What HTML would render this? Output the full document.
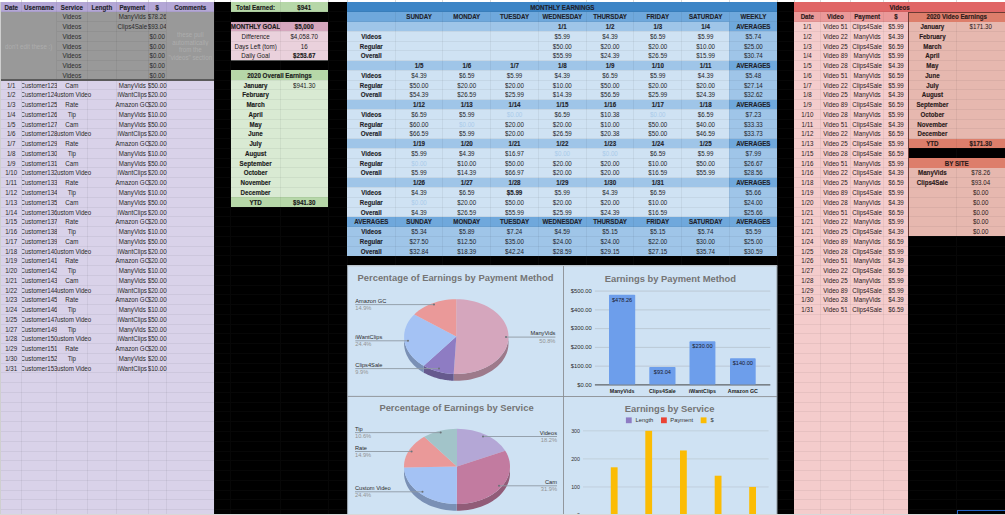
<!DOCTYPE html>
<html><head><meta charset="utf-8"><style>
html,body{margin:0;padding:0;}
body{width:1005px;height:515px;position:relative;overflow:hidden;background:#000;font-family:"Liberation Sans",sans-serif;}
#r>div{position:absolute;}
.t{overflow:hidden;}
.ti{position:absolute;top:0.5px;transform:scaleY(1.15);display:flex;align-items:center;white-space:nowrap;line-height:1;}
</style></head><body><div id="r">
<div style="left:0.00px;top:0.00px;width:1005.00px;height:515.00px;background:#000;"></div><div style="left:0.00px;top:0.00px;width:1005.00px;height:2.04px;background:#fff;"></div><div style="left:21.00px;top:2.04px;width:1.00px;height:512.96px;background:#070707;"></div><div style="left:56.00px;top:2.04px;width:1.00px;height:512.96px;background:#070707;"></div><div style="left:86.70px;top:2.04px;width:1.00px;height:512.96px;background:#070707;"></div><div style="left:116.10px;top:2.04px;width:1.00px;height:512.96px;background:#070707;"></div><div style="left:147.50px;top:2.04px;width:1.00px;height:512.96px;background:#070707;"></div><div style="left:165.90px;top:2.04px;width:1.00px;height:512.96px;background:#070707;"></div><div style="left:213.70px;top:2.04px;width:1.00px;height:512.96px;background:#070707;"></div><div style="left:230.40px;top:2.04px;width:1.00px;height:512.96px;background:#070707;"></div><div style="left:279.80px;top:2.04px;width:1.00px;height:512.96px;background:#070707;"></div><div style="left:327.60px;top:2.04px;width:1.00px;height:512.96px;background:#070707;"></div><div style="left:346.90px;top:2.04px;width:1.00px;height:512.96px;background:#070707;"></div><div style="left:394.66px;top:2.04px;width:1.00px;height:512.96px;background:#070707;"></div><div style="left:442.42px;top:2.04px;width:1.00px;height:512.96px;background:#070707;"></div><div style="left:490.18px;top:2.04px;width:1.00px;height:512.96px;background:#070707;"></div><div style="left:537.94px;top:2.04px;width:1.00px;height:512.96px;background:#070707;"></div><div style="left:585.70px;top:2.04px;width:1.00px;height:512.96px;background:#070707;"></div><div style="left:633.46px;top:2.04px;width:1.00px;height:512.96px;background:#070707;"></div><div style="left:681.22px;top:2.04px;width:1.00px;height:512.96px;background:#070707;"></div><div style="left:728.98px;top:2.04px;width:1.00px;height:512.96px;background:#070707;"></div><div style="left:776.74px;top:2.04px;width:1.00px;height:512.96px;background:#070707;"></div><div style="left:793.80px;top:2.04px;width:1.00px;height:512.96px;background:#070707;"></div><div style="left:819.90px;top:2.04px;width:1.00px;height:512.96px;background:#070707;"></div><div style="left:850.10px;top:2.04px;width:1.00px;height:512.96px;background:#070707;"></div><div style="left:883.20px;top:2.04px;width:1.00px;height:512.96px;background:#070707;"></div><div style="left:907.90px;top:2.04px;width:1.00px;height:512.96px;background:#070707;"></div><div style="left:955.90px;top:2.04px;width:1.00px;height:512.96px;background:#070707;"></div><div style="left:0.00px;top:11.30px;width:1005.00px;height:1.00px;background:#070707;"></div><div style="left:0.00px;top:21.06px;width:1005.00px;height:1.00px;background:#070707;"></div><div style="left:0.00px;top:30.82px;width:1005.00px;height:1.00px;background:#070707;"></div><div style="left:0.00px;top:40.58px;width:1005.00px;height:1.00px;background:#070707;"></div><div style="left:0.00px;top:50.34px;width:1005.00px;height:1.00px;background:#070707;"></div><div style="left:0.00px;top:60.10px;width:1005.00px;height:1.00px;background:#070707;"></div><div style="left:0.00px;top:69.86px;width:1005.00px;height:1.00px;background:#070707;"></div><div style="left:0.00px;top:79.62px;width:1005.00px;height:1.00px;background:#070707;"></div><div style="left:0.00px;top:89.38px;width:1005.00px;height:1.00px;background:#070707;"></div><div style="left:0.00px;top:99.14px;width:1005.00px;height:1.00px;background:#070707;"></div><div style="left:0.00px;top:108.90px;width:1005.00px;height:1.00px;background:#070707;"></div><div style="left:0.00px;top:118.66px;width:1005.00px;height:1.00px;background:#070707;"></div><div style="left:0.00px;top:128.42px;width:1005.00px;height:1.00px;background:#070707;"></div><div style="left:0.00px;top:138.18px;width:1005.00px;height:1.00px;background:#070707;"></div><div style="left:0.00px;top:147.94px;width:1005.00px;height:1.00px;background:#070707;"></div><div style="left:0.00px;top:157.70px;width:1005.00px;height:1.00px;background:#070707;"></div><div style="left:0.00px;top:167.46px;width:1005.00px;height:1.00px;background:#070707;"></div><div style="left:0.00px;top:177.22px;width:1005.00px;height:1.00px;background:#070707;"></div><div style="left:0.00px;top:186.98px;width:1005.00px;height:1.00px;background:#070707;"></div><div style="left:0.00px;top:196.74px;width:1005.00px;height:1.00px;background:#070707;"></div><div style="left:0.00px;top:206.50px;width:1005.00px;height:1.00px;background:#070707;"></div><div style="left:0.00px;top:216.26px;width:1005.00px;height:1.00px;background:#070707;"></div><div style="left:0.00px;top:226.02px;width:1005.00px;height:1.00px;background:#070707;"></div><div style="left:0.00px;top:235.78px;width:1005.00px;height:1.00px;background:#070707;"></div><div style="left:0.00px;top:245.54px;width:1005.00px;height:1.00px;background:#070707;"></div><div style="left:0.00px;top:255.30px;width:1005.00px;height:1.00px;background:#070707;"></div><div style="left:0.00px;top:265.06px;width:1005.00px;height:1.00px;background:#070707;"></div><div style="left:0.00px;top:274.82px;width:1005.00px;height:1.00px;background:#070707;"></div><div style="left:0.00px;top:284.58px;width:1005.00px;height:1.00px;background:#070707;"></div><div style="left:0.00px;top:294.34px;width:1005.00px;height:1.00px;background:#070707;"></div><div style="left:0.00px;top:304.10px;width:1005.00px;height:1.00px;background:#070707;"></div><div style="left:0.00px;top:313.86px;width:1005.00px;height:1.00px;background:#070707;"></div><div style="left:0.00px;top:323.62px;width:1005.00px;height:1.00px;background:#070707;"></div><div style="left:0.00px;top:333.38px;width:1005.00px;height:1.00px;background:#070707;"></div><div style="left:0.00px;top:343.14px;width:1005.00px;height:1.00px;background:#070707;"></div><div style="left:0.00px;top:352.90px;width:1005.00px;height:1.00px;background:#070707;"></div><div style="left:0.00px;top:362.66px;width:1005.00px;height:1.00px;background:#070707;"></div><div style="left:0.00px;top:372.42px;width:1005.00px;height:1.00px;background:#070707;"></div><div style="left:0.00px;top:382.18px;width:1005.00px;height:1.00px;background:#070707;"></div><div style="left:0.00px;top:391.94px;width:1005.00px;height:1.00px;background:#070707;"></div><div style="left:0.00px;top:401.70px;width:1005.00px;height:1.00px;background:#070707;"></div><div style="left:0.00px;top:411.46px;width:1005.00px;height:1.00px;background:#070707;"></div><div style="left:0.00px;top:421.22px;width:1005.00px;height:1.00px;background:#070707;"></div><div style="left:0.00px;top:430.98px;width:1005.00px;height:1.00px;background:#070707;"></div><div style="left:0.00px;top:440.74px;width:1005.00px;height:1.00px;background:#070707;"></div><div style="left:0.00px;top:450.50px;width:1005.00px;height:1.00px;background:#070707;"></div><div style="left:0.00px;top:460.26px;width:1005.00px;height:1.00px;background:#070707;"></div><div style="left:0.00px;top:470.02px;width:1005.00px;height:1.00px;background:#070707;"></div><div style="left:0.00px;top:479.78px;width:1005.00px;height:1.00px;background:#070707;"></div><div style="left:0.00px;top:489.54px;width:1005.00px;height:1.00px;background:#070707;"></div><div style="left:0.00px;top:499.30px;width:1005.00px;height:1.00px;background:#070707;"></div><div style="left:0.00px;top:509.06px;width:1005.00px;height:1.00px;background:#070707;"></div><div style="left:0.00px;top:518.82px;width:1005.00px;height:1.00px;background:#070707;"></div><div style="left:0.00px;top:2.04px;width:214.20px;height:512.96px;background:#d9d2e9;"></div><div style="left:0.00px;top:2.04px;width:0.90px;height:512.96px;background:#cfcfcf;"></div><div style="left:0.90px;top:2.04px;width:213.30px;height:9.76px;background:#b4a7d6;"></div><div style="left:0.90px;top:11.80px;width:213.30px;height:68.32px;background:#999999;"></div><div style="left:0.90px;top:11.80px;width:55.10px;height:67.82px;background:#999999;"></div><div style="left:166.90px;top:11.80px;width:47.30px;height:67.82px;background:#999999;"></div><div style="left:230.90px;top:2.04px;width:97.20px;height:9.76px;background:#b6d7a8;"></div><div style="left:230.90px;top:21.56px;width:97.20px;height:9.76px;background:#d5a6bd;"></div><div style="left:230.90px;top:31.32px;width:97.20px;height:9.76px;background:#ead1dc;"></div><div style="left:230.90px;top:41.08px;width:97.20px;height:9.76px;background:#ead1dc;"></div><div style="left:230.90px;top:50.84px;width:97.20px;height:9.76px;background:#ead1dc;"></div><div style="left:230.90px;top:70.36px;width:97.20px;height:9.76px;background:#b6d7a8;"></div><div style="left:230.90px;top:80.12px;width:97.20px;height:9.76px;background:#d9ead3;"></div><div style="left:230.90px;top:89.88px;width:97.20px;height:9.76px;background:#d9ead3;"></div><div style="left:230.90px;top:99.64px;width:97.20px;height:9.76px;background:#d9ead3;"></div><div style="left:230.90px;top:109.40px;width:97.20px;height:9.76px;background:#d9ead3;"></div><div style="left:230.90px;top:119.16px;width:97.20px;height:9.76px;background:#d9ead3;"></div><div style="left:230.90px;top:128.92px;width:97.20px;height:9.76px;background:#d9ead3;"></div><div style="left:230.90px;top:138.68px;width:97.20px;height:9.76px;background:#d9ead3;"></div><div style="left:230.90px;top:148.44px;width:97.20px;height:9.76px;background:#d9ead3;"></div><div style="left:230.90px;top:158.20px;width:97.20px;height:9.76px;background:#d9ead3;"></div><div style="left:230.90px;top:167.96px;width:97.20px;height:9.76px;background:#d9ead3;"></div><div style="left:230.90px;top:177.72px;width:97.20px;height:9.76px;background:#d9ead3;"></div><div style="left:230.90px;top:187.48px;width:97.20px;height:9.76px;background:#d9ead3;"></div><div style="left:230.90px;top:197.24px;width:97.20px;height:9.76px;background:#b6d7a8;"></div><div style="left:347.40px;top:2.04px;width:429.84px;height:9.76px;background:#3d85c6;"></div><div style="left:347.40px;top:11.80px;width:429.84px;height:9.76px;background:#6fa8dc;"></div><div style="left:347.40px;top:21.56px;width:382.08px;height:9.76px;background:#9fc5e8;"></div><div style="left:729.48px;top:21.56px;width:47.76px;height:9.76px;background:#6fa8dc;"></div><div style="left:347.40px;top:31.32px;width:382.08px;height:9.76px;background:#cfe2f3;"></div><div style="left:729.48px;top:31.32px;width:47.76px;height:9.76px;background:#9fc5e8;"></div><div style="left:347.40px;top:41.08px;width:382.08px;height:9.76px;background:#cfe2f3;"></div><div style="left:729.48px;top:41.08px;width:47.76px;height:9.76px;background:#9fc5e8;"></div><div style="left:347.40px;top:50.84px;width:382.08px;height:9.76px;background:#cfe2f3;"></div><div style="left:729.48px;top:50.84px;width:47.76px;height:9.76px;background:#9fc5e8;"></div><div style="left:347.40px;top:60.60px;width:382.08px;height:9.76px;background:#9fc5e8;"></div><div style="left:729.48px;top:60.60px;width:47.76px;height:9.76px;background:#6fa8dc;"></div><div style="left:347.40px;top:70.36px;width:382.08px;height:9.76px;background:#cfe2f3;"></div><div style="left:729.48px;top:70.36px;width:47.76px;height:9.76px;background:#9fc5e8;"></div><div style="left:347.40px;top:80.12px;width:382.08px;height:9.76px;background:#cfe2f3;"></div><div style="left:729.48px;top:80.12px;width:47.76px;height:9.76px;background:#9fc5e8;"></div><div style="left:347.40px;top:89.88px;width:382.08px;height:9.76px;background:#cfe2f3;"></div><div style="left:729.48px;top:89.88px;width:47.76px;height:9.76px;background:#9fc5e8;"></div><div style="left:347.40px;top:99.64px;width:382.08px;height:9.76px;background:#9fc5e8;"></div><div style="left:729.48px;top:99.64px;width:47.76px;height:9.76px;background:#6fa8dc;"></div><div style="left:347.40px;top:109.40px;width:382.08px;height:9.76px;background:#cfe2f3;"></div><div style="left:729.48px;top:109.40px;width:47.76px;height:9.76px;background:#9fc5e8;"></div><div style="left:347.40px;top:119.16px;width:382.08px;height:9.76px;background:#cfe2f3;"></div><div style="left:729.48px;top:119.16px;width:47.76px;height:9.76px;background:#9fc5e8;"></div><div style="left:347.40px;top:128.92px;width:382.08px;height:9.76px;background:#cfe2f3;"></div><div style="left:729.48px;top:128.92px;width:47.76px;height:9.76px;background:#9fc5e8;"></div><div style="left:347.40px;top:138.68px;width:382.08px;height:9.76px;background:#9fc5e8;"></div><div style="left:729.48px;top:138.68px;width:47.76px;height:9.76px;background:#6fa8dc;"></div><div style="left:347.40px;top:148.44px;width:382.08px;height:9.76px;background:#cfe2f3;"></div><div style="left:729.48px;top:148.44px;width:47.76px;height:9.76px;background:#9fc5e8;"></div><div style="left:347.40px;top:158.20px;width:382.08px;height:9.76px;background:#cfe2f3;"></div><div style="left:729.48px;top:158.20px;width:47.76px;height:9.76px;background:#9fc5e8;"></div><div style="left:347.40px;top:167.96px;width:382.08px;height:9.76px;background:#cfe2f3;"></div><div style="left:729.48px;top:167.96px;width:47.76px;height:9.76px;background:#9fc5e8;"></div><div style="left:347.40px;top:177.72px;width:382.08px;height:9.76px;background:#9fc5e8;"></div><div style="left:729.48px;top:177.72px;width:47.76px;height:9.76px;background:#6fa8dc;"></div><div style="left:347.40px;top:187.48px;width:382.08px;height:9.76px;background:#cfe2f3;"></div><div style="left:729.48px;top:187.48px;width:47.76px;height:9.76px;background:#9fc5e8;"></div><div style="left:347.40px;top:197.24px;width:382.08px;height:9.76px;background:#cfe2f3;"></div><div style="left:729.48px;top:197.24px;width:47.76px;height:9.76px;background:#9fc5e8;"></div><div style="left:347.40px;top:207.00px;width:382.08px;height:9.76px;background:#cfe2f3;"></div><div style="left:729.48px;top:207.00px;width:47.76px;height:9.76px;background:#9fc5e8;"></div><div style="left:347.40px;top:216.76px;width:429.84px;height:9.76px;background:#6fa8dc;"></div><div style="left:347.40px;top:226.52px;width:429.84px;height:9.76px;background:#9fc5e8;"></div><div style="left:347.40px;top:236.28px;width:429.84px;height:9.76px;background:#9fc5e8;"></div><div style="left:347.40px;top:246.04px;width:429.84px;height:9.76px;background:#9fc5e8;"></div><div style="left:794.30px;top:2.04px;width:114.10px;height:512.96px;background:#f4cccc;"></div><div style="left:794.30px;top:2.04px;width:210.70px;height:9.76px;background:#e06666;"></div><div style="left:794.30px;top:11.80px;width:114.10px;height:9.76px;background:#ea9999;"></div><div style="left:908.40px;top:11.80px;width:96.60px;height:9.76px;background:#dd7e6b;"></div><div style="left:908.40px;top:21.56px;width:96.60px;height:9.76px;background:#e6b8af;"></div><div style="left:908.40px;top:31.32px;width:96.60px;height:9.76px;background:#e6b8af;"></div><div style="left:908.40px;top:41.08px;width:96.60px;height:9.76px;background:#e6b8af;"></div><div style="left:908.40px;top:50.84px;width:96.60px;height:9.76px;background:#e6b8af;"></div><div style="left:908.40px;top:60.60px;width:96.60px;height:9.76px;background:#e6b8af;"></div><div style="left:908.40px;top:70.36px;width:96.60px;height:9.76px;background:#e6b8af;"></div><div style="left:908.40px;top:80.12px;width:96.60px;height:9.76px;background:#e6b8af;"></div><div style="left:908.40px;top:89.88px;width:96.60px;height:9.76px;background:#e6b8af;"></div><div style="left:908.40px;top:99.64px;width:96.60px;height:9.76px;background:#e6b8af;"></div><div style="left:908.40px;top:109.40px;width:96.60px;height:9.76px;background:#e6b8af;"></div><div style="left:908.40px;top:119.16px;width:96.60px;height:9.76px;background:#e6b8af;"></div><div style="left:908.40px;top:128.92px;width:96.60px;height:9.76px;background:#e6b8af;"></div><div style="left:908.40px;top:138.68px;width:96.60px;height:9.76px;background:#dd7e6b;"></div><div style="left:908.40px;top:158.20px;width:96.60px;height:9.76px;background:#dd7e6b;"></div><div style="left:908.40px;top:167.96px;width:96.60px;height:9.76px;background:#e6b8af;"></div><div style="left:908.40px;top:177.72px;width:96.60px;height:9.76px;background:#e6b8af;"></div><div style="left:908.40px;top:187.48px;width:96.60px;height:9.76px;background:#e6b8af;"></div><div style="left:908.40px;top:197.24px;width:96.60px;height:9.76px;background:#e6b8af;"></div><div style="left:908.40px;top:207.00px;width:96.60px;height:9.76px;background:#e6b8af;"></div><div style="left:908.40px;top:216.76px;width:96.60px;height:9.76px;background:#e6b8af;"></div><div style="left:908.40px;top:226.52px;width:96.60px;height:9.76px;background:#e6b8af;"></div><div style="left:0.90px;top:11.30px;width:213.30px;height:1px;background:rgba(0,0,0,0.05)"></div><div style="left:56.50px;top:21.06px;width:109.90px;height:1px;background:rgba(0,0,0,0.05)"></div><div style="left:56.50px;top:30.82px;width:109.90px;height:1px;background:rgba(0,0,0,0.05)"></div><div style="left:56.50px;top:40.58px;width:109.90px;height:1px;background:rgba(0,0,0,0.05)"></div><div style="left:56.50px;top:50.34px;width:109.90px;height:1px;background:rgba(0,0,0,0.05)"></div><div style="left:56.50px;top:60.10px;width:109.90px;height:1px;background:rgba(0,0,0,0.05)"></div><div style="left:56.50px;top:69.86px;width:109.90px;height:1px;background:rgba(0,0,0,0.05)"></div><div style="left:0.90px;top:79.62px;width:213.30px;height:1px;background:rgba(0,0,0,0.05)"></div><div style="left:0.90px;top:89.38px;width:213.30px;height:1px;background:rgba(0,0,0,0.05)"></div><div style="left:0.90px;top:99.14px;width:213.30px;height:1px;background:rgba(0,0,0,0.05)"></div><div style="left:0.90px;top:108.90px;width:213.30px;height:1px;background:rgba(0,0,0,0.05)"></div><div style="left:0.90px;top:118.66px;width:213.30px;height:1px;background:rgba(0,0,0,0.05)"></div><div style="left:0.90px;top:128.42px;width:213.30px;height:1px;background:rgba(0,0,0,0.05)"></div><div style="left:0.90px;top:138.18px;width:213.30px;height:1px;background:rgba(0,0,0,0.05)"></div><div style="left:0.90px;top:147.94px;width:213.30px;height:1px;background:rgba(0,0,0,0.05)"></div><div style="left:0.90px;top:157.70px;width:213.30px;height:1px;background:rgba(0,0,0,0.05)"></div><div style="left:0.90px;top:167.46px;width:213.30px;height:1px;background:rgba(0,0,0,0.05)"></div><div style="left:0.90px;top:177.22px;width:213.30px;height:1px;background:rgba(0,0,0,0.05)"></div><div style="left:0.90px;top:186.98px;width:213.30px;height:1px;background:rgba(0,0,0,0.05)"></div><div style="left:0.90px;top:196.74px;width:213.30px;height:1px;background:rgba(0,0,0,0.05)"></div><div style="left:0.90px;top:206.50px;width:213.30px;height:1px;background:rgba(0,0,0,0.05)"></div><div style="left:0.90px;top:216.26px;width:213.30px;height:1px;background:rgba(0,0,0,0.05)"></div><div style="left:0.90px;top:226.02px;width:213.30px;height:1px;background:rgba(0,0,0,0.05)"></div><div style="left:0.90px;top:235.78px;width:213.30px;height:1px;background:rgba(0,0,0,0.05)"></div><div style="left:0.90px;top:245.54px;width:213.30px;height:1px;background:rgba(0,0,0,0.05)"></div><div style="left:0.90px;top:255.30px;width:213.30px;height:1px;background:rgba(0,0,0,0.05)"></div><div style="left:0.90px;top:265.06px;width:213.30px;height:1px;background:rgba(0,0,0,0.05)"></div><div style="left:0.90px;top:274.82px;width:213.30px;height:1px;background:rgba(0,0,0,0.05)"></div><div style="left:0.90px;top:284.58px;width:213.30px;height:1px;background:rgba(0,0,0,0.05)"></div><div style="left:0.90px;top:294.34px;width:213.30px;height:1px;background:rgba(0,0,0,0.05)"></div><div style="left:0.90px;top:304.10px;width:213.30px;height:1px;background:rgba(0,0,0,0.05)"></div><div style="left:0.90px;top:313.86px;width:213.30px;height:1px;background:rgba(0,0,0,0.05)"></div><div style="left:0.90px;top:323.62px;width:213.30px;height:1px;background:rgba(0,0,0,0.05)"></div><div style="left:0.90px;top:333.38px;width:213.30px;height:1px;background:rgba(0,0,0,0.05)"></div><div style="left:0.90px;top:343.14px;width:213.30px;height:1px;background:rgba(0,0,0,0.05)"></div><div style="left:0.90px;top:352.90px;width:213.30px;height:1px;background:rgba(0,0,0,0.05)"></div><div style="left:0.90px;top:362.66px;width:213.30px;height:1px;background:rgba(0,0,0,0.05)"></div><div style="left:0.90px;top:372.42px;width:213.30px;height:1px;background:rgba(0,0,0,0.05)"></div><div style="left:0.90px;top:382.18px;width:213.30px;height:1px;background:rgba(0,0,0,0.05)"></div><div style="left:0.90px;top:391.94px;width:213.30px;height:1px;background:rgba(0,0,0,0.05)"></div><div style="left:0.90px;top:401.70px;width:213.30px;height:1px;background:rgba(0,0,0,0.05)"></div><div style="left:0.90px;top:411.46px;width:213.30px;height:1px;background:rgba(0,0,0,0.05)"></div><div style="left:0.90px;top:421.22px;width:213.30px;height:1px;background:rgba(0,0,0,0.05)"></div><div style="left:0.90px;top:430.98px;width:213.30px;height:1px;background:rgba(0,0,0,0.05)"></div><div style="left:0.90px;top:440.74px;width:213.30px;height:1px;background:rgba(0,0,0,0.05)"></div><div style="left:0.90px;top:450.50px;width:213.30px;height:1px;background:rgba(0,0,0,0.05)"></div><div style="left:0.90px;top:460.26px;width:213.30px;height:1px;background:rgba(0,0,0,0.05)"></div><div style="left:0.90px;top:470.02px;width:213.30px;height:1px;background:rgba(0,0,0,0.05)"></div><div style="left:0.90px;top:479.78px;width:213.30px;height:1px;background:rgba(0,0,0,0.05)"></div><div style="left:0.90px;top:489.54px;width:213.30px;height:1px;background:rgba(0,0,0,0.05)"></div><div style="left:0.90px;top:499.30px;width:213.30px;height:1px;background:rgba(0,0,0,0.05)"></div><div style="left:0.90px;top:509.06px;width:213.30px;height:1px;background:rgba(0,0,0,0.05)"></div><div style="left:0.90px;top:518.82px;width:213.30px;height:1px;background:rgba(0,0,0,0.05)"></div><div style="left:21.00px;top:2.04px;width:1px;height:9.76px;background:rgba(0,0,0,0.05)"></div><div style="left:21.00px;top:80.12px;width:1px;height:434.88px;background:rgba(0,0,0,0.05)"></div><div style="left:56.00px;top:2.04px;width:1px;height:512.96px;background:rgba(0,0,0,0.05)"></div><div style="left:86.70px;top:2.04px;width:1px;height:512.96px;background:rgba(0,0,0,0.05)"></div><div style="left:116.10px;top:2.04px;width:1px;height:512.96px;background:rgba(0,0,0,0.05)"></div><div style="left:147.50px;top:2.04px;width:1px;height:512.96px;background:rgba(0,0,0,0.05)"></div><div style="left:165.90px;top:2.04px;width:1px;height:512.96px;background:rgba(0,0,0,0.05)"></div><div style="left:0.90px;top:79.12px;width:213.30px;height:1.5px;background:#5a5a5a"></div><div style="left:279.80px;top:2.04px;width:1px;height:9.76px;background:rgba(0,0,0,0.05)"></div><div style="left:230.90px;top:11.30px;width:97.20px;height:1px;background:rgba(0,0,0,0.05)"></div><div style="left:279.80px;top:21.56px;width:1px;height:9.76px;background:rgba(0,0,0,0.05)"></div><div style="left:230.90px;top:30.82px;width:97.20px;height:1px;background:rgba(0,0,0,0.05)"></div><div style="left:279.80px;top:31.32px;width:1px;height:9.76px;background:rgba(0,0,0,0.05)"></div><div style="left:230.90px;top:40.58px;width:97.20px;height:1px;background:rgba(0,0,0,0.05)"></div><div style="left:279.80px;top:41.08px;width:1px;height:9.76px;background:rgba(0,0,0,0.05)"></div><div style="left:230.90px;top:50.34px;width:97.20px;height:1px;background:rgba(0,0,0,0.05)"></div><div style="left:279.80px;top:50.84px;width:1px;height:9.76px;background:rgba(0,0,0,0.05)"></div><div style="left:230.90px;top:60.10px;width:97.20px;height:1px;background:rgba(0,0,0,0.05)"></div><div style="left:230.90px;top:60.30px;width:97.20px;height:1px;background:#555"></div><div style="left:230.90px;top:79.62px;width:97.20px;height:1px;background:rgba(0,0,0,0.05)"></div><div style="left:279.80px;top:80.12px;width:1px;height:9.76px;background:rgba(0,0,0,0.05)"></div><div style="left:230.90px;top:89.38px;width:97.20px;height:1px;background:rgba(0,0,0,0.05)"></div><div style="left:279.80px;top:89.88px;width:1px;height:9.76px;background:rgba(0,0,0,0.05)"></div><div style="left:230.90px;top:99.14px;width:97.20px;height:1px;background:rgba(0,0,0,0.05)"></div><div style="left:279.80px;top:99.64px;width:1px;height:9.76px;background:rgba(0,0,0,0.05)"></div><div style="left:230.90px;top:108.90px;width:97.20px;height:1px;background:rgba(0,0,0,0.05)"></div><div style="left:279.80px;top:109.40px;width:1px;height:9.76px;background:rgba(0,0,0,0.05)"></div><div style="left:230.90px;top:118.66px;width:97.20px;height:1px;background:rgba(0,0,0,0.05)"></div><div style="left:279.80px;top:119.16px;width:1px;height:9.76px;background:rgba(0,0,0,0.05)"></div><div style="left:230.90px;top:128.42px;width:97.20px;height:1px;background:rgba(0,0,0,0.05)"></div><div style="left:279.80px;top:128.92px;width:1px;height:9.76px;background:rgba(0,0,0,0.05)"></div><div style="left:230.90px;top:138.18px;width:97.20px;height:1px;background:rgba(0,0,0,0.05)"></div><div style="left:279.80px;top:138.68px;width:1px;height:9.76px;background:rgba(0,0,0,0.05)"></div><div style="left:230.90px;top:147.94px;width:97.20px;height:1px;background:rgba(0,0,0,0.05)"></div><div style="left:279.80px;top:148.44px;width:1px;height:9.76px;background:rgba(0,0,0,0.05)"></div><div style="left:230.90px;top:157.70px;width:97.20px;height:1px;background:rgba(0,0,0,0.05)"></div><div style="left:279.80px;top:158.20px;width:1px;height:9.76px;background:rgba(0,0,0,0.05)"></div><div style="left:230.90px;top:167.46px;width:97.20px;height:1px;background:rgba(0,0,0,0.05)"></div><div style="left:279.80px;top:167.96px;width:1px;height:9.76px;background:rgba(0,0,0,0.05)"></div><div style="left:230.90px;top:177.22px;width:97.20px;height:1px;background:rgba(0,0,0,0.05)"></div><div style="left:279.80px;top:177.72px;width:1px;height:9.76px;background:rgba(0,0,0,0.05)"></div><div style="left:230.90px;top:186.98px;width:97.20px;height:1px;background:rgba(0,0,0,0.05)"></div><div style="left:279.80px;top:187.48px;width:1px;height:9.76px;background:rgba(0,0,0,0.05)"></div><div style="left:230.90px;top:196.74px;width:97.20px;height:1px;background:rgba(0,0,0,0.05)"></div><div style="left:279.80px;top:197.24px;width:1px;height:9.76px;background:rgba(0,0,0,0.05)"></div><div style="left:230.90px;top:206.50px;width:97.20px;height:1px;background:rgba(0,0,0,0.05)"></div><div style="left:347.40px;top:11.30px;width:429.84px;height:1px;background:rgba(0,0,0,0.05)"></div><div style="left:347.40px;top:21.06px;width:429.84px;height:1px;background:rgba(0,0,0,0.05)"></div><div style="left:347.40px;top:30.82px;width:429.84px;height:1px;background:rgba(0,0,0,0.05)"></div><div style="left:347.40px;top:40.58px;width:429.84px;height:1px;background:rgba(0,0,0,0.05)"></div><div style="left:347.40px;top:50.34px;width:429.84px;height:1px;background:rgba(0,0,0,0.05)"></div><div style="left:347.40px;top:60.10px;width:429.84px;height:1px;background:rgba(0,0,0,0.05)"></div><div style="left:347.40px;top:69.86px;width:429.84px;height:1px;background:rgba(0,0,0,0.05)"></div><div style="left:347.40px;top:79.62px;width:429.84px;height:1px;background:rgba(0,0,0,0.05)"></div><div style="left:347.40px;top:89.38px;width:429.84px;height:1px;background:rgba(0,0,0,0.05)"></div><div style="left:347.40px;top:99.14px;width:429.84px;height:1px;background:rgba(0,0,0,0.05)"></div><div style="left:347.40px;top:108.90px;width:429.84px;height:1px;background:rgba(0,0,0,0.05)"></div><div style="left:347.40px;top:118.66px;width:429.84px;height:1px;background:rgba(0,0,0,0.05)"></div><div style="left:347.40px;top:128.42px;width:429.84px;height:1px;background:rgba(0,0,0,0.05)"></div><div style="left:347.40px;top:138.18px;width:429.84px;height:1px;background:rgba(0,0,0,0.05)"></div><div style="left:347.40px;top:147.94px;width:429.84px;height:1px;background:rgba(0,0,0,0.05)"></div><div style="left:347.40px;top:157.70px;width:429.84px;height:1px;background:rgba(0,0,0,0.05)"></div><div style="left:347.40px;top:167.46px;width:429.84px;height:1px;background:rgba(0,0,0,0.05)"></div><div style="left:347.40px;top:177.22px;width:429.84px;height:1px;background:rgba(0,0,0,0.05)"></div><div style="left:347.40px;top:186.98px;width:429.84px;height:1px;background:rgba(0,0,0,0.05)"></div><div style="left:347.40px;top:196.74px;width:429.84px;height:1px;background:rgba(0,0,0,0.05)"></div><div style="left:347.40px;top:206.50px;width:429.84px;height:1px;background:rgba(0,0,0,0.05)"></div><div style="left:347.40px;top:216.26px;width:429.84px;height:1px;background:rgba(0,0,0,0.05)"></div><div style="left:347.40px;top:226.02px;width:429.84px;height:1px;background:rgba(0,0,0,0.05)"></div><div style="left:347.40px;top:235.78px;width:429.84px;height:1px;background:rgba(0,0,0,0.05)"></div><div style="left:347.40px;top:245.54px;width:429.84px;height:1px;background:rgba(0,0,0,0.05)"></div><div style="left:394.66px;top:11.80px;width:1px;height:244.00px;background:rgba(0,0,0,0.05)"></div><div style="left:442.42px;top:11.80px;width:1px;height:244.00px;background:rgba(0,0,0,0.05)"></div><div style="left:490.18px;top:11.80px;width:1px;height:244.00px;background:rgba(0,0,0,0.05)"></div><div style="left:537.94px;top:11.80px;width:1px;height:244.00px;background:rgba(0,0,0,0.05)"></div><div style="left:585.70px;top:11.80px;width:1px;height:244.00px;background:rgba(0,0,0,0.05)"></div><div style="left:633.46px;top:11.80px;width:1px;height:244.00px;background:rgba(0,0,0,0.05)"></div><div style="left:681.22px;top:11.80px;width:1px;height:244.00px;background:rgba(0,0,0,0.05)"></div><div style="left:728.98px;top:11.80px;width:1px;height:244.00px;background:rgba(0,0,0,0.05)"></div><div style="left:794.30px;top:11.30px;width:114.10px;height:1px;background:rgba(0,0,0,0.05)"></div><div style="left:794.30px;top:21.06px;width:114.10px;height:1px;background:rgba(0,0,0,0.05)"></div><div style="left:794.30px;top:30.82px;width:114.10px;height:1px;background:rgba(0,0,0,0.05)"></div><div style="left:794.30px;top:40.58px;width:114.10px;height:1px;background:rgba(0,0,0,0.05)"></div><div style="left:794.30px;top:50.34px;width:114.10px;height:1px;background:rgba(0,0,0,0.05)"></div><div style="left:794.30px;top:60.10px;width:114.10px;height:1px;background:rgba(0,0,0,0.05)"></div><div style="left:794.30px;top:69.86px;width:114.10px;height:1px;background:rgba(0,0,0,0.05)"></div><div style="left:794.30px;top:79.62px;width:114.10px;height:1px;background:rgba(0,0,0,0.05)"></div><div style="left:794.30px;top:89.38px;width:114.10px;height:1px;background:rgba(0,0,0,0.05)"></div><div style="left:794.30px;top:99.14px;width:114.10px;height:1px;background:rgba(0,0,0,0.05)"></div><div style="left:794.30px;top:108.90px;width:114.10px;height:1px;background:rgba(0,0,0,0.05)"></div><div style="left:794.30px;top:118.66px;width:114.10px;height:1px;background:rgba(0,0,0,0.05)"></div><div style="left:794.30px;top:128.42px;width:114.10px;height:1px;background:rgba(0,0,0,0.05)"></div><div style="left:794.30px;top:138.18px;width:114.10px;height:1px;background:rgba(0,0,0,0.05)"></div><div style="left:794.30px;top:147.94px;width:114.10px;height:1px;background:rgba(0,0,0,0.05)"></div><div style="left:794.30px;top:157.70px;width:114.10px;height:1px;background:rgba(0,0,0,0.05)"></div><div style="left:794.30px;top:167.46px;width:114.10px;height:1px;background:rgba(0,0,0,0.05)"></div><div style="left:794.30px;top:177.22px;width:114.10px;height:1px;background:rgba(0,0,0,0.05)"></div><div style="left:794.30px;top:186.98px;width:114.10px;height:1px;background:rgba(0,0,0,0.05)"></div><div style="left:794.30px;top:196.74px;width:114.10px;height:1px;background:rgba(0,0,0,0.05)"></div><div style="left:794.30px;top:206.50px;width:114.10px;height:1px;background:rgba(0,0,0,0.05)"></div><div style="left:794.30px;top:216.26px;width:114.10px;height:1px;background:rgba(0,0,0,0.05)"></div><div style="left:794.30px;top:226.02px;width:114.10px;height:1px;background:rgba(0,0,0,0.05)"></div><div style="left:794.30px;top:235.78px;width:114.10px;height:1px;background:rgba(0,0,0,0.05)"></div><div style="left:794.30px;top:245.54px;width:114.10px;height:1px;background:rgba(0,0,0,0.05)"></div><div style="left:794.30px;top:255.30px;width:114.10px;height:1px;background:rgba(0,0,0,0.05)"></div><div style="left:794.30px;top:265.06px;width:114.10px;height:1px;background:rgba(0,0,0,0.05)"></div><div style="left:794.30px;top:274.82px;width:114.10px;height:1px;background:rgba(0,0,0,0.05)"></div><div style="left:794.30px;top:284.58px;width:114.10px;height:1px;background:rgba(0,0,0,0.05)"></div><div style="left:794.30px;top:294.34px;width:114.10px;height:1px;background:rgba(0,0,0,0.05)"></div><div style="left:794.30px;top:304.10px;width:114.10px;height:1px;background:rgba(0,0,0,0.05)"></div><div style="left:794.30px;top:313.86px;width:114.10px;height:1px;background:rgba(0,0,0,0.05)"></div><div style="left:794.30px;top:323.62px;width:114.10px;height:1px;background:rgba(0,0,0,0.05)"></div><div style="left:794.30px;top:333.38px;width:114.10px;height:1px;background:rgba(0,0,0,0.05)"></div><div style="left:794.30px;top:343.14px;width:114.10px;height:1px;background:rgba(0,0,0,0.05)"></div><div style="left:794.30px;top:352.90px;width:114.10px;height:1px;background:rgba(0,0,0,0.05)"></div><div style="left:794.30px;top:362.66px;width:114.10px;height:1px;background:rgba(0,0,0,0.05)"></div><div style="left:794.30px;top:372.42px;width:114.10px;height:1px;background:rgba(0,0,0,0.05)"></div><div style="left:794.30px;top:382.18px;width:114.10px;height:1px;background:rgba(0,0,0,0.05)"></div><div style="left:794.30px;top:391.94px;width:114.10px;height:1px;background:rgba(0,0,0,0.05)"></div><div style="left:794.30px;top:401.70px;width:114.10px;height:1px;background:rgba(0,0,0,0.05)"></div><div style="left:794.30px;top:411.46px;width:114.10px;height:1px;background:rgba(0,0,0,0.05)"></div><div style="left:794.30px;top:421.22px;width:114.10px;height:1px;background:rgba(0,0,0,0.05)"></div><div style="left:794.30px;top:430.98px;width:114.10px;height:1px;background:rgba(0,0,0,0.05)"></div><div style="left:794.30px;top:440.74px;width:114.10px;height:1px;background:rgba(0,0,0,0.05)"></div><div style="left:794.30px;top:450.50px;width:114.10px;height:1px;background:rgba(0,0,0,0.05)"></div><div style="left:794.30px;top:460.26px;width:114.10px;height:1px;background:rgba(0,0,0,0.05)"></div><div style="left:794.30px;top:470.02px;width:114.10px;height:1px;background:rgba(0,0,0,0.05)"></div><div style="left:794.30px;top:479.78px;width:114.10px;height:1px;background:rgba(0,0,0,0.05)"></div><div style="left:794.30px;top:489.54px;width:114.10px;height:1px;background:rgba(0,0,0,0.05)"></div><div style="left:794.30px;top:499.30px;width:114.10px;height:1px;background:rgba(0,0,0,0.05)"></div><div style="left:794.30px;top:509.06px;width:114.10px;height:1px;background:rgba(0,0,0,0.05)"></div><div style="left:794.30px;top:518.82px;width:114.10px;height:1px;background:rgba(0,0,0,0.05)"></div><div style="left:819.90px;top:11.80px;width:1px;height:503.20px;background:rgba(0,0,0,0.05)"></div><div style="left:850.10px;top:11.80px;width:1px;height:503.20px;background:rgba(0,0,0,0.05)"></div><div style="left:883.20px;top:11.80px;width:1px;height:503.20px;background:rgba(0,0,0,0.05)"></div><div style="left:955.90px;top:21.56px;width:1px;height:9.76px;background:rgba(0,0,0,0.05)"></div><div style="left:908.40px;top:30.82px;width:96.60px;height:1px;background:rgba(0,0,0,0.05)"></div><div style="left:955.90px;top:31.32px;width:1px;height:9.76px;background:rgba(0,0,0,0.05)"></div><div style="left:908.40px;top:40.58px;width:96.60px;height:1px;background:rgba(0,0,0,0.05)"></div><div style="left:955.90px;top:41.08px;width:1px;height:9.76px;background:rgba(0,0,0,0.05)"></div><div style="left:908.40px;top:50.34px;width:96.60px;height:1px;background:rgba(0,0,0,0.05)"></div><div style="left:955.90px;top:50.84px;width:1px;height:9.76px;background:rgba(0,0,0,0.05)"></div><div style="left:908.40px;top:60.10px;width:96.60px;height:1px;background:rgba(0,0,0,0.05)"></div><div style="left:955.90px;top:60.60px;width:1px;height:9.76px;background:rgba(0,0,0,0.05)"></div><div style="left:908.40px;top:69.86px;width:96.60px;height:1px;background:rgba(0,0,0,0.05)"></div><div style="left:955.90px;top:70.36px;width:1px;height:9.76px;background:rgba(0,0,0,0.05)"></div><div style="left:908.40px;top:79.62px;width:96.60px;height:1px;background:rgba(0,0,0,0.05)"></div><div style="left:955.90px;top:80.12px;width:1px;height:9.76px;background:rgba(0,0,0,0.05)"></div><div style="left:908.40px;top:89.38px;width:96.60px;height:1px;background:rgba(0,0,0,0.05)"></div><div style="left:955.90px;top:89.88px;width:1px;height:9.76px;background:rgba(0,0,0,0.05)"></div><div style="left:908.40px;top:99.14px;width:96.60px;height:1px;background:rgba(0,0,0,0.05)"></div><div style="left:955.90px;top:99.64px;width:1px;height:9.76px;background:rgba(0,0,0,0.05)"></div><div style="left:908.40px;top:108.90px;width:96.60px;height:1px;background:rgba(0,0,0,0.05)"></div><div style="left:955.90px;top:109.40px;width:1px;height:9.76px;background:rgba(0,0,0,0.05)"></div><div style="left:908.40px;top:118.66px;width:96.60px;height:1px;background:rgba(0,0,0,0.05)"></div><div style="left:955.90px;top:119.16px;width:1px;height:9.76px;background:rgba(0,0,0,0.05)"></div><div style="left:908.40px;top:128.42px;width:96.60px;height:1px;background:rgba(0,0,0,0.05)"></div><div style="left:955.90px;top:128.92px;width:1px;height:9.76px;background:rgba(0,0,0,0.05)"></div><div style="left:908.40px;top:138.18px;width:96.60px;height:1px;background:rgba(0,0,0,0.05)"></div><div style="left:955.90px;top:138.68px;width:1px;height:9.76px;background:rgba(0,0,0,0.05)"></div><div style="left:908.40px;top:147.94px;width:96.60px;height:1px;background:rgba(0,0,0,0.05)"></div><div style="left:955.90px;top:167.96px;width:1px;height:9.76px;background:rgba(0,0,0,0.05)"></div><div style="left:908.40px;top:177.22px;width:96.60px;height:1px;background:rgba(0,0,0,0.05)"></div><div style="left:955.90px;top:177.72px;width:1px;height:9.76px;background:rgba(0,0,0,0.05)"></div><div style="left:908.40px;top:186.98px;width:96.60px;height:1px;background:rgba(0,0,0,0.05)"></div><div style="left:955.90px;top:187.48px;width:1px;height:9.76px;background:rgba(0,0,0,0.05)"></div><div style="left:908.40px;top:196.74px;width:96.60px;height:1px;background:rgba(0,0,0,0.05)"></div><div style="left:955.90px;top:197.24px;width:1px;height:9.76px;background:rgba(0,0,0,0.05)"></div><div style="left:908.40px;top:206.50px;width:96.60px;height:1px;background:rgba(0,0,0,0.05)"></div><div style="left:955.90px;top:207.00px;width:1px;height:9.76px;background:rgba(0,0,0,0.05)"></div><div style="left:908.40px;top:216.26px;width:96.60px;height:1px;background:rgba(0,0,0,0.05)"></div><div style="left:955.90px;top:216.76px;width:1px;height:9.76px;background:rgba(0,0,0,0.05)"></div><div style="left:908.40px;top:226.02px;width:96.60px;height:1px;background:rgba(0,0,0,0.05)"></div><div style="left:955.90px;top:226.52px;width:1px;height:9.76px;background:rgba(0,0,0,0.05)"></div><div style="left:908.40px;top:235.78px;width:96.60px;height:1px;background:rgba(0,0,0,0.05)"></div><div style="left:907.80px;top:11.80px;width:1px;height:224.48px;background:#6b3a33"></div><div style="left:908.40px;top:11.50px;width:96.60px;height:0.8px;background:#6b3a33"></div><div style="left:21.00px;top:0.00px;width:1px;height:2.04px;background:#dadada"></div><div style="left:56.00px;top:0.00px;width:1px;height:2.04px;background:#dadada"></div><div style="left:86.70px;top:0.00px;width:1px;height:2.04px;background:#dadada"></div><div style="left:116.10px;top:0.00px;width:1px;height:2.04px;background:#dadada"></div><div style="left:147.50px;top:0.00px;width:1px;height:2.04px;background:#dadada"></div><div style="left:165.90px;top:0.00px;width:1px;height:2.04px;background:#dadada"></div><div style="left:213.70px;top:0.00px;width:1px;height:2.04px;background:#dadada"></div><div style="left:230.40px;top:0.00px;width:1px;height:2.04px;background:#dadada"></div><div style="left:279.80px;top:0.00px;width:1px;height:2.04px;background:#dadada"></div><div style="left:327.60px;top:0.00px;width:1px;height:2.04px;background:#dadada"></div><div style="left:346.90px;top:0.00px;width:1px;height:2.04px;background:#dadada"></div><div style="left:394.66px;top:0.00px;width:1px;height:2.04px;background:#dadada"></div><div style="left:442.42px;top:0.00px;width:1px;height:2.04px;background:#dadada"></div><div style="left:490.18px;top:0.00px;width:1px;height:2.04px;background:#dadada"></div><div style="left:537.94px;top:0.00px;width:1px;height:2.04px;background:#dadada"></div><div style="left:585.70px;top:0.00px;width:1px;height:2.04px;background:#dadada"></div><div style="left:633.46px;top:0.00px;width:1px;height:2.04px;background:#dadada"></div><div style="left:681.22px;top:0.00px;width:1px;height:2.04px;background:#dadada"></div><div style="left:728.98px;top:0.00px;width:1px;height:2.04px;background:#dadada"></div><div style="left:776.74px;top:0.00px;width:1px;height:2.04px;background:#dadada"></div><div style="left:793.80px;top:0.00px;width:1px;height:2.04px;background:#dadada"></div><div style="left:819.90px;top:0.00px;width:1px;height:2.04px;background:#dadada"></div><div style="left:850.10px;top:0.00px;width:1px;height:2.04px;background:#dadada"></div><div style="left:883.20px;top:0.00px;width:1px;height:2.04px;background:#dadada"></div><div style="left:907.90px;top:0.00px;width:1px;height:2.04px;background:#dadada"></div><div style="left:955.90px;top:0.00px;width:1px;height:2.04px;background:#dadada"></div><div class="t" style="left:0.90px;top:2.04px;width:20.60px;height:9.76px;"><div class="ti" style="left:0.00px;width:20.60px;height:9.76px;justify-content:center;font-size:6.2px;font-weight:bold;-webkit-text-stroke:0.12px currentColor;color:#1f1f2a;">Date</div></div><div class="t" style="left:21.50px;top:2.04px;width:35.00px;height:9.76px;"><div class="ti" style="left:0.00px;width:35.00px;height:9.76px;justify-content:center;font-size:6.2px;font-weight:bold;-webkit-text-stroke:0.12px currentColor;color:#1f1f2a;">Username</div></div><div class="t" style="left:56.50px;top:2.04px;width:30.70px;height:9.76px;"><div class="ti" style="left:0.00px;width:30.70px;height:9.76px;justify-content:center;font-size:6.2px;font-weight:bold;-webkit-text-stroke:0.12px currentColor;color:#1f1f2a;">Service</div></div><div class="t" style="left:87.20px;top:2.04px;width:29.40px;height:9.76px;"><div class="ti" style="left:0.00px;width:29.40px;height:9.76px;justify-content:center;font-size:6.2px;font-weight:bold;-webkit-text-stroke:0.12px currentColor;color:#1f1f2a;">Length</div></div><div class="t" style="left:116.60px;top:2.04px;width:31.40px;height:9.76px;"><div class="ti" style="left:0.00px;width:31.40px;height:9.76px;justify-content:center;font-size:6.2px;font-weight:bold;-webkit-text-stroke:0.12px currentColor;color:#1f1f2a;">Payment</div></div><div class="t" style="left:148.00px;top:2.04px;width:18.40px;height:9.76px;"><div class="ti" style="left:0.00px;width:18.40px;height:9.76px;justify-content:center;font-size:6.2px;font-weight:bold;-webkit-text-stroke:0.12px currentColor;color:#1f1f2a;">$</div></div><div class="t" style="left:166.40px;top:2.04px;width:47.80px;height:9.76px;"><div class="ti" style="left:0.00px;width:47.80px;height:9.76px;justify-content:center;font-size:6.2px;font-weight:bold;-webkit-text-stroke:0.12px currentColor;color:#1f1f2a;">Comments</div></div><div class="t" style="left:56.50px;top:11.80px;width:30.70px;height:9.76px;"><div class="ti" style="left:0.00px;width:30.70px;height:9.76px;justify-content:center;font-size:6.2px;color:#2a2a2a;">Videos</div></div><div class="t" style="left:148.00px;top:11.80px;width:18.40px;height:9.76px;"><div class="ti" style="left:0.00px;width:18.40px;height:9.76px;justify-content:center;font-size:6.2px;color:#2a2a2a;">$78.26</div></div><div class="t" style="left:56.50px;top:21.56px;width:30.70px;height:9.76px;"><div class="ti" style="left:0.00px;width:30.70px;height:9.76px;justify-content:center;font-size:6.2px;color:#2a2a2a;">Videos</div></div><div class="t" style="left:148.00px;top:21.56px;width:18.40px;height:9.76px;"><div class="ti" style="left:0.00px;width:18.40px;height:9.76px;justify-content:center;font-size:6.2px;color:#2a2a2a;">$93.04</div></div><div class="t" style="left:56.50px;top:31.32px;width:30.70px;height:9.76px;"><div class="ti" style="left:0.00px;width:30.70px;height:9.76px;justify-content:center;font-size:6.2px;color:#2a2a2a;">Videos</div></div><div class="t" style="left:148.00px;top:31.32px;width:18.40px;height:9.76px;"><div class="ti" style="left:0.00px;width:18.40px;height:9.76px;justify-content:center;font-size:6.2px;color:#2a2a2a;">$0.00</div></div><div class="t" style="left:56.50px;top:41.08px;width:30.70px;height:9.76px;"><div class="ti" style="left:0.00px;width:30.70px;height:9.76px;justify-content:center;font-size:6.2px;color:#2a2a2a;">Videos</div></div><div class="t" style="left:148.00px;top:41.08px;width:18.40px;height:9.76px;"><div class="ti" style="left:0.00px;width:18.40px;height:9.76px;justify-content:center;font-size:6.2px;color:#2a2a2a;">$0.00</div></div><div class="t" style="left:56.50px;top:50.84px;width:30.70px;height:9.76px;"><div class="ti" style="left:0.00px;width:30.70px;height:9.76px;justify-content:center;font-size:6.2px;color:#2a2a2a;">Videos</div></div><div class="t" style="left:148.00px;top:50.84px;width:18.40px;height:9.76px;"><div class="ti" style="left:0.00px;width:18.40px;height:9.76px;justify-content:center;font-size:6.2px;color:#2a2a2a;">$0.00</div></div><div class="t" style="left:56.50px;top:60.60px;width:30.70px;height:9.76px;"><div class="ti" style="left:0.00px;width:30.70px;height:9.76px;justify-content:center;font-size:6.2px;color:#2a2a2a;">Videos</div></div><div class="t" style="left:148.00px;top:60.60px;width:18.40px;height:9.76px;"><div class="ti" style="left:0.00px;width:18.40px;height:9.76px;justify-content:center;font-size:6.2px;color:#2a2a2a;">$0.00</div></div><div class="t" style="left:56.50px;top:70.36px;width:30.70px;height:9.76px;"><div class="ti" style="left:0.00px;width:30.70px;height:9.76px;justify-content:center;font-size:6.2px;color:#2a2a2a;">Videos</div></div><div class="t" style="left:148.00px;top:70.36px;width:18.40px;height:9.76px;"><div class="ti" style="left:0.00px;width:18.40px;height:9.76px;justify-content:center;font-size:6.2px;color:#2a2a2a;">$0.00</div></div><div class="t" style="left:116.60px;top:11.80px;width:31.40px;height:9.76px;"><div class="ti" style="left:0.00px;width:31.40px;height:9.76px;justify-content:center;font-size:6.2px;color:#2a2a2a;">ManyVids</div></div><div class="t" style="left:116.60px;top:21.56px;width:31.40px;height:9.76px;"><div class="ti" style="left:0.00px;width:31.40px;height:9.76px;justify-content:center;font-size:6.2px;color:#2a2a2a;">Clips4Sale</div></div><div class="t" style="left:0.90px;top:41.08px;width:55.60px;height:9.76px;"><div class="ti" style="left:0.00px;width:55.60px;height:9.76px;justify-content:center;font-size:6.2px;color:#adadad;">don't edit these :)</div></div><div class="t" style="left:166.40px;top:30.90px;width:47.80px;height:8.00px;"><div class="ti" style="left:0.00px;width:47.80px;height:8.00px;justify-content:center;font-size:6.2px;color:#adadad;">these pull</div></div><div class="t" style="left:166.40px;top:38.35px;width:47.80px;height:8.00px;"><div class="ti" style="left:0.00px;width:47.80px;height:8.00px;justify-content:center;font-size:6.2px;color:#adadad;">automatically</div></div><div class="t" style="left:166.40px;top:45.80px;width:47.80px;height:8.00px;"><div class="ti" style="left:0.00px;width:47.80px;height:8.00px;justify-content:center;font-size:6.2px;color:#adadad;">from the</div></div><div class="t" style="left:166.40px;top:53.25px;width:47.80px;height:8.00px;"><div class="ti" style="left:0.00px;width:47.80px;height:8.00px;justify-content:center;font-size:6.2px;color:#adadad;">"videos" section</div></div><div class="t" style="left:0.90px;top:80.12px;width:20.60px;height:9.76px;"><div class="ti" style="left:0.00px;width:20.60px;height:9.76px;justify-content:center;font-size:6.2px;color:#2a2a2a;">1/1</div></div><div class="t" style="left:21.50px;top:80.12px;width:35.00px;height:9.76px;"><div class="ti" style="left:0.00px;width:35.00px;height:9.76px;justify-content:center;font-size:6.2px;color:#2a2a2a;">Customer123</div></div><div class="t" style="left:56.50px;top:80.12px;width:60.10px;height:9.76px;"><div class="ti" style="left:0.00px;width:30.70px;height:9.76px;justify-content:center;font-size:6.2px;color:#2a2a2a;">Cam</div></div><div class="t" style="left:115.10px;top:80.12px;width:32.90px;height:9.76px;"><div class="ti" style="left:1.50px;width:31.40px;height:9.76px;justify-content:center;font-size:6.2px;color:#2a2a2a;">ManyVids</div></div><div class="t" style="left:148.00px;top:80.12px;width:21.40px;height:9.76px;"><div class="ti" style="left:0.00px;width:18.40px;height:9.76px;justify-content:center;font-size:6.2px;color:#2a2a2a;">$50.00</div></div><div class="t" style="left:0.90px;top:89.88px;width:20.60px;height:9.76px;"><div class="ti" style="left:0.00px;width:20.60px;height:9.76px;justify-content:center;font-size:6.2px;color:#2a2a2a;">1/2</div></div><div class="t" style="left:21.50px;top:89.88px;width:35.00px;height:9.76px;"><div class="ti" style="left:0.00px;width:35.00px;height:9.76px;justify-content:center;font-size:6.2px;color:#2a2a2a;">Customer124</div></div><div class="t" style="left:56.50px;top:89.88px;width:60.10px;height:9.76px;"><div class="ti" style="left:0.00px;width:30.70px;height:9.76px;justify-content:center;font-size:6.2px;color:#2a2a2a;">Custom Video</div></div><div class="t" style="left:115.10px;top:89.88px;width:32.90px;height:9.76px;"><div class="ti" style="left:1.50px;width:31.40px;height:9.76px;justify-content:center;font-size:6.2px;color:#2a2a2a;">iWantClips</div></div><div class="t" style="left:148.00px;top:89.88px;width:21.40px;height:9.76px;"><div class="ti" style="left:0.00px;width:18.40px;height:9.76px;justify-content:center;font-size:6.2px;color:#2a2a2a;">$20.00</div></div><div class="t" style="left:0.90px;top:99.64px;width:20.60px;height:9.76px;"><div class="ti" style="left:0.00px;width:20.60px;height:9.76px;justify-content:center;font-size:6.2px;color:#2a2a2a;">1/3</div></div><div class="t" style="left:21.50px;top:99.64px;width:35.00px;height:9.76px;"><div class="ti" style="left:0.00px;width:35.00px;height:9.76px;justify-content:center;font-size:6.2px;color:#2a2a2a;">Customer125</div></div><div class="t" style="left:56.50px;top:99.64px;width:60.10px;height:9.76px;"><div class="ti" style="left:0.00px;width:30.70px;height:9.76px;justify-content:center;font-size:6.2px;color:#2a2a2a;">Rate</div></div><div class="t" style="left:115.10px;top:99.64px;width:32.90px;height:9.76px;"><div class="ti" style="left:1.50px;width:31.40px;height:9.76px;justify-content:center;font-size:6.2px;color:#2a2a2a;">Amazon GC</div></div><div class="t" style="left:148.00px;top:99.64px;width:21.40px;height:9.76px;"><div class="ti" style="left:0.00px;width:18.40px;height:9.76px;justify-content:center;font-size:6.2px;color:#2a2a2a;">$20.00</div></div><div class="t" style="left:0.90px;top:109.40px;width:20.60px;height:9.76px;"><div class="ti" style="left:0.00px;width:20.60px;height:9.76px;justify-content:center;font-size:6.2px;color:#2a2a2a;">1/4</div></div><div class="t" style="left:21.50px;top:109.40px;width:35.00px;height:9.76px;"><div class="ti" style="left:0.00px;width:35.00px;height:9.76px;justify-content:center;font-size:6.2px;color:#2a2a2a;">Customer126</div></div><div class="t" style="left:56.50px;top:109.40px;width:60.10px;height:9.76px;"><div class="ti" style="left:0.00px;width:30.70px;height:9.76px;justify-content:center;font-size:6.2px;color:#2a2a2a;">Tip</div></div><div class="t" style="left:115.10px;top:109.40px;width:32.90px;height:9.76px;"><div class="ti" style="left:1.50px;width:31.40px;height:9.76px;justify-content:center;font-size:6.2px;color:#2a2a2a;">ManyVids</div></div><div class="t" style="left:148.00px;top:109.40px;width:21.40px;height:9.76px;"><div class="ti" style="left:0.00px;width:18.40px;height:9.76px;justify-content:center;font-size:6.2px;color:#2a2a2a;">$10.00</div></div><div class="t" style="left:0.90px;top:119.16px;width:20.60px;height:9.76px;"><div class="ti" style="left:0.00px;width:20.60px;height:9.76px;justify-content:center;font-size:6.2px;color:#2a2a2a;">1/5</div></div><div class="t" style="left:21.50px;top:119.16px;width:35.00px;height:9.76px;"><div class="ti" style="left:0.00px;width:35.00px;height:9.76px;justify-content:center;font-size:6.2px;color:#2a2a2a;">Customer127</div></div><div class="t" style="left:56.50px;top:119.16px;width:60.10px;height:9.76px;"><div class="ti" style="left:0.00px;width:30.70px;height:9.76px;justify-content:center;font-size:6.2px;color:#2a2a2a;">Cam</div></div><div class="t" style="left:115.10px;top:119.16px;width:32.90px;height:9.76px;"><div class="ti" style="left:1.50px;width:31.40px;height:9.76px;justify-content:center;font-size:6.2px;color:#2a2a2a;">ManyVids</div></div><div class="t" style="left:148.00px;top:119.16px;width:21.40px;height:9.76px;"><div class="ti" style="left:0.00px;width:18.40px;height:9.76px;justify-content:center;font-size:6.2px;color:#2a2a2a;">$50.00</div></div><div class="t" style="left:0.90px;top:128.92px;width:20.60px;height:9.76px;"><div class="ti" style="left:0.00px;width:20.60px;height:9.76px;justify-content:center;font-size:6.2px;color:#2a2a2a;">1/6</div></div><div class="t" style="left:21.50px;top:128.92px;width:35.00px;height:9.76px;"><div class="ti" style="left:0.00px;width:35.00px;height:9.76px;justify-content:center;font-size:6.2px;color:#2a2a2a;">Customer128</div></div><div class="t" style="left:56.50px;top:128.92px;width:60.10px;height:9.76px;"><div class="ti" style="left:0.00px;width:30.70px;height:9.76px;justify-content:center;font-size:6.2px;color:#2a2a2a;">Custom Video</div></div><div class="t" style="left:115.10px;top:128.92px;width:32.90px;height:9.76px;"><div class="ti" style="left:1.50px;width:31.40px;height:9.76px;justify-content:center;font-size:6.2px;color:#2a2a2a;">iWantClips</div></div><div class="t" style="left:148.00px;top:128.92px;width:21.40px;height:9.76px;"><div class="ti" style="left:0.00px;width:18.40px;height:9.76px;justify-content:center;font-size:6.2px;color:#2a2a2a;">$20.00</div></div><div class="t" style="left:0.90px;top:138.68px;width:20.60px;height:9.76px;"><div class="ti" style="left:0.00px;width:20.60px;height:9.76px;justify-content:center;font-size:6.2px;color:#2a2a2a;">1/7</div></div><div class="t" style="left:21.50px;top:138.68px;width:35.00px;height:9.76px;"><div class="ti" style="left:0.00px;width:35.00px;height:9.76px;justify-content:center;font-size:6.2px;color:#2a2a2a;">Customer129</div></div><div class="t" style="left:56.50px;top:138.68px;width:60.10px;height:9.76px;"><div class="ti" style="left:0.00px;width:30.70px;height:9.76px;justify-content:center;font-size:6.2px;color:#2a2a2a;">Rate</div></div><div class="t" style="left:115.10px;top:138.68px;width:32.90px;height:9.76px;"><div class="ti" style="left:1.50px;width:31.40px;height:9.76px;justify-content:center;font-size:6.2px;color:#2a2a2a;">Amazon GC</div></div><div class="t" style="left:148.00px;top:138.68px;width:21.40px;height:9.76px;"><div class="ti" style="left:0.00px;width:18.40px;height:9.76px;justify-content:center;font-size:6.2px;color:#2a2a2a;">$20.00</div></div><div class="t" style="left:0.90px;top:148.44px;width:20.60px;height:9.76px;"><div class="ti" style="left:0.00px;width:20.60px;height:9.76px;justify-content:center;font-size:6.2px;color:#2a2a2a;">1/8</div></div><div class="t" style="left:21.50px;top:148.44px;width:35.00px;height:9.76px;"><div class="ti" style="left:0.00px;width:35.00px;height:9.76px;justify-content:center;font-size:6.2px;color:#2a2a2a;">Customer130</div></div><div class="t" style="left:56.50px;top:148.44px;width:60.10px;height:9.76px;"><div class="ti" style="left:0.00px;width:30.70px;height:9.76px;justify-content:center;font-size:6.2px;color:#2a2a2a;">Tip</div></div><div class="t" style="left:115.10px;top:148.44px;width:32.90px;height:9.76px;"><div class="ti" style="left:1.50px;width:31.40px;height:9.76px;justify-content:center;font-size:6.2px;color:#2a2a2a;">ManyVids</div></div><div class="t" style="left:148.00px;top:148.44px;width:21.40px;height:9.76px;"><div class="ti" style="left:0.00px;width:18.40px;height:9.76px;justify-content:center;font-size:6.2px;color:#2a2a2a;">$10.00</div></div><div class="t" style="left:0.90px;top:158.20px;width:20.60px;height:9.76px;"><div class="ti" style="left:0.00px;width:20.60px;height:9.76px;justify-content:center;font-size:6.2px;color:#2a2a2a;">1/9</div></div><div class="t" style="left:21.50px;top:158.20px;width:35.00px;height:9.76px;"><div class="ti" style="left:0.00px;width:35.00px;height:9.76px;justify-content:center;font-size:6.2px;color:#2a2a2a;">Customer131</div></div><div class="t" style="left:56.50px;top:158.20px;width:60.10px;height:9.76px;"><div class="ti" style="left:0.00px;width:30.70px;height:9.76px;justify-content:center;font-size:6.2px;color:#2a2a2a;">Cam</div></div><div class="t" style="left:115.10px;top:158.20px;width:32.90px;height:9.76px;"><div class="ti" style="left:1.50px;width:31.40px;height:9.76px;justify-content:center;font-size:6.2px;color:#2a2a2a;">ManyVids</div></div><div class="t" style="left:148.00px;top:158.20px;width:21.40px;height:9.76px;"><div class="ti" style="left:0.00px;width:18.40px;height:9.76px;justify-content:center;font-size:6.2px;color:#2a2a2a;">$50.00</div></div><div class="t" style="left:0.90px;top:167.96px;width:20.60px;height:9.76px;"><div class="ti" style="left:0.00px;width:20.60px;height:9.76px;justify-content:center;font-size:6.2px;color:#2a2a2a;">1/10</div></div><div class="t" style="left:21.50px;top:167.96px;width:35.00px;height:9.76px;"><div class="ti" style="left:0.00px;width:35.00px;height:9.76px;justify-content:center;font-size:6.2px;color:#2a2a2a;">Customer132</div></div><div class="t" style="left:56.50px;top:167.96px;width:60.10px;height:9.76px;"><div class="ti" style="left:0.00px;width:30.70px;height:9.76px;justify-content:center;font-size:6.2px;color:#2a2a2a;">Custom Video</div></div><div class="t" style="left:115.10px;top:167.96px;width:32.90px;height:9.76px;"><div class="ti" style="left:1.50px;width:31.40px;height:9.76px;justify-content:center;font-size:6.2px;color:#2a2a2a;">iWantClips</div></div><div class="t" style="left:148.00px;top:167.96px;width:21.40px;height:9.76px;"><div class="ti" style="left:0.00px;width:18.40px;height:9.76px;justify-content:center;font-size:6.2px;color:#2a2a2a;">$20.00</div></div><div class="t" style="left:0.90px;top:177.72px;width:20.60px;height:9.76px;"><div class="ti" style="left:0.00px;width:20.60px;height:9.76px;justify-content:center;font-size:6.2px;color:#2a2a2a;">1/11</div></div><div class="t" style="left:21.50px;top:177.72px;width:35.00px;height:9.76px;"><div class="ti" style="left:0.00px;width:35.00px;height:9.76px;justify-content:center;font-size:6.2px;color:#2a2a2a;">Customer133</div></div><div class="t" style="left:56.50px;top:177.72px;width:60.10px;height:9.76px;"><div class="ti" style="left:0.00px;width:30.70px;height:9.76px;justify-content:center;font-size:6.2px;color:#2a2a2a;">Rate</div></div><div class="t" style="left:115.10px;top:177.72px;width:32.90px;height:9.76px;"><div class="ti" style="left:1.50px;width:31.40px;height:9.76px;justify-content:center;font-size:6.2px;color:#2a2a2a;">Amazon GC</div></div><div class="t" style="left:148.00px;top:177.72px;width:21.40px;height:9.76px;"><div class="ti" style="left:0.00px;width:18.40px;height:9.76px;justify-content:center;font-size:6.2px;color:#2a2a2a;">$20.00</div></div><div class="t" style="left:0.90px;top:187.48px;width:20.60px;height:9.76px;"><div class="ti" style="left:0.00px;width:20.60px;height:9.76px;justify-content:center;font-size:6.2px;color:#2a2a2a;">1/12</div></div><div class="t" style="left:21.50px;top:187.48px;width:35.00px;height:9.76px;"><div class="ti" style="left:0.00px;width:35.00px;height:9.76px;justify-content:center;font-size:6.2px;color:#2a2a2a;">Customer134</div></div><div class="t" style="left:56.50px;top:187.48px;width:60.10px;height:9.76px;"><div class="ti" style="left:0.00px;width:30.70px;height:9.76px;justify-content:center;font-size:6.2px;color:#2a2a2a;">Tip</div></div><div class="t" style="left:115.10px;top:187.48px;width:32.90px;height:9.76px;"><div class="ti" style="left:1.50px;width:31.40px;height:9.76px;justify-content:center;font-size:6.2px;color:#2a2a2a;">ManyVids</div></div><div class="t" style="left:148.00px;top:187.48px;width:21.40px;height:9.76px;"><div class="ti" style="left:0.00px;width:18.40px;height:9.76px;justify-content:center;font-size:6.2px;color:#2a2a2a;">$10.00</div></div><div class="t" style="left:0.90px;top:197.24px;width:20.60px;height:9.76px;"><div class="ti" style="left:0.00px;width:20.60px;height:9.76px;justify-content:center;font-size:6.2px;color:#2a2a2a;">1/13</div></div><div class="t" style="left:21.50px;top:197.24px;width:35.00px;height:9.76px;"><div class="ti" style="left:0.00px;width:35.00px;height:9.76px;justify-content:center;font-size:6.2px;color:#2a2a2a;">Customer135</div></div><div class="t" style="left:56.50px;top:197.24px;width:60.10px;height:9.76px;"><div class="ti" style="left:0.00px;width:30.70px;height:9.76px;justify-content:center;font-size:6.2px;color:#2a2a2a;">Cam</div></div><div class="t" style="left:115.10px;top:197.24px;width:32.90px;height:9.76px;"><div class="ti" style="left:1.50px;width:31.40px;height:9.76px;justify-content:center;font-size:6.2px;color:#2a2a2a;">ManyVids</div></div><div class="t" style="left:148.00px;top:197.24px;width:21.40px;height:9.76px;"><div class="ti" style="left:0.00px;width:18.40px;height:9.76px;justify-content:center;font-size:6.2px;color:#2a2a2a;">$50.00</div></div><div class="t" style="left:0.90px;top:207.00px;width:20.60px;height:9.76px;"><div class="ti" style="left:0.00px;width:20.60px;height:9.76px;justify-content:center;font-size:6.2px;color:#2a2a2a;">1/14</div></div><div class="t" style="left:21.50px;top:207.00px;width:35.00px;height:9.76px;"><div class="ti" style="left:0.00px;width:35.00px;height:9.76px;justify-content:center;font-size:6.2px;color:#2a2a2a;">Customer136</div></div><div class="t" style="left:56.50px;top:207.00px;width:60.10px;height:9.76px;"><div class="ti" style="left:0.00px;width:30.70px;height:9.76px;justify-content:center;font-size:6.2px;color:#2a2a2a;">Custom Video</div></div><div class="t" style="left:115.10px;top:207.00px;width:32.90px;height:9.76px;"><div class="ti" style="left:1.50px;width:31.40px;height:9.76px;justify-content:center;font-size:6.2px;color:#2a2a2a;">iWantClips</div></div><div class="t" style="left:148.00px;top:207.00px;width:21.40px;height:9.76px;"><div class="ti" style="left:0.00px;width:18.40px;height:9.76px;justify-content:center;font-size:6.2px;color:#2a2a2a;">$20.00</div></div><div class="t" style="left:0.90px;top:216.76px;width:20.60px;height:9.76px;"><div class="ti" style="left:0.00px;width:20.60px;height:9.76px;justify-content:center;font-size:6.2px;color:#2a2a2a;">1/15</div></div><div class="t" style="left:21.50px;top:216.76px;width:35.00px;height:9.76px;"><div class="ti" style="left:0.00px;width:35.00px;height:9.76px;justify-content:center;font-size:6.2px;color:#2a2a2a;">Customer137</div></div><div class="t" style="left:56.50px;top:216.76px;width:60.10px;height:9.76px;"><div class="ti" style="left:0.00px;width:30.70px;height:9.76px;justify-content:center;font-size:6.2px;color:#2a2a2a;">Rate</div></div><div class="t" style="left:115.10px;top:216.76px;width:32.90px;height:9.76px;"><div class="ti" style="left:1.50px;width:31.40px;height:9.76px;justify-content:center;font-size:6.2px;color:#2a2a2a;">Amazon GC</div></div><div class="t" style="left:148.00px;top:216.76px;width:21.40px;height:9.76px;"><div class="ti" style="left:0.00px;width:18.40px;height:9.76px;justify-content:center;font-size:6.2px;color:#2a2a2a;">$20.00</div></div><div class="t" style="left:0.90px;top:226.52px;width:20.60px;height:9.76px;"><div class="ti" style="left:0.00px;width:20.60px;height:9.76px;justify-content:center;font-size:6.2px;color:#2a2a2a;">1/16</div></div><div class="t" style="left:21.50px;top:226.52px;width:35.00px;height:9.76px;"><div class="ti" style="left:0.00px;width:35.00px;height:9.76px;justify-content:center;font-size:6.2px;color:#2a2a2a;">Customer138</div></div><div class="t" style="left:56.50px;top:226.52px;width:60.10px;height:9.76px;"><div class="ti" style="left:0.00px;width:30.70px;height:9.76px;justify-content:center;font-size:6.2px;color:#2a2a2a;">Tip</div></div><div class="t" style="left:115.10px;top:226.52px;width:32.90px;height:9.76px;"><div class="ti" style="left:1.50px;width:31.40px;height:9.76px;justify-content:center;font-size:6.2px;color:#2a2a2a;">ManyVids</div></div><div class="t" style="left:148.00px;top:226.52px;width:21.40px;height:9.76px;"><div class="ti" style="left:0.00px;width:18.40px;height:9.76px;justify-content:center;font-size:6.2px;color:#2a2a2a;">$10.00</div></div><div class="t" style="left:0.90px;top:236.28px;width:20.60px;height:9.76px;"><div class="ti" style="left:0.00px;width:20.60px;height:9.76px;justify-content:center;font-size:6.2px;color:#2a2a2a;">1/17</div></div><div class="t" style="left:21.50px;top:236.28px;width:35.00px;height:9.76px;"><div class="ti" style="left:0.00px;width:35.00px;height:9.76px;justify-content:center;font-size:6.2px;color:#2a2a2a;">Customer139</div></div><div class="t" style="left:56.50px;top:236.28px;width:60.10px;height:9.76px;"><div class="ti" style="left:0.00px;width:30.70px;height:9.76px;justify-content:center;font-size:6.2px;color:#2a2a2a;">Cam</div></div><div class="t" style="left:115.10px;top:236.28px;width:32.90px;height:9.76px;"><div class="ti" style="left:1.50px;width:31.40px;height:9.76px;justify-content:center;font-size:6.2px;color:#2a2a2a;">ManyVids</div></div><div class="t" style="left:148.00px;top:236.28px;width:21.40px;height:9.76px;"><div class="ti" style="left:0.00px;width:18.40px;height:9.76px;justify-content:center;font-size:6.2px;color:#2a2a2a;">$50.00</div></div><div class="t" style="left:0.90px;top:246.04px;width:20.60px;height:9.76px;"><div class="ti" style="left:0.00px;width:20.60px;height:9.76px;justify-content:center;font-size:6.2px;color:#2a2a2a;">1/18</div></div><div class="t" style="left:21.50px;top:246.04px;width:35.00px;height:9.76px;"><div class="ti" style="left:0.00px;width:35.00px;height:9.76px;justify-content:center;font-size:6.2px;color:#2a2a2a;">Customer140</div></div><div class="t" style="left:56.50px;top:246.04px;width:60.10px;height:9.76px;"><div class="ti" style="left:0.00px;width:30.70px;height:9.76px;justify-content:center;font-size:6.2px;color:#2a2a2a;">Custom Video</div></div><div class="t" style="left:115.10px;top:246.04px;width:32.90px;height:9.76px;"><div class="ti" style="left:1.50px;width:31.40px;height:9.76px;justify-content:center;font-size:6.2px;color:#2a2a2a;">iWantClips</div></div><div class="t" style="left:148.00px;top:246.04px;width:21.40px;height:9.76px;"><div class="ti" style="left:0.00px;width:18.40px;height:9.76px;justify-content:center;font-size:6.2px;color:#2a2a2a;">$20.00</div></div><div class="t" style="left:0.90px;top:255.80px;width:20.60px;height:9.76px;"><div class="ti" style="left:0.00px;width:20.60px;height:9.76px;justify-content:center;font-size:6.2px;color:#2a2a2a;">1/19</div></div><div class="t" style="left:21.50px;top:255.80px;width:35.00px;height:9.76px;"><div class="ti" style="left:0.00px;width:35.00px;height:9.76px;justify-content:center;font-size:6.2px;color:#2a2a2a;">Customer141</div></div><div class="t" style="left:56.50px;top:255.80px;width:60.10px;height:9.76px;"><div class="ti" style="left:0.00px;width:30.70px;height:9.76px;justify-content:center;font-size:6.2px;color:#2a2a2a;">Rate</div></div><div class="t" style="left:115.10px;top:255.80px;width:32.90px;height:9.76px;"><div class="ti" style="left:1.50px;width:31.40px;height:9.76px;justify-content:center;font-size:6.2px;color:#2a2a2a;">Amazon GC</div></div><div class="t" style="left:148.00px;top:255.80px;width:21.40px;height:9.76px;"><div class="ti" style="left:0.00px;width:18.40px;height:9.76px;justify-content:center;font-size:6.2px;color:#2a2a2a;">$20.00</div></div><div class="t" style="left:0.90px;top:265.56px;width:20.60px;height:9.76px;"><div class="ti" style="left:0.00px;width:20.60px;height:9.76px;justify-content:center;font-size:6.2px;color:#2a2a2a;">1/20</div></div><div class="t" style="left:21.50px;top:265.56px;width:35.00px;height:9.76px;"><div class="ti" style="left:0.00px;width:35.00px;height:9.76px;justify-content:center;font-size:6.2px;color:#2a2a2a;">Customer142</div></div><div class="t" style="left:56.50px;top:265.56px;width:60.10px;height:9.76px;"><div class="ti" style="left:0.00px;width:30.70px;height:9.76px;justify-content:center;font-size:6.2px;color:#2a2a2a;">Tip</div></div><div class="t" style="left:115.10px;top:265.56px;width:32.90px;height:9.76px;"><div class="ti" style="left:1.50px;width:31.40px;height:9.76px;justify-content:center;font-size:6.2px;color:#2a2a2a;">ManyVids</div></div><div class="t" style="left:148.00px;top:265.56px;width:21.40px;height:9.76px;"><div class="ti" style="left:0.00px;width:18.40px;height:9.76px;justify-content:center;font-size:6.2px;color:#2a2a2a;">$10.00</div></div><div class="t" style="left:0.90px;top:275.32px;width:20.60px;height:9.76px;"><div class="ti" style="left:0.00px;width:20.60px;height:9.76px;justify-content:center;font-size:6.2px;color:#2a2a2a;">1/21</div></div><div class="t" style="left:21.50px;top:275.32px;width:35.00px;height:9.76px;"><div class="ti" style="left:0.00px;width:35.00px;height:9.76px;justify-content:center;font-size:6.2px;color:#2a2a2a;">Customer143</div></div><div class="t" style="left:56.50px;top:275.32px;width:60.10px;height:9.76px;"><div class="ti" style="left:0.00px;width:30.70px;height:9.76px;justify-content:center;font-size:6.2px;color:#2a2a2a;">Cam</div></div><div class="t" style="left:115.10px;top:275.32px;width:32.90px;height:9.76px;"><div class="ti" style="left:1.50px;width:31.40px;height:9.76px;justify-content:center;font-size:6.2px;color:#2a2a2a;">ManyVids</div></div><div class="t" style="left:148.00px;top:275.32px;width:21.40px;height:9.76px;"><div class="ti" style="left:0.00px;width:18.40px;height:9.76px;justify-content:center;font-size:6.2px;color:#2a2a2a;">$50.00</div></div><div class="t" style="left:0.90px;top:285.08px;width:20.60px;height:9.76px;"><div class="ti" style="left:0.00px;width:20.60px;height:9.76px;justify-content:center;font-size:6.2px;color:#2a2a2a;">1/22</div></div><div class="t" style="left:21.50px;top:285.08px;width:35.00px;height:9.76px;"><div class="ti" style="left:0.00px;width:35.00px;height:9.76px;justify-content:center;font-size:6.2px;color:#2a2a2a;">Customer144</div></div><div class="t" style="left:56.50px;top:285.08px;width:60.10px;height:9.76px;"><div class="ti" style="left:0.00px;width:30.70px;height:9.76px;justify-content:center;font-size:6.2px;color:#2a2a2a;">Custom Video</div></div><div class="t" style="left:115.10px;top:285.08px;width:32.90px;height:9.76px;"><div class="ti" style="left:1.50px;width:31.40px;height:9.76px;justify-content:center;font-size:6.2px;color:#2a2a2a;">iWantClips</div></div><div class="t" style="left:148.00px;top:285.08px;width:21.40px;height:9.76px;"><div class="ti" style="left:0.00px;width:18.40px;height:9.76px;justify-content:center;font-size:6.2px;color:#2a2a2a;">$20.00</div></div><div class="t" style="left:0.90px;top:294.84px;width:20.60px;height:9.76px;"><div class="ti" style="left:0.00px;width:20.60px;height:9.76px;justify-content:center;font-size:6.2px;color:#2a2a2a;">1/23</div></div><div class="t" style="left:21.50px;top:294.84px;width:35.00px;height:9.76px;"><div class="ti" style="left:0.00px;width:35.00px;height:9.76px;justify-content:center;font-size:6.2px;color:#2a2a2a;">Customer145</div></div><div class="t" style="left:56.50px;top:294.84px;width:60.10px;height:9.76px;"><div class="ti" style="left:0.00px;width:30.70px;height:9.76px;justify-content:center;font-size:6.2px;color:#2a2a2a;">Rate</div></div><div class="t" style="left:115.10px;top:294.84px;width:32.90px;height:9.76px;"><div class="ti" style="left:1.50px;width:31.40px;height:9.76px;justify-content:center;font-size:6.2px;color:#2a2a2a;">Amazon GC</div></div><div class="t" style="left:148.00px;top:294.84px;width:21.40px;height:9.76px;"><div class="ti" style="left:0.00px;width:18.40px;height:9.76px;justify-content:center;font-size:6.2px;color:#2a2a2a;">$20.00</div></div><div class="t" style="left:0.90px;top:304.60px;width:20.60px;height:9.76px;"><div class="ti" style="left:0.00px;width:20.60px;height:9.76px;justify-content:center;font-size:6.2px;color:#2a2a2a;">1/24</div></div><div class="t" style="left:21.50px;top:304.60px;width:35.00px;height:9.76px;"><div class="ti" style="left:0.00px;width:35.00px;height:9.76px;justify-content:center;font-size:6.2px;color:#2a2a2a;">Customer146</div></div><div class="t" style="left:56.50px;top:304.60px;width:60.10px;height:9.76px;"><div class="ti" style="left:0.00px;width:30.70px;height:9.76px;justify-content:center;font-size:6.2px;color:#2a2a2a;">Tip</div></div><div class="t" style="left:115.10px;top:304.60px;width:32.90px;height:9.76px;"><div class="ti" style="left:1.50px;width:31.40px;height:9.76px;justify-content:center;font-size:6.2px;color:#2a2a2a;">ManyVids</div></div><div class="t" style="left:148.00px;top:304.60px;width:21.40px;height:9.76px;"><div class="ti" style="left:0.00px;width:18.40px;height:9.76px;justify-content:center;font-size:6.2px;color:#2a2a2a;">$10.00</div></div><div class="t" style="left:0.90px;top:314.36px;width:20.60px;height:9.76px;"><div class="ti" style="left:0.00px;width:20.60px;height:9.76px;justify-content:center;font-size:6.2px;color:#2a2a2a;">1/25</div></div><div class="t" style="left:21.50px;top:314.36px;width:35.00px;height:9.76px;"><div class="ti" style="left:0.00px;width:35.00px;height:9.76px;justify-content:center;font-size:6.2px;color:#2a2a2a;">Customer147</div></div><div class="t" style="left:56.50px;top:314.36px;width:60.10px;height:9.76px;"><div class="ti" style="left:0.00px;width:30.70px;height:9.76px;justify-content:center;font-size:6.2px;color:#2a2a2a;">Custom Video</div></div><div class="t" style="left:115.10px;top:314.36px;width:32.90px;height:9.76px;"><div class="ti" style="left:1.50px;width:31.40px;height:9.76px;justify-content:center;font-size:6.2px;color:#2a2a2a;">iWantClips</div></div><div class="t" style="left:148.00px;top:314.36px;width:21.40px;height:9.76px;"><div class="ti" style="left:0.00px;width:18.40px;height:9.76px;justify-content:center;font-size:6.2px;color:#2a2a2a;">$50.00</div></div><div class="t" style="left:0.90px;top:324.12px;width:20.60px;height:9.76px;"><div class="ti" style="left:0.00px;width:20.60px;height:9.76px;justify-content:center;font-size:6.2px;color:#2a2a2a;">1/27</div></div><div class="t" style="left:21.50px;top:324.12px;width:35.00px;height:9.76px;"><div class="ti" style="left:0.00px;width:35.00px;height:9.76px;justify-content:center;font-size:6.2px;color:#2a2a2a;">Customer149</div></div><div class="t" style="left:56.50px;top:324.12px;width:60.10px;height:9.76px;"><div class="ti" style="left:0.00px;width:30.70px;height:9.76px;justify-content:center;font-size:6.2px;color:#2a2a2a;">Tip</div></div><div class="t" style="left:115.10px;top:324.12px;width:32.90px;height:9.76px;"><div class="ti" style="left:1.50px;width:31.40px;height:9.76px;justify-content:center;font-size:6.2px;color:#2a2a2a;">ManyVids</div></div><div class="t" style="left:148.00px;top:324.12px;width:21.40px;height:9.76px;"><div class="ti" style="left:0.00px;width:18.40px;height:9.76px;justify-content:center;font-size:6.2px;color:#2a2a2a;">$20.00</div></div><div class="t" style="left:0.90px;top:333.88px;width:20.60px;height:9.76px;"><div class="ti" style="left:0.00px;width:20.60px;height:9.76px;justify-content:center;font-size:6.2px;color:#2a2a2a;">1/28</div></div><div class="t" style="left:21.50px;top:333.88px;width:35.00px;height:9.76px;"><div class="ti" style="left:0.00px;width:35.00px;height:9.76px;justify-content:center;font-size:6.2px;color:#2a2a2a;">Customer150</div></div><div class="t" style="left:56.50px;top:333.88px;width:60.10px;height:9.76px;"><div class="ti" style="left:0.00px;width:30.70px;height:9.76px;justify-content:center;font-size:6.2px;color:#2a2a2a;">Custom Video</div></div><div class="t" style="left:115.10px;top:333.88px;width:32.90px;height:9.76px;"><div class="ti" style="left:1.50px;width:31.40px;height:9.76px;justify-content:center;font-size:6.2px;color:#2a2a2a;">iWantClips</div></div><div class="t" style="left:148.00px;top:333.88px;width:21.40px;height:9.76px;"><div class="ti" style="left:0.00px;width:18.40px;height:9.76px;justify-content:center;font-size:6.2px;color:#2a2a2a;">$50.00</div></div><div class="t" style="left:0.90px;top:343.64px;width:20.60px;height:9.76px;"><div class="ti" style="left:0.00px;width:20.60px;height:9.76px;justify-content:center;font-size:6.2px;color:#2a2a2a;">1/29</div></div><div class="t" style="left:21.50px;top:343.64px;width:35.00px;height:9.76px;"><div class="ti" style="left:0.00px;width:35.00px;height:9.76px;justify-content:center;font-size:6.2px;color:#2a2a2a;">Customer151</div></div><div class="t" style="left:56.50px;top:343.64px;width:60.10px;height:9.76px;"><div class="ti" style="left:0.00px;width:30.70px;height:9.76px;justify-content:center;font-size:6.2px;color:#2a2a2a;">Rate</div></div><div class="t" style="left:115.10px;top:343.64px;width:32.90px;height:9.76px;"><div class="ti" style="left:1.50px;width:31.40px;height:9.76px;justify-content:center;font-size:6.2px;color:#2a2a2a;">Amazon GC</div></div><div class="t" style="left:148.00px;top:343.64px;width:21.40px;height:9.76px;"><div class="ti" style="left:0.00px;width:18.40px;height:9.76px;justify-content:center;font-size:6.2px;color:#2a2a2a;">$20.00</div></div><div class="t" style="left:0.90px;top:353.40px;width:20.60px;height:9.76px;"><div class="ti" style="left:0.00px;width:20.60px;height:9.76px;justify-content:center;font-size:6.2px;color:#2a2a2a;">1/30</div></div><div class="t" style="left:21.50px;top:353.40px;width:35.00px;height:9.76px;"><div class="ti" style="left:0.00px;width:35.00px;height:9.76px;justify-content:center;font-size:6.2px;color:#2a2a2a;">Customer152</div></div><div class="t" style="left:56.50px;top:353.40px;width:60.10px;height:9.76px;"><div class="ti" style="left:0.00px;width:30.70px;height:9.76px;justify-content:center;font-size:6.2px;color:#2a2a2a;">Tip</div></div><div class="t" style="left:115.10px;top:353.40px;width:32.90px;height:9.76px;"><div class="ti" style="left:1.50px;width:31.40px;height:9.76px;justify-content:center;font-size:6.2px;color:#2a2a2a;">ManyVids</div></div><div class="t" style="left:148.00px;top:353.40px;width:21.40px;height:9.76px;"><div class="ti" style="left:0.00px;width:18.40px;height:9.76px;justify-content:center;font-size:6.2px;color:#2a2a2a;">$20.00</div></div><div class="t" style="left:0.90px;top:363.16px;width:20.60px;height:9.76px;"><div class="ti" style="left:0.00px;width:20.60px;height:9.76px;justify-content:center;font-size:6.2px;color:#2a2a2a;">1/31</div></div><div class="t" style="left:21.50px;top:363.16px;width:35.00px;height:9.76px;"><div class="ti" style="left:0.00px;width:35.00px;height:9.76px;justify-content:center;font-size:6.2px;color:#2a2a2a;">Customer153</div></div><div class="t" style="left:56.50px;top:363.16px;width:60.10px;height:9.76px;"><div class="ti" style="left:0.00px;width:30.70px;height:9.76px;justify-content:center;font-size:6.2px;color:#2a2a2a;">Custom Video</div></div><div class="t" style="left:115.10px;top:363.16px;width:32.90px;height:9.76px;"><div class="ti" style="left:1.50px;width:31.40px;height:9.76px;justify-content:center;font-size:6.2px;color:#2a2a2a;">iWantClips</div></div><div class="t" style="left:148.00px;top:363.16px;width:21.40px;height:9.76px;"><div class="ti" style="left:0.00px;width:18.40px;height:9.76px;justify-content:center;font-size:6.2px;color:#2a2a2a;">$10.00</div></div><div class="t" style="left:230.90px;top:2.04px;width:49.40px;height:9.76px;"><div class="ti" style="left:0.00px;width:49.40px;height:9.76px;justify-content:center;font-size:6.2px;font-weight:bold;-webkit-text-stroke:0.12px currentColor;color:#1a1a1a;">Total Earned:</div></div><div class="t" style="left:280.30px;top:2.04px;width:47.80px;height:9.76px;"><div class="ti" style="left:0.00px;width:47.80px;height:9.76px;justify-content:center;font-size:6.2px;font-weight:bold;-webkit-text-stroke:0.12px currentColor;color:#1a1a1a;">$941</div></div><div class="t" style="left:230.90px;top:21.56px;width:49.40px;height:9.76px;"><div class="ti" style="left:0.00px;width:49.40px;height:9.76px;justify-content:center;font-size:6.2px;font-weight:bold;-webkit-text-stroke:0.12px currentColor;color:#1a1a1a;">MONTHLY GOAL</div></div><div class="t" style="left:280.30px;top:21.56px;width:47.80px;height:9.76px;"><div class="ti" style="left:0.00px;width:47.80px;height:9.76px;justify-content:center;font-size:6.2px;font-weight:bold;-webkit-text-stroke:0.12px currentColor;color:#1a1a1a;">$5,000</div></div><div class="t" style="left:230.90px;top:31.32px;width:49.40px;height:9.76px;"><div class="ti" style="left:0.00px;width:49.40px;height:9.76px;justify-content:center;font-size:6.2px;color:#1a1a1a;">Difference</div></div><div class="t" style="left:280.30px;top:31.32px;width:47.80px;height:9.76px;"><div class="ti" style="left:0.00px;width:47.80px;height:9.76px;justify-content:center;font-size:6.2px;color:#1a1a1a;">$4,058.70</div></div><div class="t" style="left:230.90px;top:41.08px;width:49.40px;height:9.76px;"><div class="ti" style="left:0.00px;width:49.40px;height:9.76px;justify-content:center;font-size:6.2px;color:#1a1a1a;">Days Left (tom)</div></div><div class="t" style="left:280.30px;top:41.08px;width:47.80px;height:9.76px;"><div class="ti" style="left:0.00px;width:47.80px;height:9.76px;justify-content:center;font-size:6.2px;color:#1a1a1a;">16</div></div><div class="t" style="left:230.90px;top:50.84px;width:49.40px;height:9.76px;"><div class="ti" style="left:0.00px;width:49.40px;height:9.76px;justify-content:center;font-size:6.2px;color:#1a1a1a;">Daily Goal</div></div><div class="t" style="left:280.30px;top:50.84px;width:47.80px;height:9.76px;"><div class="ti" style="left:0.00px;width:47.80px;height:9.76px;justify-content:center;font-size:6.2px;font-weight:bold;-webkit-text-stroke:0.12px currentColor;color:#1a1a1a;">$253.67</div></div><div class="t" style="left:230.90px;top:70.36px;width:97.20px;height:9.76px;"><div class="ti" style="left:0.00px;width:97.20px;height:9.76px;justify-content:center;font-size:6.2px;font-weight:bold;-webkit-text-stroke:0.12px currentColor;color:#1a1a1a;">2020 Overall Earnings</div></div><div class="t" style="left:230.90px;top:80.12px;width:49.40px;height:9.76px;"><div class="ti" style="left:0.00px;width:49.40px;height:9.76px;justify-content:center;font-size:6.2px;font-weight:bold;-webkit-text-stroke:0.12px currentColor;color:#1a1a1a;">January</div></div><div class="t" style="left:280.30px;top:80.12px;width:47.80px;height:9.76px;"><div class="ti" style="left:0.00px;width:47.80px;height:9.76px;justify-content:center;font-size:6.2px;color:#1a1a1a;">$941.30</div></div><div class="t" style="left:230.90px;top:89.88px;width:49.40px;height:9.76px;"><div class="ti" style="left:0.00px;width:49.40px;height:9.76px;justify-content:center;font-size:6.2px;font-weight:bold;-webkit-text-stroke:0.12px currentColor;color:#1a1a1a;">February</div></div><div class="t" style="left:230.90px;top:99.64px;width:49.40px;height:9.76px;"><div class="ti" style="left:0.00px;width:49.40px;height:9.76px;justify-content:center;font-size:6.2px;font-weight:bold;-webkit-text-stroke:0.12px currentColor;color:#1a1a1a;">March</div></div><div class="t" style="left:230.90px;top:109.40px;width:49.40px;height:9.76px;"><div class="ti" style="left:0.00px;width:49.40px;height:9.76px;justify-content:center;font-size:6.2px;font-weight:bold;-webkit-text-stroke:0.12px currentColor;color:#1a1a1a;">April</div></div><div class="t" style="left:230.90px;top:119.16px;width:49.40px;height:9.76px;"><div class="ti" style="left:0.00px;width:49.40px;height:9.76px;justify-content:center;font-size:6.2px;font-weight:bold;-webkit-text-stroke:0.12px currentColor;color:#1a1a1a;">May</div></div><div class="t" style="left:230.90px;top:128.92px;width:49.40px;height:9.76px;"><div class="ti" style="left:0.00px;width:49.40px;height:9.76px;justify-content:center;font-size:6.2px;font-weight:bold;-webkit-text-stroke:0.12px currentColor;color:#1a1a1a;">June</div></div><div class="t" style="left:230.90px;top:138.68px;width:49.40px;height:9.76px;"><div class="ti" style="left:0.00px;width:49.40px;height:9.76px;justify-content:center;font-size:6.2px;font-weight:bold;-webkit-text-stroke:0.12px currentColor;color:#1a1a1a;">July</div></div><div class="t" style="left:230.90px;top:148.44px;width:49.40px;height:9.76px;"><div class="ti" style="left:0.00px;width:49.40px;height:9.76px;justify-content:center;font-size:6.2px;font-weight:bold;-webkit-text-stroke:0.12px currentColor;color:#1a1a1a;">August</div></div><div class="t" style="left:230.90px;top:158.20px;width:49.40px;height:9.76px;"><div class="ti" style="left:0.00px;width:49.40px;height:9.76px;justify-content:center;font-size:6.2px;font-weight:bold;-webkit-text-stroke:0.12px currentColor;color:#1a1a1a;">September</div></div><div class="t" style="left:230.90px;top:167.96px;width:49.40px;height:9.76px;"><div class="ti" style="left:0.00px;width:49.40px;height:9.76px;justify-content:center;font-size:6.2px;font-weight:bold;-webkit-text-stroke:0.12px currentColor;color:#1a1a1a;">October</div></div><div class="t" style="left:230.90px;top:177.72px;width:49.40px;height:9.76px;"><div class="ti" style="left:0.00px;width:49.40px;height:9.76px;justify-content:center;font-size:6.2px;font-weight:bold;-webkit-text-stroke:0.12px currentColor;color:#1a1a1a;">November</div></div><div class="t" style="left:230.90px;top:187.48px;width:49.40px;height:9.76px;"><div class="ti" style="left:0.00px;width:49.40px;height:9.76px;justify-content:center;font-size:6.2px;font-weight:bold;-webkit-text-stroke:0.12px currentColor;color:#1a1a1a;">December</div></div><div class="t" style="left:230.90px;top:197.24px;width:49.40px;height:9.76px;"><div class="ti" style="left:0.00px;width:49.40px;height:9.76px;justify-content:center;font-size:6.2px;font-weight:bold;-webkit-text-stroke:0.12px currentColor;color:#1a1a1a;">YTD</div></div><div class="t" style="left:280.30px;top:197.24px;width:47.80px;height:9.76px;"><div class="ti" style="left:0.00px;width:47.80px;height:9.76px;justify-content:center;font-size:6.2px;font-weight:bold;-webkit-text-stroke:0.12px currentColor;color:#1a1a1a;">$941.30</div></div><div class="t" style="left:347.40px;top:2.04px;width:429.84px;height:9.76px;"><div class="ti" style="left:0.00px;width:429.84px;height:9.76px;justify-content:center;font-size:6.2px;font-weight:bold;-webkit-text-stroke:0.12px currentColor;color:#1f1f2a;">MONTHLY EARNINGS</div></div><div class="t" style="left:395.16px;top:11.80px;width:47.76px;height:9.76px;"><div class="ti" style="left:0.00px;width:47.76px;height:9.76px;justify-content:center;font-size:6.2px;font-weight:bold;-webkit-text-stroke:0.12px currentColor;color:#1f1f2a;">SUNDAY</div></div><div class="t" style="left:442.92px;top:11.80px;width:47.76px;height:9.76px;"><div class="ti" style="left:0.00px;width:47.76px;height:9.76px;justify-content:center;font-size:6.2px;font-weight:bold;-webkit-text-stroke:0.12px currentColor;color:#1f1f2a;">MONDAY</div></div><div class="t" style="left:490.68px;top:11.80px;width:47.76px;height:9.76px;"><div class="ti" style="left:0.00px;width:47.76px;height:9.76px;justify-content:center;font-size:6.2px;font-weight:bold;-webkit-text-stroke:0.12px currentColor;color:#1f1f2a;">TUESDAY</div></div><div class="t" style="left:538.44px;top:11.80px;width:47.76px;height:9.76px;"><div class="ti" style="left:0.00px;width:47.76px;height:9.76px;justify-content:center;font-size:6.2px;font-weight:bold;-webkit-text-stroke:0.12px currentColor;color:#1f1f2a;">WEDNESDAY</div></div><div class="t" style="left:586.20px;top:11.80px;width:47.76px;height:9.76px;"><div class="ti" style="left:0.00px;width:47.76px;height:9.76px;justify-content:center;font-size:6.2px;font-weight:bold;-webkit-text-stroke:0.12px currentColor;color:#1f1f2a;">THURSDAY</div></div><div class="t" style="left:633.96px;top:11.80px;width:47.76px;height:9.76px;"><div class="ti" style="left:0.00px;width:47.76px;height:9.76px;justify-content:center;font-size:6.2px;font-weight:bold;-webkit-text-stroke:0.12px currentColor;color:#1f1f2a;">FRIDAY</div></div><div class="t" style="left:681.72px;top:11.80px;width:47.76px;height:9.76px;"><div class="ti" style="left:0.00px;width:47.76px;height:9.76px;justify-content:center;font-size:6.2px;font-weight:bold;-webkit-text-stroke:0.12px currentColor;color:#1f1f2a;">SATURDAY</div></div><div class="t" style="left:729.48px;top:11.80px;width:47.76px;height:9.76px;"><div class="ti" style="left:0.00px;width:47.76px;height:9.76px;justify-content:center;font-size:6.2px;font-weight:bold;-webkit-text-stroke:0.12px currentColor;color:#1f1f2a;">WEEKLY</div></div><div class="t" style="left:538.44px;top:21.56px;width:47.76px;height:9.76px;"><div class="ti" style="left:0.00px;width:47.76px;height:9.76px;justify-content:center;font-size:6.2px;font-weight:bold;-webkit-text-stroke:0.12px currentColor;color:#1f1f2a;">1/1</div></div><div class="t" style="left:586.20px;top:21.56px;width:47.76px;height:9.76px;"><div class="ti" style="left:0.00px;width:47.76px;height:9.76px;justify-content:center;font-size:6.2px;font-weight:bold;-webkit-text-stroke:0.12px currentColor;color:#1f1f2a;">1/2</div></div><div class="t" style="left:633.96px;top:21.56px;width:47.76px;height:9.76px;"><div class="ti" style="left:0.00px;width:47.76px;height:9.76px;justify-content:center;font-size:6.2px;font-weight:bold;-webkit-text-stroke:0.12px currentColor;color:#1f1f2a;">1/3</div></div><div class="t" style="left:681.72px;top:21.56px;width:47.76px;height:9.76px;"><div class="ti" style="left:0.00px;width:47.76px;height:9.76px;justify-content:center;font-size:6.2px;font-weight:bold;-webkit-text-stroke:0.12px currentColor;color:#1f1f2a;">1/4</div></div><div class="t" style="left:729.48px;top:21.56px;width:47.76px;height:9.76px;"><div class="ti" style="left:0.00px;width:47.76px;height:9.76px;justify-content:center;font-size:6.2px;font-weight:bold;-webkit-text-stroke:0.12px currentColor;color:#1f1f2a;">AVERAGES</div></div><div class="t" style="left:347.40px;top:31.32px;width:47.76px;height:9.76px;"><div class="ti" style="left:0.00px;width:47.76px;height:9.76px;justify-content:center;font-size:6.2px;font-weight:bold;-webkit-text-stroke:0.12px currentColor;color:#1f1f2a;">Videos</div></div><div class="t" style="left:538.44px;top:31.32px;width:47.76px;height:9.76px;"><div class="ti" style="left:0.00px;width:47.76px;height:9.76px;justify-content:center;font-size:6.2px;color:#1f1f2a;">$5.99</div></div><div class="t" style="left:586.20px;top:31.32px;width:47.76px;height:9.76px;"><div class="ti" style="left:0.00px;width:47.76px;height:9.76px;justify-content:center;font-size:6.2px;color:#1f1f2a;">$4.39</div></div><div class="t" style="left:633.96px;top:31.32px;width:47.76px;height:9.76px;"><div class="ti" style="left:0.00px;width:47.76px;height:9.76px;justify-content:center;font-size:6.2px;color:#1f1f2a;">$6.59</div></div><div class="t" style="left:681.72px;top:31.32px;width:47.76px;height:9.76px;"><div class="ti" style="left:0.00px;width:47.76px;height:9.76px;justify-content:center;font-size:6.2px;color:#1f1f2a;">$5.99</div></div><div class="t" style="left:729.48px;top:31.32px;width:47.76px;height:9.76px;"><div class="ti" style="left:0.00px;width:47.76px;height:9.76px;justify-content:center;font-size:6.2px;color:#1f1f2a;">$5.74</div></div><div class="t" style="left:347.40px;top:41.08px;width:47.76px;height:9.76px;"><div class="ti" style="left:0.00px;width:47.76px;height:9.76px;justify-content:center;font-size:6.2px;font-weight:bold;-webkit-text-stroke:0.12px currentColor;color:#1f1f2a;">Regular</div></div><div class="t" style="left:538.44px;top:41.08px;width:47.76px;height:9.76px;"><div class="ti" style="left:0.00px;width:47.76px;height:9.76px;justify-content:center;font-size:6.2px;color:#1f1f2a;">$50.00</div></div><div class="t" style="left:586.20px;top:41.08px;width:47.76px;height:9.76px;"><div class="ti" style="left:0.00px;width:47.76px;height:9.76px;justify-content:center;font-size:6.2px;color:#1f1f2a;">$20.00</div></div><div class="t" style="left:633.96px;top:41.08px;width:47.76px;height:9.76px;"><div class="ti" style="left:0.00px;width:47.76px;height:9.76px;justify-content:center;font-size:6.2px;color:#1f1f2a;">$20.00</div></div><div class="t" style="left:681.72px;top:41.08px;width:47.76px;height:9.76px;"><div class="ti" style="left:0.00px;width:47.76px;height:9.76px;justify-content:center;font-size:6.2px;color:#1f1f2a;">$10.00</div></div><div class="t" style="left:729.48px;top:41.08px;width:47.76px;height:9.76px;"><div class="ti" style="left:0.00px;width:47.76px;height:9.76px;justify-content:center;font-size:6.2px;color:#1f1f2a;">$25.00</div></div><div class="t" style="left:347.40px;top:50.84px;width:47.76px;height:9.76px;"><div class="ti" style="left:0.00px;width:47.76px;height:9.76px;justify-content:center;font-size:6.2px;font-weight:bold;-webkit-text-stroke:0.12px currentColor;color:#1f1f2a;">Overall</div></div><div class="t" style="left:538.44px;top:50.84px;width:47.76px;height:9.76px;"><div class="ti" style="left:0.00px;width:47.76px;height:9.76px;justify-content:center;font-size:6.2px;color:#1f1f2a;">$55.99</div></div><div class="t" style="left:586.20px;top:50.84px;width:47.76px;height:9.76px;"><div class="ti" style="left:0.00px;width:47.76px;height:9.76px;justify-content:center;font-size:6.2px;color:#1f1f2a;">$24.39</div></div><div class="t" style="left:633.96px;top:50.84px;width:47.76px;height:9.76px;"><div class="ti" style="left:0.00px;width:47.76px;height:9.76px;justify-content:center;font-size:6.2px;color:#1f1f2a;">$26.59</div></div><div class="t" style="left:681.72px;top:50.84px;width:47.76px;height:9.76px;"><div class="ti" style="left:0.00px;width:47.76px;height:9.76px;justify-content:center;font-size:6.2px;color:#1f1f2a;">$15.99</div></div><div class="t" style="left:729.48px;top:50.84px;width:47.76px;height:9.76px;"><div class="ti" style="left:0.00px;width:47.76px;height:9.76px;justify-content:center;font-size:6.2px;color:#1f1f2a;">$30.74</div></div><div class="t" style="left:395.16px;top:60.60px;width:47.76px;height:9.76px;"><div class="ti" style="left:0.00px;width:47.76px;height:9.76px;justify-content:center;font-size:6.2px;font-weight:bold;-webkit-text-stroke:0.12px currentColor;color:#1f1f2a;">1/5</div></div><div class="t" style="left:442.92px;top:60.60px;width:47.76px;height:9.76px;"><div class="ti" style="left:0.00px;width:47.76px;height:9.76px;justify-content:center;font-size:6.2px;font-weight:bold;-webkit-text-stroke:0.12px currentColor;color:#1f1f2a;">1/6</div></div><div class="t" style="left:490.68px;top:60.60px;width:47.76px;height:9.76px;"><div class="ti" style="left:0.00px;width:47.76px;height:9.76px;justify-content:center;font-size:6.2px;font-weight:bold;-webkit-text-stroke:0.12px currentColor;color:#1f1f2a;">1/7</div></div><div class="t" style="left:538.44px;top:60.60px;width:47.76px;height:9.76px;"><div class="ti" style="left:0.00px;width:47.76px;height:9.76px;justify-content:center;font-size:6.2px;font-weight:bold;-webkit-text-stroke:0.12px currentColor;color:#1f1f2a;">1/8</div></div><div class="t" style="left:586.20px;top:60.60px;width:47.76px;height:9.76px;"><div class="ti" style="left:0.00px;width:47.76px;height:9.76px;justify-content:center;font-size:6.2px;font-weight:bold;-webkit-text-stroke:0.12px currentColor;color:#1f1f2a;">1/9</div></div><div class="t" style="left:633.96px;top:60.60px;width:47.76px;height:9.76px;"><div class="ti" style="left:0.00px;width:47.76px;height:9.76px;justify-content:center;font-size:6.2px;font-weight:bold;-webkit-text-stroke:0.12px currentColor;color:#1f1f2a;">1/10</div></div><div class="t" style="left:681.72px;top:60.60px;width:47.76px;height:9.76px;"><div class="ti" style="left:0.00px;width:47.76px;height:9.76px;justify-content:center;font-size:6.2px;font-weight:bold;-webkit-text-stroke:0.12px currentColor;color:#1f1f2a;">1/11</div></div><div class="t" style="left:729.48px;top:60.60px;width:47.76px;height:9.76px;"><div class="ti" style="left:0.00px;width:47.76px;height:9.76px;justify-content:center;font-size:6.2px;font-weight:bold;-webkit-text-stroke:0.12px currentColor;color:#1f1f2a;">AVERAGES</div></div><div class="t" style="left:347.40px;top:70.36px;width:47.76px;height:9.76px;"><div class="ti" style="left:0.00px;width:47.76px;height:9.76px;justify-content:center;font-size:6.2px;font-weight:bold;-webkit-text-stroke:0.12px currentColor;color:#1f1f2a;">Videos</div></div><div class="t" style="left:395.16px;top:70.36px;width:47.76px;height:9.76px;"><div class="ti" style="left:0.00px;width:47.76px;height:9.76px;justify-content:center;font-size:6.2px;color:#1f1f2a;">$4.39</div></div><div class="t" style="left:442.92px;top:70.36px;width:47.76px;height:9.76px;"><div class="ti" style="left:0.00px;width:47.76px;height:9.76px;justify-content:center;font-size:6.2px;color:#1f1f2a;">$6.59</div></div><div class="t" style="left:490.68px;top:70.36px;width:47.76px;height:9.76px;"><div class="ti" style="left:0.00px;width:47.76px;height:9.76px;justify-content:center;font-size:6.2px;color:#1f1f2a;">$5.99</div></div><div class="t" style="left:538.44px;top:70.36px;width:47.76px;height:9.76px;"><div class="ti" style="left:0.00px;width:47.76px;height:9.76px;justify-content:center;font-size:6.2px;color:#1f1f2a;">$4.39</div></div><div class="t" style="left:586.20px;top:70.36px;width:47.76px;height:9.76px;"><div class="ti" style="left:0.00px;width:47.76px;height:9.76px;justify-content:center;font-size:6.2px;color:#1f1f2a;">$6.59</div></div><div class="t" style="left:633.96px;top:70.36px;width:47.76px;height:9.76px;"><div class="ti" style="left:0.00px;width:47.76px;height:9.76px;justify-content:center;font-size:6.2px;color:#1f1f2a;">$5.99</div></div><div class="t" style="left:681.72px;top:70.36px;width:47.76px;height:9.76px;"><div class="ti" style="left:0.00px;width:47.76px;height:9.76px;justify-content:center;font-size:6.2px;color:#1f1f2a;">$4.39</div></div><div class="t" style="left:729.48px;top:70.36px;width:47.76px;height:9.76px;"><div class="ti" style="left:0.00px;width:47.76px;height:9.76px;justify-content:center;font-size:6.2px;color:#1f1f2a;">$5.48</div></div><div class="t" style="left:347.40px;top:80.12px;width:47.76px;height:9.76px;"><div class="ti" style="left:0.00px;width:47.76px;height:9.76px;justify-content:center;font-size:6.2px;font-weight:bold;-webkit-text-stroke:0.12px currentColor;color:#1f1f2a;">Regular</div></div><div class="t" style="left:395.16px;top:80.12px;width:47.76px;height:9.76px;"><div class="ti" style="left:0.00px;width:47.76px;height:9.76px;justify-content:center;font-size:6.2px;color:#1f1f2a;">$50.00</div></div><div class="t" style="left:442.92px;top:80.12px;width:47.76px;height:9.76px;"><div class="ti" style="left:0.00px;width:47.76px;height:9.76px;justify-content:center;font-size:6.2px;color:#1f1f2a;">$20.00</div></div><div class="t" style="left:490.68px;top:80.12px;width:47.76px;height:9.76px;"><div class="ti" style="left:0.00px;width:47.76px;height:9.76px;justify-content:center;font-size:6.2px;color:#1f1f2a;">$20.00</div></div><div class="t" style="left:538.44px;top:80.12px;width:47.76px;height:9.76px;"><div class="ti" style="left:0.00px;width:47.76px;height:9.76px;justify-content:center;font-size:6.2px;color:#1f1f2a;">$10.00</div></div><div class="t" style="left:586.20px;top:80.12px;width:47.76px;height:9.76px;"><div class="ti" style="left:0.00px;width:47.76px;height:9.76px;justify-content:center;font-size:6.2px;color:#1f1f2a;">$50.00</div></div><div class="t" style="left:633.96px;top:80.12px;width:47.76px;height:9.76px;"><div class="ti" style="left:0.00px;width:47.76px;height:9.76px;justify-content:center;font-size:6.2px;color:#1f1f2a;">$20.00</div></div><div class="t" style="left:681.72px;top:80.12px;width:47.76px;height:9.76px;"><div class="ti" style="left:0.00px;width:47.76px;height:9.76px;justify-content:center;font-size:6.2px;color:#1f1f2a;">$20.00</div></div><div class="t" style="left:729.48px;top:80.12px;width:47.76px;height:9.76px;"><div class="ti" style="left:0.00px;width:47.76px;height:9.76px;justify-content:center;font-size:6.2px;color:#1f1f2a;">$27.14</div></div><div class="t" style="left:347.40px;top:89.88px;width:47.76px;height:9.76px;"><div class="ti" style="left:0.00px;width:47.76px;height:9.76px;justify-content:center;font-size:6.2px;font-weight:bold;-webkit-text-stroke:0.12px currentColor;color:#1f1f2a;">Overall</div></div><div class="t" style="left:395.16px;top:89.88px;width:47.76px;height:9.76px;"><div class="ti" style="left:0.00px;width:47.76px;height:9.76px;justify-content:center;font-size:6.2px;color:#1f1f2a;">$54.39</div></div><div class="t" style="left:442.92px;top:89.88px;width:47.76px;height:9.76px;"><div class="ti" style="left:0.00px;width:47.76px;height:9.76px;justify-content:center;font-size:6.2px;color:#1f1f2a;">$26.59</div></div><div class="t" style="left:490.68px;top:89.88px;width:47.76px;height:9.76px;"><div class="ti" style="left:0.00px;width:47.76px;height:9.76px;justify-content:center;font-size:6.2px;color:#1f1f2a;">$25.99</div></div><div class="t" style="left:538.44px;top:89.88px;width:47.76px;height:9.76px;"><div class="ti" style="left:0.00px;width:47.76px;height:9.76px;justify-content:center;font-size:6.2px;color:#1f1f2a;">$14.39</div></div><div class="t" style="left:586.20px;top:89.88px;width:47.76px;height:9.76px;"><div class="ti" style="left:0.00px;width:47.76px;height:9.76px;justify-content:center;font-size:6.2px;color:#1f1f2a;">$56.59</div></div><div class="t" style="left:633.96px;top:89.88px;width:47.76px;height:9.76px;"><div class="ti" style="left:0.00px;width:47.76px;height:9.76px;justify-content:center;font-size:6.2px;color:#1f1f2a;">$25.99</div></div><div class="t" style="left:681.72px;top:89.88px;width:47.76px;height:9.76px;"><div class="ti" style="left:0.00px;width:47.76px;height:9.76px;justify-content:center;font-size:6.2px;color:#1f1f2a;">$24.39</div></div><div class="t" style="left:729.48px;top:89.88px;width:47.76px;height:9.76px;"><div class="ti" style="left:0.00px;width:47.76px;height:9.76px;justify-content:center;font-size:6.2px;color:#1f1f2a;">$32.62</div></div><div class="t" style="left:395.16px;top:99.64px;width:47.76px;height:9.76px;"><div class="ti" style="left:0.00px;width:47.76px;height:9.76px;justify-content:center;font-size:6.2px;font-weight:bold;-webkit-text-stroke:0.12px currentColor;color:#1f1f2a;">1/12</div></div><div class="t" style="left:442.92px;top:99.64px;width:47.76px;height:9.76px;"><div class="ti" style="left:0.00px;width:47.76px;height:9.76px;justify-content:center;font-size:6.2px;font-weight:bold;-webkit-text-stroke:0.12px currentColor;color:#1f1f2a;">1/13</div></div><div class="t" style="left:490.68px;top:99.64px;width:47.76px;height:9.76px;"><div class="ti" style="left:0.00px;width:47.76px;height:9.76px;justify-content:center;font-size:6.2px;font-weight:bold;-webkit-text-stroke:0.12px currentColor;color:#1f1f2a;">1/14</div></div><div class="t" style="left:538.44px;top:99.64px;width:47.76px;height:9.76px;"><div class="ti" style="left:0.00px;width:47.76px;height:9.76px;justify-content:center;font-size:6.2px;font-weight:bold;-webkit-text-stroke:0.12px currentColor;color:#1f1f2a;">1/15</div></div><div class="t" style="left:586.20px;top:99.64px;width:47.76px;height:9.76px;"><div class="ti" style="left:0.00px;width:47.76px;height:9.76px;justify-content:center;font-size:6.2px;font-weight:bold;-webkit-text-stroke:0.12px currentColor;color:#1f1f2a;">1/16</div></div><div class="t" style="left:633.96px;top:99.64px;width:47.76px;height:9.76px;"><div class="ti" style="left:0.00px;width:47.76px;height:9.76px;justify-content:center;font-size:6.2px;font-weight:bold;-webkit-text-stroke:0.12px currentColor;color:#1f1f2a;">1/17</div></div><div class="t" style="left:681.72px;top:99.64px;width:47.76px;height:9.76px;"><div class="ti" style="left:0.00px;width:47.76px;height:9.76px;justify-content:center;font-size:6.2px;font-weight:bold;-webkit-text-stroke:0.12px currentColor;color:#1f1f2a;">1/18</div></div><div class="t" style="left:729.48px;top:99.64px;width:47.76px;height:9.76px;"><div class="ti" style="left:0.00px;width:47.76px;height:9.76px;justify-content:center;font-size:6.2px;font-weight:bold;-webkit-text-stroke:0.12px currentColor;color:#1f1f2a;">AVERAGES</div></div><div class="t" style="left:347.40px;top:109.40px;width:47.76px;height:9.76px;"><div class="ti" style="left:0.00px;width:47.76px;height:9.76px;justify-content:center;font-size:6.2px;font-weight:bold;-webkit-text-stroke:0.12px currentColor;color:#1f1f2a;">Videos</div></div><div class="t" style="left:395.16px;top:109.40px;width:47.76px;height:9.76px;"><div class="ti" style="left:0.00px;width:47.76px;height:9.76px;justify-content:center;font-size:6.2px;color:#1f1f2a;">$6.59</div></div><div class="t" style="left:442.92px;top:109.40px;width:47.76px;height:9.76px;"><div class="ti" style="left:0.00px;width:47.76px;height:9.76px;justify-content:center;font-size:6.2px;color:#1f1f2a;">$5.99</div></div><div class="t" style="left:490.68px;top:109.40px;width:47.76px;height:9.76px;"><div class="ti" style="left:0.00px;width:47.76px;height:9.76px;justify-content:center;font-size:6.2px;color:#aacbea;">$0.00</div></div><div class="t" style="left:538.44px;top:109.40px;width:47.76px;height:9.76px;"><div class="ti" style="left:0.00px;width:47.76px;height:9.76px;justify-content:center;font-size:6.2px;color:#1f1f2a;">$6.59</div></div><div class="t" style="left:586.20px;top:109.40px;width:47.76px;height:9.76px;"><div class="ti" style="left:0.00px;width:47.76px;height:9.76px;justify-content:center;font-size:6.2px;color:#1f1f2a;">$10.38</div></div><div class="t" style="left:633.96px;top:109.40px;width:47.76px;height:9.76px;"><div class="ti" style="left:0.00px;width:47.76px;height:9.76px;justify-content:center;font-size:6.2px;color:#aacbea;">$0.00</div></div><div class="t" style="left:681.72px;top:109.40px;width:47.76px;height:9.76px;"><div class="ti" style="left:0.00px;width:47.76px;height:9.76px;justify-content:center;font-size:6.2px;color:#1f1f2a;">$6.59</div></div><div class="t" style="left:729.48px;top:109.40px;width:47.76px;height:9.76px;"><div class="ti" style="left:0.00px;width:47.76px;height:9.76px;justify-content:center;font-size:6.2px;color:#1f1f2a;">$7.23</div></div><div class="t" style="left:347.40px;top:119.16px;width:47.76px;height:9.76px;"><div class="ti" style="left:0.00px;width:47.76px;height:9.76px;justify-content:center;font-size:6.2px;font-weight:bold;-webkit-text-stroke:0.12px currentColor;color:#1f1f2a;">Regular</div></div><div class="t" style="left:395.16px;top:119.16px;width:47.76px;height:9.76px;"><div class="ti" style="left:0.00px;width:47.76px;height:9.76px;justify-content:center;font-size:6.2px;color:#1f1f2a;">$60.00</div></div><div class="t" style="left:442.92px;top:119.16px;width:47.76px;height:9.76px;"><div class="ti" style="left:0.00px;width:47.76px;height:9.76px;justify-content:center;font-size:6.2px;color:#aacbea;">$0.00</div></div><div class="t" style="left:490.68px;top:119.16px;width:47.76px;height:9.76px;"><div class="ti" style="left:0.00px;width:47.76px;height:9.76px;justify-content:center;font-size:6.2px;color:#1f1f2a;">$20.00</div></div><div class="t" style="left:538.44px;top:119.16px;width:47.76px;height:9.76px;"><div class="ti" style="left:0.00px;width:47.76px;height:9.76px;justify-content:center;font-size:6.2px;color:#1f1f2a;">$20.00</div></div><div class="t" style="left:586.20px;top:119.16px;width:47.76px;height:9.76px;"><div class="ti" style="left:0.00px;width:47.76px;height:9.76px;justify-content:center;font-size:6.2px;color:#1f1f2a;">$10.00</div></div><div class="t" style="left:633.96px;top:119.16px;width:47.76px;height:9.76px;"><div class="ti" style="left:0.00px;width:47.76px;height:9.76px;justify-content:center;font-size:6.2px;color:#1f1f2a;">$50.00</div></div><div class="t" style="left:681.72px;top:119.16px;width:47.76px;height:9.76px;"><div class="ti" style="left:0.00px;width:47.76px;height:9.76px;justify-content:center;font-size:6.2px;color:#1f1f2a;">$40.00</div></div><div class="t" style="left:729.48px;top:119.16px;width:47.76px;height:9.76px;"><div class="ti" style="left:0.00px;width:47.76px;height:9.76px;justify-content:center;font-size:6.2px;color:#1f1f2a;">$33.33</div></div><div class="t" style="left:347.40px;top:128.92px;width:47.76px;height:9.76px;"><div class="ti" style="left:0.00px;width:47.76px;height:9.76px;justify-content:center;font-size:6.2px;font-weight:bold;-webkit-text-stroke:0.12px currentColor;color:#1f1f2a;">Overall</div></div><div class="t" style="left:395.16px;top:128.92px;width:47.76px;height:9.76px;"><div class="ti" style="left:0.00px;width:47.76px;height:9.76px;justify-content:center;font-size:6.2px;color:#1f1f2a;">$66.59</div></div><div class="t" style="left:442.92px;top:128.92px;width:47.76px;height:9.76px;"><div class="ti" style="left:0.00px;width:47.76px;height:9.76px;justify-content:center;font-size:6.2px;color:#1f1f2a;">$5.99</div></div><div class="t" style="left:490.68px;top:128.92px;width:47.76px;height:9.76px;"><div class="ti" style="left:0.00px;width:47.76px;height:9.76px;justify-content:center;font-size:6.2px;color:#1f1f2a;">$20.00</div></div><div class="t" style="left:538.44px;top:128.92px;width:47.76px;height:9.76px;"><div class="ti" style="left:0.00px;width:47.76px;height:9.76px;justify-content:center;font-size:6.2px;color:#1f1f2a;">$26.59</div></div><div class="t" style="left:586.20px;top:128.92px;width:47.76px;height:9.76px;"><div class="ti" style="left:0.00px;width:47.76px;height:9.76px;justify-content:center;font-size:6.2px;color:#1f1f2a;">$20.38</div></div><div class="t" style="left:633.96px;top:128.92px;width:47.76px;height:9.76px;"><div class="ti" style="left:0.00px;width:47.76px;height:9.76px;justify-content:center;font-size:6.2px;color:#1f1f2a;">$50.00</div></div><div class="t" style="left:681.72px;top:128.92px;width:47.76px;height:9.76px;"><div class="ti" style="left:0.00px;width:47.76px;height:9.76px;justify-content:center;font-size:6.2px;color:#1f1f2a;">$46.59</div></div><div class="t" style="left:729.48px;top:128.92px;width:47.76px;height:9.76px;"><div class="ti" style="left:0.00px;width:47.76px;height:9.76px;justify-content:center;font-size:6.2px;color:#1f1f2a;">$33.73</div></div><div class="t" style="left:395.16px;top:138.68px;width:47.76px;height:9.76px;"><div class="ti" style="left:0.00px;width:47.76px;height:9.76px;justify-content:center;font-size:6.2px;font-weight:bold;-webkit-text-stroke:0.12px currentColor;color:#1f1f2a;">1/19</div></div><div class="t" style="left:442.92px;top:138.68px;width:47.76px;height:9.76px;"><div class="ti" style="left:0.00px;width:47.76px;height:9.76px;justify-content:center;font-size:6.2px;font-weight:bold;-webkit-text-stroke:0.12px currentColor;color:#1f1f2a;">1/20</div></div><div class="t" style="left:490.68px;top:138.68px;width:47.76px;height:9.76px;"><div class="ti" style="left:0.00px;width:47.76px;height:9.76px;justify-content:center;font-size:6.2px;font-weight:bold;-webkit-text-stroke:0.12px currentColor;color:#1f1f2a;">1/21</div></div><div class="t" style="left:538.44px;top:138.68px;width:47.76px;height:9.76px;"><div class="ti" style="left:0.00px;width:47.76px;height:9.76px;justify-content:center;font-size:6.2px;font-weight:bold;-webkit-text-stroke:0.12px currentColor;color:#1f1f2a;">1/22</div></div><div class="t" style="left:586.20px;top:138.68px;width:47.76px;height:9.76px;"><div class="ti" style="left:0.00px;width:47.76px;height:9.76px;justify-content:center;font-size:6.2px;font-weight:bold;-webkit-text-stroke:0.12px currentColor;color:#1f1f2a;">1/23</div></div><div class="t" style="left:633.96px;top:138.68px;width:47.76px;height:9.76px;"><div class="ti" style="left:0.00px;width:47.76px;height:9.76px;justify-content:center;font-size:6.2px;font-weight:bold;-webkit-text-stroke:0.12px currentColor;color:#1f1f2a;">1/24</div></div><div class="t" style="left:681.72px;top:138.68px;width:47.76px;height:9.76px;"><div class="ti" style="left:0.00px;width:47.76px;height:9.76px;justify-content:center;font-size:6.2px;font-weight:bold;-webkit-text-stroke:0.12px currentColor;color:#1f1f2a;">1/25</div></div><div class="t" style="left:729.48px;top:138.68px;width:47.76px;height:9.76px;"><div class="ti" style="left:0.00px;width:47.76px;height:9.76px;justify-content:center;font-size:6.2px;font-weight:bold;-webkit-text-stroke:0.12px currentColor;color:#1f1f2a;">AVERAGES</div></div><div class="t" style="left:347.40px;top:148.44px;width:47.76px;height:9.76px;"><div class="ti" style="left:0.00px;width:47.76px;height:9.76px;justify-content:center;font-size:6.2px;font-weight:bold;-webkit-text-stroke:0.12px currentColor;color:#1f1f2a;">Videos</div></div><div class="t" style="left:395.16px;top:148.44px;width:47.76px;height:9.76px;"><div class="ti" style="left:0.00px;width:47.76px;height:9.76px;justify-content:center;font-size:6.2px;color:#1f1f2a;">$5.99</div></div><div class="t" style="left:442.92px;top:148.44px;width:47.76px;height:9.76px;"><div class="ti" style="left:0.00px;width:47.76px;height:9.76px;justify-content:center;font-size:6.2px;color:#1f1f2a;">$4.39</div></div><div class="t" style="left:490.68px;top:148.44px;width:47.76px;height:9.76px;"><div class="ti" style="left:0.00px;width:47.76px;height:9.76px;justify-content:center;font-size:6.2px;color:#1f1f2a;">$16.97</div></div><div class="t" style="left:538.44px;top:148.44px;width:47.76px;height:9.76px;"><div class="ti" style="left:0.00px;width:47.76px;height:9.76px;justify-content:center;font-size:6.2px;color:#aacbea;">$0.00</div></div><div class="t" style="left:586.20px;top:148.44px;width:47.76px;height:9.76px;"><div class="ti" style="left:0.00px;width:47.76px;height:9.76px;justify-content:center;font-size:6.2px;color:#aacbea;">$0.00</div></div><div class="t" style="left:633.96px;top:148.44px;width:47.76px;height:9.76px;"><div class="ti" style="left:0.00px;width:47.76px;height:9.76px;justify-content:center;font-size:6.2px;color:#1f1f2a;">$6.59</div></div><div class="t" style="left:681.72px;top:148.44px;width:47.76px;height:9.76px;"><div class="ti" style="left:0.00px;width:47.76px;height:9.76px;justify-content:center;font-size:6.2px;color:#1f1f2a;">$5.99</div></div><div class="t" style="left:729.48px;top:148.44px;width:47.76px;height:9.76px;"><div class="ti" style="left:0.00px;width:47.76px;height:9.76px;justify-content:center;font-size:6.2px;color:#1f1f2a;">$7.99</div></div><div class="t" style="left:347.40px;top:158.20px;width:47.76px;height:9.76px;"><div class="ti" style="left:0.00px;width:47.76px;height:9.76px;justify-content:center;font-size:6.2px;font-weight:bold;-webkit-text-stroke:0.12px currentColor;color:#1f1f2a;">Regular</div></div><div class="t" style="left:395.16px;top:158.20px;width:47.76px;height:9.76px;"><div class="ti" style="left:0.00px;width:47.76px;height:9.76px;justify-content:center;font-size:6.2px;color:#aacbea;">$0.00</div></div><div class="t" style="left:442.92px;top:158.20px;width:47.76px;height:9.76px;"><div class="ti" style="left:0.00px;width:47.76px;height:9.76px;justify-content:center;font-size:6.2px;color:#1f1f2a;">$10.00</div></div><div class="t" style="left:490.68px;top:158.20px;width:47.76px;height:9.76px;"><div class="ti" style="left:0.00px;width:47.76px;height:9.76px;justify-content:center;font-size:6.2px;color:#1f1f2a;">$50.00</div></div><div class="t" style="left:538.44px;top:158.20px;width:47.76px;height:9.76px;"><div class="ti" style="left:0.00px;width:47.76px;height:9.76px;justify-content:center;font-size:6.2px;color:#1f1f2a;">$20.00</div></div><div class="t" style="left:586.20px;top:158.20px;width:47.76px;height:9.76px;"><div class="ti" style="left:0.00px;width:47.76px;height:9.76px;justify-content:center;font-size:6.2px;color:#1f1f2a;">$20.00</div></div><div class="t" style="left:633.96px;top:158.20px;width:47.76px;height:9.76px;"><div class="ti" style="left:0.00px;width:47.76px;height:9.76px;justify-content:center;font-size:6.2px;color:#1f1f2a;">$10.00</div></div><div class="t" style="left:681.72px;top:158.20px;width:47.76px;height:9.76px;"><div class="ti" style="left:0.00px;width:47.76px;height:9.76px;justify-content:center;font-size:6.2px;color:#1f1f2a;">$50.00</div></div><div class="t" style="left:729.48px;top:158.20px;width:47.76px;height:9.76px;"><div class="ti" style="left:0.00px;width:47.76px;height:9.76px;justify-content:center;font-size:6.2px;color:#1f1f2a;">$26.67</div></div><div class="t" style="left:347.40px;top:167.96px;width:47.76px;height:9.76px;"><div class="ti" style="left:0.00px;width:47.76px;height:9.76px;justify-content:center;font-size:6.2px;font-weight:bold;-webkit-text-stroke:0.12px currentColor;color:#1f1f2a;">Overall</div></div><div class="t" style="left:395.16px;top:167.96px;width:47.76px;height:9.76px;"><div class="ti" style="left:0.00px;width:47.76px;height:9.76px;justify-content:center;font-size:6.2px;color:#1f1f2a;">$5.99</div></div><div class="t" style="left:442.92px;top:167.96px;width:47.76px;height:9.76px;"><div class="ti" style="left:0.00px;width:47.76px;height:9.76px;justify-content:center;font-size:6.2px;color:#1f1f2a;">$14.39</div></div><div class="t" style="left:490.68px;top:167.96px;width:47.76px;height:9.76px;"><div class="ti" style="left:0.00px;width:47.76px;height:9.76px;justify-content:center;font-size:6.2px;color:#1f1f2a;">$66.97</div></div><div class="t" style="left:538.44px;top:167.96px;width:47.76px;height:9.76px;"><div class="ti" style="left:0.00px;width:47.76px;height:9.76px;justify-content:center;font-size:6.2px;color:#1f1f2a;">$20.00</div></div><div class="t" style="left:586.20px;top:167.96px;width:47.76px;height:9.76px;"><div class="ti" style="left:0.00px;width:47.76px;height:9.76px;justify-content:center;font-size:6.2px;color:#1f1f2a;">$20.00</div></div><div class="t" style="left:633.96px;top:167.96px;width:47.76px;height:9.76px;"><div class="ti" style="left:0.00px;width:47.76px;height:9.76px;justify-content:center;font-size:6.2px;color:#1f1f2a;">$16.59</div></div><div class="t" style="left:681.72px;top:167.96px;width:47.76px;height:9.76px;"><div class="ti" style="left:0.00px;width:47.76px;height:9.76px;justify-content:center;font-size:6.2px;color:#1f1f2a;">$55.99</div></div><div class="t" style="left:729.48px;top:167.96px;width:47.76px;height:9.76px;"><div class="ti" style="left:0.00px;width:47.76px;height:9.76px;justify-content:center;font-size:6.2px;color:#1f1f2a;">$28.56</div></div><div class="t" style="left:395.16px;top:177.72px;width:47.76px;height:9.76px;"><div class="ti" style="left:0.00px;width:47.76px;height:9.76px;justify-content:center;font-size:6.2px;font-weight:bold;-webkit-text-stroke:0.12px currentColor;color:#1f1f2a;">1/26</div></div><div class="t" style="left:442.92px;top:177.72px;width:47.76px;height:9.76px;"><div class="ti" style="left:0.00px;width:47.76px;height:9.76px;justify-content:center;font-size:6.2px;font-weight:bold;-webkit-text-stroke:0.12px currentColor;color:#1f1f2a;">1/27</div></div><div class="t" style="left:490.68px;top:177.72px;width:47.76px;height:9.76px;"><div class="ti" style="left:0.00px;width:47.76px;height:9.76px;justify-content:center;font-size:6.2px;font-weight:bold;-webkit-text-stroke:0.12px currentColor;color:#1f1f2a;">1/28</div></div><div class="t" style="left:538.44px;top:177.72px;width:47.76px;height:9.76px;"><div class="ti" style="left:0.00px;width:47.76px;height:9.76px;justify-content:center;font-size:6.2px;font-weight:bold;-webkit-text-stroke:0.12px currentColor;color:#1f1f2a;">1/29</div></div><div class="t" style="left:586.20px;top:177.72px;width:47.76px;height:9.76px;"><div class="ti" style="left:0.00px;width:47.76px;height:9.76px;justify-content:center;font-size:6.2px;font-weight:bold;-webkit-text-stroke:0.12px currentColor;color:#1f1f2a;">1/30</div></div><div class="t" style="left:633.96px;top:177.72px;width:47.76px;height:9.76px;"><div class="ti" style="left:0.00px;width:47.76px;height:9.76px;justify-content:center;font-size:6.2px;font-weight:bold;-webkit-text-stroke:0.12px currentColor;color:#1f1f2a;">1/31</div></div><div class="t" style="left:729.48px;top:177.72px;width:47.76px;height:9.76px;"><div class="ti" style="left:0.00px;width:47.76px;height:9.76px;justify-content:center;font-size:6.2px;font-weight:bold;-webkit-text-stroke:0.12px currentColor;color:#1f1f2a;">AVERAGES</div></div><div class="t" style="left:347.40px;top:187.48px;width:47.76px;height:9.76px;"><div class="ti" style="left:0.00px;width:47.76px;height:9.76px;justify-content:center;font-size:6.2px;font-weight:bold;-webkit-text-stroke:0.12px currentColor;color:#1f1f2a;">Videos</div></div><div class="t" style="left:395.16px;top:187.48px;width:47.76px;height:9.76px;"><div class="ti" style="left:0.00px;width:47.76px;height:9.76px;justify-content:center;font-size:6.2px;color:#1f1f2a;">$4.39</div></div><div class="t" style="left:442.92px;top:187.48px;width:47.76px;height:9.76px;"><div class="ti" style="left:0.00px;width:47.76px;height:9.76px;justify-content:center;font-size:6.2px;color:#1f1f2a;">$6.59</div></div><div class="t" style="left:490.68px;top:187.48px;width:47.76px;height:9.76px;"><div class="ti" style="left:0.00px;width:47.76px;height:9.76px;justify-content:center;font-size:6.2px;font-weight:bold;-webkit-text-stroke:0.12px currentColor;color:#1f1f2a;">$5.99</div></div><div class="t" style="left:538.44px;top:187.48px;width:47.76px;height:9.76px;"><div class="ti" style="left:0.00px;width:47.76px;height:9.76px;justify-content:center;font-size:6.2px;color:#1f1f2a;">$5.99</div></div><div class="t" style="left:586.20px;top:187.48px;width:47.76px;height:9.76px;"><div class="ti" style="left:0.00px;width:47.76px;height:9.76px;justify-content:center;font-size:6.2px;color:#1f1f2a;">$4.39</div></div><div class="t" style="left:633.96px;top:187.48px;width:47.76px;height:9.76px;"><div class="ti" style="left:0.00px;width:47.76px;height:9.76px;justify-content:center;font-size:6.2px;color:#1f1f2a;">$6.59</div></div><div class="t" style="left:729.48px;top:187.48px;width:47.76px;height:9.76px;"><div class="ti" style="left:0.00px;width:47.76px;height:9.76px;justify-content:center;font-size:6.2px;color:#1f1f2a;">$5.66</div></div><div class="t" style="left:347.40px;top:197.24px;width:47.76px;height:9.76px;"><div class="ti" style="left:0.00px;width:47.76px;height:9.76px;justify-content:center;font-size:6.2px;font-weight:bold;-webkit-text-stroke:0.12px currentColor;color:#1f1f2a;">Regular</div></div><div class="t" style="left:395.16px;top:197.24px;width:47.76px;height:9.76px;"><div class="ti" style="left:0.00px;width:47.76px;height:9.76px;justify-content:center;font-size:6.2px;color:#aacbea;">$0.00</div></div><div class="t" style="left:442.92px;top:197.24px;width:47.76px;height:9.76px;"><div class="ti" style="left:0.00px;width:47.76px;height:9.76px;justify-content:center;font-size:6.2px;color:#1f1f2a;">$20.00</div></div><div class="t" style="left:490.68px;top:197.24px;width:47.76px;height:9.76px;"><div class="ti" style="left:0.00px;width:47.76px;height:9.76px;justify-content:center;font-size:6.2px;color:#1f1f2a;">$50.00</div></div><div class="t" style="left:538.44px;top:197.24px;width:47.76px;height:9.76px;"><div class="ti" style="left:0.00px;width:47.76px;height:9.76px;justify-content:center;font-size:6.2px;color:#1f1f2a;">$20.00</div></div><div class="t" style="left:586.20px;top:197.24px;width:47.76px;height:9.76px;"><div class="ti" style="left:0.00px;width:47.76px;height:9.76px;justify-content:center;font-size:6.2px;color:#1f1f2a;">$20.00</div></div><div class="t" style="left:633.96px;top:197.24px;width:47.76px;height:9.76px;"><div class="ti" style="left:0.00px;width:47.76px;height:9.76px;justify-content:center;font-size:6.2px;color:#1f1f2a;">$10.00</div></div><div class="t" style="left:729.48px;top:197.24px;width:47.76px;height:9.76px;"><div class="ti" style="left:0.00px;width:47.76px;height:9.76px;justify-content:center;font-size:6.2px;color:#1f1f2a;">$24.00</div></div><div class="t" style="left:347.40px;top:207.00px;width:47.76px;height:9.76px;"><div class="ti" style="left:0.00px;width:47.76px;height:9.76px;justify-content:center;font-size:6.2px;font-weight:bold;-webkit-text-stroke:0.12px currentColor;color:#1f1f2a;">Overall</div></div><div class="t" style="left:395.16px;top:207.00px;width:47.76px;height:9.76px;"><div class="ti" style="left:0.00px;width:47.76px;height:9.76px;justify-content:center;font-size:6.2px;color:#1f1f2a;">$4.39</div></div><div class="t" style="left:442.92px;top:207.00px;width:47.76px;height:9.76px;"><div class="ti" style="left:0.00px;width:47.76px;height:9.76px;justify-content:center;font-size:6.2px;color:#1f1f2a;">$26.59</div></div><div class="t" style="left:490.68px;top:207.00px;width:47.76px;height:9.76px;"><div class="ti" style="left:0.00px;width:47.76px;height:9.76px;justify-content:center;font-size:6.2px;color:#1f1f2a;">$55.99</div></div><div class="t" style="left:538.44px;top:207.00px;width:47.76px;height:9.76px;"><div class="ti" style="left:0.00px;width:47.76px;height:9.76px;justify-content:center;font-size:6.2px;color:#1f1f2a;">$25.99</div></div><div class="t" style="left:586.20px;top:207.00px;width:47.76px;height:9.76px;"><div class="ti" style="left:0.00px;width:47.76px;height:9.76px;justify-content:center;font-size:6.2px;color:#1f1f2a;">$24.39</div></div><div class="t" style="left:633.96px;top:207.00px;width:47.76px;height:9.76px;"><div class="ti" style="left:0.00px;width:47.76px;height:9.76px;justify-content:center;font-size:6.2px;color:#1f1f2a;">$16.59</div></div><div class="t" style="left:729.48px;top:207.00px;width:47.76px;height:9.76px;"><div class="ti" style="left:0.00px;width:47.76px;height:9.76px;justify-content:center;font-size:6.2px;color:#1f1f2a;">$25.66</div></div><div class="t" style="left:347.40px;top:216.76px;width:47.76px;height:9.76px;"><div class="ti" style="left:0.00px;width:47.76px;height:9.76px;justify-content:center;font-size:6.2px;font-weight:bold;-webkit-text-stroke:0.12px currentColor;color:#1f1f2a;">AVERAGES</div></div><div class="t" style="left:395.16px;top:216.76px;width:47.76px;height:9.76px;"><div class="ti" style="left:0.00px;width:47.76px;height:9.76px;justify-content:center;font-size:6.2px;font-weight:bold;-webkit-text-stroke:0.12px currentColor;color:#1f1f2a;">SUNDAY</div></div><div class="t" style="left:442.92px;top:216.76px;width:47.76px;height:9.76px;"><div class="ti" style="left:0.00px;width:47.76px;height:9.76px;justify-content:center;font-size:6.2px;font-weight:bold;-webkit-text-stroke:0.12px currentColor;color:#1f1f2a;">MONDAY</div></div><div class="t" style="left:490.68px;top:216.76px;width:47.76px;height:9.76px;"><div class="ti" style="left:0.00px;width:47.76px;height:9.76px;justify-content:center;font-size:6.2px;font-weight:bold;-webkit-text-stroke:0.12px currentColor;color:#1f1f2a;">TUESDAY</div></div><div class="t" style="left:538.44px;top:216.76px;width:47.76px;height:9.76px;"><div class="ti" style="left:0.00px;width:47.76px;height:9.76px;justify-content:center;font-size:6.2px;font-weight:bold;-webkit-text-stroke:0.12px currentColor;color:#1f1f2a;">WEDNESDAY</div></div><div class="t" style="left:586.20px;top:216.76px;width:47.76px;height:9.76px;"><div class="ti" style="left:0.00px;width:47.76px;height:9.76px;justify-content:center;font-size:6.2px;font-weight:bold;-webkit-text-stroke:0.12px currentColor;color:#1f1f2a;">THURSDAY</div></div><div class="t" style="left:633.96px;top:216.76px;width:47.76px;height:9.76px;"><div class="ti" style="left:0.00px;width:47.76px;height:9.76px;justify-content:center;font-size:6.2px;font-weight:bold;-webkit-text-stroke:0.12px currentColor;color:#1f1f2a;">FRIDAY</div></div><div class="t" style="left:681.72px;top:216.76px;width:47.76px;height:9.76px;"><div class="ti" style="left:0.00px;width:47.76px;height:9.76px;justify-content:center;font-size:6.2px;font-weight:bold;-webkit-text-stroke:0.12px currentColor;color:#1f1f2a;">SATURDAY</div></div><div class="t" style="left:729.48px;top:216.76px;width:47.76px;height:9.76px;"><div class="ti" style="left:0.00px;width:47.76px;height:9.76px;justify-content:center;font-size:6.2px;font-weight:bold;-webkit-text-stroke:0.12px currentColor;color:#1f1f2a;">AVERAGES</div></div><div class="t" style="left:347.40px;top:226.52px;width:47.76px;height:9.76px;"><div class="ti" style="left:0.00px;width:47.76px;height:9.76px;justify-content:center;font-size:6.2px;font-weight:bold;-webkit-text-stroke:0.12px currentColor;color:#1f1f2a;">Videos</div></div><div class="t" style="left:395.16px;top:226.52px;width:47.76px;height:9.76px;"><div class="ti" style="left:0.00px;width:47.76px;height:9.76px;justify-content:center;font-size:6.2px;color:#1f1f2a;">$5.34</div></div><div class="t" style="left:442.92px;top:226.52px;width:47.76px;height:9.76px;"><div class="ti" style="left:0.00px;width:47.76px;height:9.76px;justify-content:center;font-size:6.2px;color:#1f1f2a;">$5.89</div></div><div class="t" style="left:490.68px;top:226.52px;width:47.76px;height:9.76px;"><div class="ti" style="left:0.00px;width:47.76px;height:9.76px;justify-content:center;font-size:6.2px;color:#1f1f2a;">$7.24</div></div><div class="t" style="left:538.44px;top:226.52px;width:47.76px;height:9.76px;"><div class="ti" style="left:0.00px;width:47.76px;height:9.76px;justify-content:center;font-size:6.2px;color:#1f1f2a;">$4.59</div></div><div class="t" style="left:586.20px;top:226.52px;width:47.76px;height:9.76px;"><div class="ti" style="left:0.00px;width:47.76px;height:9.76px;justify-content:center;font-size:6.2px;color:#1f1f2a;">$5.15</div></div><div class="t" style="left:633.96px;top:226.52px;width:47.76px;height:9.76px;"><div class="ti" style="left:0.00px;width:47.76px;height:9.76px;justify-content:center;font-size:6.2px;color:#1f1f2a;">$5.15</div></div><div class="t" style="left:681.72px;top:226.52px;width:47.76px;height:9.76px;"><div class="ti" style="left:0.00px;width:47.76px;height:9.76px;justify-content:center;font-size:6.2px;color:#1f1f2a;">$5.74</div></div><div class="t" style="left:729.48px;top:226.52px;width:47.76px;height:9.76px;"><div class="ti" style="left:0.00px;width:47.76px;height:9.76px;justify-content:center;font-size:6.2px;color:#1f1f2a;">$5.59</div></div><div class="t" style="left:347.40px;top:236.28px;width:47.76px;height:9.76px;"><div class="ti" style="left:0.00px;width:47.76px;height:9.76px;justify-content:center;font-size:6.2px;font-weight:bold;-webkit-text-stroke:0.12px currentColor;color:#1f1f2a;">Regular</div></div><div class="t" style="left:395.16px;top:236.28px;width:47.76px;height:9.76px;"><div class="ti" style="left:0.00px;width:47.76px;height:9.76px;justify-content:center;font-size:6.2px;color:#1f1f2a;">$27.50</div></div><div class="t" style="left:442.92px;top:236.28px;width:47.76px;height:9.76px;"><div class="ti" style="left:0.00px;width:47.76px;height:9.76px;justify-content:center;font-size:6.2px;color:#1f1f2a;">$12.50</div></div><div class="t" style="left:490.68px;top:236.28px;width:47.76px;height:9.76px;"><div class="ti" style="left:0.00px;width:47.76px;height:9.76px;justify-content:center;font-size:6.2px;color:#1f1f2a;">$35.00</div></div><div class="t" style="left:538.44px;top:236.28px;width:47.76px;height:9.76px;"><div class="ti" style="left:0.00px;width:47.76px;height:9.76px;justify-content:center;font-size:6.2px;color:#1f1f2a;">$24.00</div></div><div class="t" style="left:586.20px;top:236.28px;width:47.76px;height:9.76px;"><div class="ti" style="left:0.00px;width:47.76px;height:9.76px;justify-content:center;font-size:6.2px;color:#1f1f2a;">$24.00</div></div><div class="t" style="left:633.96px;top:236.28px;width:47.76px;height:9.76px;"><div class="ti" style="left:0.00px;width:47.76px;height:9.76px;justify-content:center;font-size:6.2px;color:#1f1f2a;">$22.00</div></div><div class="t" style="left:681.72px;top:236.28px;width:47.76px;height:9.76px;"><div class="ti" style="left:0.00px;width:47.76px;height:9.76px;justify-content:center;font-size:6.2px;color:#1f1f2a;">$30.00</div></div><div class="t" style="left:729.48px;top:236.28px;width:47.76px;height:9.76px;"><div class="ti" style="left:0.00px;width:47.76px;height:9.76px;justify-content:center;font-size:6.2px;color:#1f1f2a;">$25.00</div></div><div class="t" style="left:347.40px;top:246.04px;width:47.76px;height:9.76px;"><div class="ti" style="left:0.00px;width:47.76px;height:9.76px;justify-content:center;font-size:6.2px;font-weight:bold;-webkit-text-stroke:0.12px currentColor;color:#1f1f2a;">Overall</div></div><div class="t" style="left:395.16px;top:246.04px;width:47.76px;height:9.76px;"><div class="ti" style="left:0.00px;width:47.76px;height:9.76px;justify-content:center;font-size:6.2px;color:#1f1f2a;">$32.84</div></div><div class="t" style="left:442.92px;top:246.04px;width:47.76px;height:9.76px;"><div class="ti" style="left:0.00px;width:47.76px;height:9.76px;justify-content:center;font-size:6.2px;color:#1f1f2a;">$18.39</div></div><div class="t" style="left:490.68px;top:246.04px;width:47.76px;height:9.76px;"><div class="ti" style="left:0.00px;width:47.76px;height:9.76px;justify-content:center;font-size:6.2px;color:#1f1f2a;">$42.24</div></div><div class="t" style="left:538.44px;top:246.04px;width:47.76px;height:9.76px;"><div class="ti" style="left:0.00px;width:47.76px;height:9.76px;justify-content:center;font-size:6.2px;color:#1f1f2a;">$28.59</div></div><div class="t" style="left:586.20px;top:246.04px;width:47.76px;height:9.76px;"><div class="ti" style="left:0.00px;width:47.76px;height:9.76px;justify-content:center;font-size:6.2px;color:#1f1f2a;">$29.15</div></div><div class="t" style="left:633.96px;top:246.04px;width:47.76px;height:9.76px;"><div class="ti" style="left:0.00px;width:47.76px;height:9.76px;justify-content:center;font-size:6.2px;color:#1f1f2a;">$27.15</div></div><div class="t" style="left:681.72px;top:246.04px;width:47.76px;height:9.76px;"><div class="ti" style="left:0.00px;width:47.76px;height:9.76px;justify-content:center;font-size:6.2px;color:#1f1f2a;">$35.74</div></div><div class="t" style="left:729.48px;top:246.04px;width:47.76px;height:9.76px;"><div class="ti" style="left:0.00px;width:47.76px;height:9.76px;justify-content:center;font-size:6.2px;color:#1f1f2a;">$30.59</div></div><div class="t" style="left:794.30px;top:2.04px;width:210.70px;height:9.76px;"><div class="ti" style="left:0.00px;width:210.70px;height:9.76px;justify-content:center;font-size:6.2px;font-weight:bold;-webkit-text-stroke:0.12px currentColor;color:#2a1a1a;">Videos</div></div><div class="t" style="left:794.30px;top:11.80px;width:26.10px;height:9.76px;"><div class="ti" style="left:0.00px;width:26.10px;height:9.76px;justify-content:center;font-size:6.2px;font-weight:bold;-webkit-text-stroke:0.12px currentColor;color:#2a1a1a;">Date</div></div><div class="t" style="left:820.40px;top:11.80px;width:30.20px;height:9.76px;"><div class="ti" style="left:0.00px;width:30.20px;height:9.76px;justify-content:center;font-size:6.2px;font-weight:bold;-webkit-text-stroke:0.12px currentColor;color:#2a1a1a;">Video</div></div><div class="t" style="left:850.60px;top:11.80px;width:33.10px;height:9.76px;"><div class="ti" style="left:0.00px;width:33.10px;height:9.76px;justify-content:center;font-size:6.2px;font-weight:bold;-webkit-text-stroke:0.12px currentColor;color:#2a1a1a;">Payment</div></div><div class="t" style="left:883.70px;top:11.80px;width:24.70px;height:9.76px;"><div class="ti" style="left:0.00px;width:24.70px;height:9.76px;justify-content:center;font-size:6.2px;font-weight:bold;-webkit-text-stroke:0.12px currentColor;color:#2a1a1a;">$</div></div><div class="t" style="left:794.30px;top:21.56px;width:26.10px;height:9.76px;"><div class="ti" style="left:0.00px;width:26.10px;height:9.76px;justify-content:center;font-size:6.2px;color:#2a1a1a;">1/1</div></div><div class="t" style="left:820.40px;top:21.56px;width:30.20px;height:9.76px;"><div class="ti" style="left:0.00px;width:30.20px;height:9.76px;justify-content:center;font-size:6.2px;color:#2a1a1a;">Video 51</div></div><div class="t" style="left:850.60px;top:21.56px;width:33.10px;height:9.76px;"><div class="ti" style="left:0.00px;width:33.10px;height:9.76px;justify-content:center;font-size:6.2px;color:#2a1a1a;">Clips4Sale</div></div><div class="t" style="left:883.70px;top:21.56px;width:24.70px;height:9.76px;"><div class="ti" style="left:0.00px;width:24.70px;height:9.76px;justify-content:center;font-size:6.2px;color:#2a1a1a;">$5.99</div></div><div class="t" style="left:794.30px;top:31.32px;width:26.10px;height:9.76px;"><div class="ti" style="left:0.00px;width:26.10px;height:9.76px;justify-content:center;font-size:6.2px;color:#2a1a1a;">1/2</div></div><div class="t" style="left:820.40px;top:31.32px;width:30.20px;height:9.76px;"><div class="ti" style="left:0.00px;width:30.20px;height:9.76px;justify-content:center;font-size:6.2px;color:#2a1a1a;">Video 22</div></div><div class="t" style="left:850.60px;top:31.32px;width:33.10px;height:9.76px;"><div class="ti" style="left:0.00px;width:33.10px;height:9.76px;justify-content:center;font-size:6.2px;color:#2a1a1a;">ManyVids</div></div><div class="t" style="left:883.70px;top:31.32px;width:24.70px;height:9.76px;"><div class="ti" style="left:0.00px;width:24.70px;height:9.76px;justify-content:center;font-size:6.2px;color:#2a1a1a;">$4.39</div></div><div class="t" style="left:794.30px;top:41.08px;width:26.10px;height:9.76px;"><div class="ti" style="left:0.00px;width:26.10px;height:9.76px;justify-content:center;font-size:6.2px;color:#2a1a1a;">1/3</div></div><div class="t" style="left:820.40px;top:41.08px;width:30.20px;height:9.76px;"><div class="ti" style="left:0.00px;width:30.20px;height:9.76px;justify-content:center;font-size:6.2px;color:#2a1a1a;">Video 25</div></div><div class="t" style="left:850.60px;top:41.08px;width:33.10px;height:9.76px;"><div class="ti" style="left:0.00px;width:33.10px;height:9.76px;justify-content:center;font-size:6.2px;color:#2a1a1a;">Clips4Sale</div></div><div class="t" style="left:883.70px;top:41.08px;width:24.70px;height:9.76px;"><div class="ti" style="left:0.00px;width:24.70px;height:9.76px;justify-content:center;font-size:6.2px;color:#2a1a1a;">$6.59</div></div><div class="t" style="left:794.30px;top:50.84px;width:26.10px;height:9.76px;"><div class="ti" style="left:0.00px;width:26.10px;height:9.76px;justify-content:center;font-size:6.2px;color:#2a1a1a;">1/4</div></div><div class="t" style="left:820.40px;top:50.84px;width:30.20px;height:9.76px;"><div class="ti" style="left:0.00px;width:30.20px;height:9.76px;justify-content:center;font-size:6.2px;color:#2a1a1a;">Video 89</div></div><div class="t" style="left:850.60px;top:50.84px;width:33.10px;height:9.76px;"><div class="ti" style="left:0.00px;width:33.10px;height:9.76px;justify-content:center;font-size:6.2px;color:#2a1a1a;">ManyVids</div></div><div class="t" style="left:883.70px;top:50.84px;width:24.70px;height:9.76px;"><div class="ti" style="left:0.00px;width:24.70px;height:9.76px;justify-content:center;font-size:6.2px;color:#2a1a1a;">$5.99</div></div><div class="t" style="left:794.30px;top:60.60px;width:26.10px;height:9.76px;"><div class="ti" style="left:0.00px;width:26.10px;height:9.76px;justify-content:center;font-size:6.2px;color:#2a1a1a;">1/5</div></div><div class="t" style="left:820.40px;top:60.60px;width:30.20px;height:9.76px;"><div class="ti" style="left:0.00px;width:30.20px;height:9.76px;justify-content:center;font-size:6.2px;color:#2a1a1a;">Video 28</div></div><div class="t" style="left:850.60px;top:60.60px;width:33.10px;height:9.76px;"><div class="ti" style="left:0.00px;width:33.10px;height:9.76px;justify-content:center;font-size:6.2px;color:#2a1a1a;">Clips4Sale</div></div><div class="t" style="left:883.70px;top:60.60px;width:24.70px;height:9.76px;"><div class="ti" style="left:0.00px;width:24.70px;height:9.76px;justify-content:center;font-size:6.2px;color:#2a1a1a;">$4.39</div></div><div class="t" style="left:794.30px;top:70.36px;width:26.10px;height:9.76px;"><div class="ti" style="left:0.00px;width:26.10px;height:9.76px;justify-content:center;font-size:6.2px;color:#2a1a1a;">1/6</div></div><div class="t" style="left:820.40px;top:70.36px;width:30.20px;height:9.76px;"><div class="ti" style="left:0.00px;width:30.20px;height:9.76px;justify-content:center;font-size:6.2px;color:#2a1a1a;">Video 51</div></div><div class="t" style="left:850.60px;top:70.36px;width:33.10px;height:9.76px;"><div class="ti" style="left:0.00px;width:33.10px;height:9.76px;justify-content:center;font-size:6.2px;color:#2a1a1a;">ManyVids</div></div><div class="t" style="left:883.70px;top:70.36px;width:24.70px;height:9.76px;"><div class="ti" style="left:0.00px;width:24.70px;height:9.76px;justify-content:center;font-size:6.2px;color:#2a1a1a;">$6.59</div></div><div class="t" style="left:794.30px;top:80.12px;width:26.10px;height:9.76px;"><div class="ti" style="left:0.00px;width:26.10px;height:9.76px;justify-content:center;font-size:6.2px;color:#2a1a1a;">1/7</div></div><div class="t" style="left:820.40px;top:80.12px;width:30.20px;height:9.76px;"><div class="ti" style="left:0.00px;width:30.20px;height:9.76px;justify-content:center;font-size:6.2px;color:#2a1a1a;">Video 22</div></div><div class="t" style="left:850.60px;top:80.12px;width:33.10px;height:9.76px;"><div class="ti" style="left:0.00px;width:33.10px;height:9.76px;justify-content:center;font-size:6.2px;color:#2a1a1a;">Clips4Sale</div></div><div class="t" style="left:883.70px;top:80.12px;width:24.70px;height:9.76px;"><div class="ti" style="left:0.00px;width:24.70px;height:9.76px;justify-content:center;font-size:6.2px;color:#2a1a1a;">$5.99</div></div><div class="t" style="left:794.30px;top:89.88px;width:26.10px;height:9.76px;"><div class="ti" style="left:0.00px;width:26.10px;height:9.76px;justify-content:center;font-size:6.2px;color:#2a1a1a;">1/8</div></div><div class="t" style="left:820.40px;top:89.88px;width:30.20px;height:9.76px;"><div class="ti" style="left:0.00px;width:30.20px;height:9.76px;justify-content:center;font-size:6.2px;color:#2a1a1a;">Video 25</div></div><div class="t" style="left:850.60px;top:89.88px;width:33.10px;height:9.76px;"><div class="ti" style="left:0.00px;width:33.10px;height:9.76px;justify-content:center;font-size:6.2px;color:#2a1a1a;">ManyVids</div></div><div class="t" style="left:883.70px;top:89.88px;width:24.70px;height:9.76px;"><div class="ti" style="left:0.00px;width:24.70px;height:9.76px;justify-content:center;font-size:6.2px;color:#2a1a1a;">$4.39</div></div><div class="t" style="left:794.30px;top:99.64px;width:26.10px;height:9.76px;"><div class="ti" style="left:0.00px;width:26.10px;height:9.76px;justify-content:center;font-size:6.2px;color:#2a1a1a;">1/9</div></div><div class="t" style="left:820.40px;top:99.64px;width:30.20px;height:9.76px;"><div class="ti" style="left:0.00px;width:30.20px;height:9.76px;justify-content:center;font-size:6.2px;color:#2a1a1a;">Video 89</div></div><div class="t" style="left:850.60px;top:99.64px;width:33.10px;height:9.76px;"><div class="ti" style="left:0.00px;width:33.10px;height:9.76px;justify-content:center;font-size:6.2px;color:#2a1a1a;">Clips4Sale</div></div><div class="t" style="left:883.70px;top:99.64px;width:24.70px;height:9.76px;"><div class="ti" style="left:0.00px;width:24.70px;height:9.76px;justify-content:center;font-size:6.2px;color:#2a1a1a;">$6.59</div></div><div class="t" style="left:794.30px;top:109.40px;width:26.10px;height:9.76px;"><div class="ti" style="left:0.00px;width:26.10px;height:9.76px;justify-content:center;font-size:6.2px;color:#2a1a1a;">1/10</div></div><div class="t" style="left:820.40px;top:109.40px;width:30.20px;height:9.76px;"><div class="ti" style="left:0.00px;width:30.20px;height:9.76px;justify-content:center;font-size:6.2px;color:#2a1a1a;">Video 28</div></div><div class="t" style="left:850.60px;top:109.40px;width:33.10px;height:9.76px;"><div class="ti" style="left:0.00px;width:33.10px;height:9.76px;justify-content:center;font-size:6.2px;color:#2a1a1a;">ManyVids</div></div><div class="t" style="left:883.70px;top:109.40px;width:24.70px;height:9.76px;"><div class="ti" style="left:0.00px;width:24.70px;height:9.76px;justify-content:center;font-size:6.2px;color:#2a1a1a;">$5.99</div></div><div class="t" style="left:794.30px;top:119.16px;width:26.10px;height:9.76px;"><div class="ti" style="left:0.00px;width:26.10px;height:9.76px;justify-content:center;font-size:6.2px;color:#2a1a1a;">1/11</div></div><div class="t" style="left:820.40px;top:119.16px;width:30.20px;height:9.76px;"><div class="ti" style="left:0.00px;width:30.20px;height:9.76px;justify-content:center;font-size:6.2px;color:#2a1a1a;">Video 51</div></div><div class="t" style="left:850.60px;top:119.16px;width:33.10px;height:9.76px;"><div class="ti" style="left:0.00px;width:33.10px;height:9.76px;justify-content:center;font-size:6.2px;color:#2a1a1a;">Clips4Sale</div></div><div class="t" style="left:883.70px;top:119.16px;width:24.70px;height:9.76px;"><div class="ti" style="left:0.00px;width:24.70px;height:9.76px;justify-content:center;font-size:6.2px;color:#2a1a1a;">$4.39</div></div><div class="t" style="left:794.30px;top:128.92px;width:26.10px;height:9.76px;"><div class="ti" style="left:0.00px;width:26.10px;height:9.76px;justify-content:center;font-size:6.2px;color:#2a1a1a;">1/12</div></div><div class="t" style="left:820.40px;top:128.92px;width:30.20px;height:9.76px;"><div class="ti" style="left:0.00px;width:30.20px;height:9.76px;justify-content:center;font-size:6.2px;color:#2a1a1a;">Video 22</div></div><div class="t" style="left:850.60px;top:128.92px;width:33.10px;height:9.76px;"><div class="ti" style="left:0.00px;width:33.10px;height:9.76px;justify-content:center;font-size:6.2px;color:#2a1a1a;">ManyVids</div></div><div class="t" style="left:883.70px;top:128.92px;width:24.70px;height:9.76px;"><div class="ti" style="left:0.00px;width:24.70px;height:9.76px;justify-content:center;font-size:6.2px;color:#2a1a1a;">$6.59</div></div><div class="t" style="left:794.30px;top:138.68px;width:26.10px;height:9.76px;"><div class="ti" style="left:0.00px;width:26.10px;height:9.76px;justify-content:center;font-size:6.2px;color:#2a1a1a;">1/13</div></div><div class="t" style="left:820.40px;top:138.68px;width:30.20px;height:9.76px;"><div class="ti" style="left:0.00px;width:30.20px;height:9.76px;justify-content:center;font-size:6.2px;color:#2a1a1a;">Video 25</div></div><div class="t" style="left:850.60px;top:138.68px;width:33.10px;height:9.76px;"><div class="ti" style="left:0.00px;width:33.10px;height:9.76px;justify-content:center;font-size:6.2px;color:#2a1a1a;">Clips4Sale</div></div><div class="t" style="left:883.70px;top:138.68px;width:24.70px;height:9.76px;"><div class="ti" style="left:0.00px;width:24.70px;height:9.76px;justify-content:center;font-size:6.2px;color:#2a1a1a;">$5.99</div></div><div class="t" style="left:794.30px;top:148.44px;width:26.10px;height:9.76px;"><div class="ti" style="left:0.00px;width:26.10px;height:9.76px;justify-content:center;font-size:6.2px;color:#2a1a1a;">1/15</div></div><div class="t" style="left:820.40px;top:148.44px;width:30.20px;height:9.76px;"><div class="ti" style="left:0.00px;width:30.20px;height:9.76px;justify-content:center;font-size:6.2px;color:#2a1a1a;">Video 28</div></div><div class="t" style="left:850.60px;top:148.44px;width:33.10px;height:9.76px;"><div class="ti" style="left:0.00px;width:33.10px;height:9.76px;justify-content:center;font-size:6.2px;color:#2a1a1a;">Clips4Sale</div></div><div class="t" style="left:883.70px;top:148.44px;width:24.70px;height:9.76px;"><div class="ti" style="left:0.00px;width:24.70px;height:9.76px;justify-content:center;font-size:6.2px;color:#2a1a1a;">$6.59</div></div><div class="t" style="left:794.30px;top:158.20px;width:26.10px;height:9.76px;"><div class="ti" style="left:0.00px;width:26.10px;height:9.76px;justify-content:center;font-size:6.2px;color:#2a1a1a;">1/16</div></div><div class="t" style="left:820.40px;top:158.20px;width:30.20px;height:9.76px;"><div class="ti" style="left:0.00px;width:30.20px;height:9.76px;justify-content:center;font-size:6.2px;color:#2a1a1a;">Video 51</div></div><div class="t" style="left:850.60px;top:158.20px;width:33.10px;height:9.76px;"><div class="ti" style="left:0.00px;width:33.10px;height:9.76px;justify-content:center;font-size:6.2px;color:#2a1a1a;">ManyVids</div></div><div class="t" style="left:883.70px;top:158.20px;width:24.70px;height:9.76px;"><div class="ti" style="left:0.00px;width:24.70px;height:9.76px;justify-content:center;font-size:6.2px;color:#2a1a1a;">$5.99</div></div><div class="t" style="left:794.30px;top:167.96px;width:26.10px;height:9.76px;"><div class="ti" style="left:0.00px;width:26.10px;height:9.76px;justify-content:center;font-size:6.2px;color:#2a1a1a;">1/16</div></div><div class="t" style="left:820.40px;top:167.96px;width:30.20px;height:9.76px;"><div class="ti" style="left:0.00px;width:30.20px;height:9.76px;justify-content:center;font-size:6.2px;color:#2a1a1a;">Video 22</div></div><div class="t" style="left:850.60px;top:167.96px;width:33.10px;height:9.76px;"><div class="ti" style="left:0.00px;width:33.10px;height:9.76px;justify-content:center;font-size:6.2px;color:#2a1a1a;">Clips4Sale</div></div><div class="t" style="left:883.70px;top:167.96px;width:24.70px;height:9.76px;"><div class="ti" style="left:0.00px;width:24.70px;height:9.76px;justify-content:center;font-size:6.2px;color:#2a1a1a;">$4.39</div></div><div class="t" style="left:794.30px;top:177.72px;width:26.10px;height:9.76px;"><div class="ti" style="left:0.00px;width:26.10px;height:9.76px;justify-content:center;font-size:6.2px;color:#2a1a1a;">1/18</div></div><div class="t" style="left:820.40px;top:177.72px;width:30.20px;height:9.76px;"><div class="ti" style="left:0.00px;width:30.20px;height:9.76px;justify-content:center;font-size:6.2px;color:#2a1a1a;">Video 25</div></div><div class="t" style="left:850.60px;top:177.72px;width:33.10px;height:9.76px;"><div class="ti" style="left:0.00px;width:33.10px;height:9.76px;justify-content:center;font-size:6.2px;color:#2a1a1a;">ManyVids</div></div><div class="t" style="left:883.70px;top:177.72px;width:24.70px;height:9.76px;"><div class="ti" style="left:0.00px;width:24.70px;height:9.76px;justify-content:center;font-size:6.2px;color:#2a1a1a;">$6.59</div></div><div class="t" style="left:794.30px;top:187.48px;width:26.10px;height:9.76px;"><div class="ti" style="left:0.00px;width:26.10px;height:9.76px;justify-content:center;font-size:6.2px;color:#2a1a1a;">1/19</div></div><div class="t" style="left:820.40px;top:187.48px;width:30.20px;height:9.76px;"><div class="ti" style="left:0.00px;width:30.20px;height:9.76px;justify-content:center;font-size:6.2px;color:#2a1a1a;">Video 89</div></div><div class="t" style="left:850.60px;top:187.48px;width:33.10px;height:9.76px;"><div class="ti" style="left:0.00px;width:33.10px;height:9.76px;justify-content:center;font-size:6.2px;color:#2a1a1a;">Clips4Sale</div></div><div class="t" style="left:883.70px;top:187.48px;width:24.70px;height:9.76px;"><div class="ti" style="left:0.00px;width:24.70px;height:9.76px;justify-content:center;font-size:6.2px;color:#2a1a1a;">$5.99</div></div><div class="t" style="left:794.30px;top:197.24px;width:26.10px;height:9.76px;"><div class="ti" style="left:0.00px;width:26.10px;height:9.76px;justify-content:center;font-size:6.2px;color:#2a1a1a;">1/20</div></div><div class="t" style="left:820.40px;top:197.24px;width:30.20px;height:9.76px;"><div class="ti" style="left:0.00px;width:30.20px;height:9.76px;justify-content:center;font-size:6.2px;color:#2a1a1a;">Video 28</div></div><div class="t" style="left:850.60px;top:197.24px;width:33.10px;height:9.76px;"><div class="ti" style="left:0.00px;width:33.10px;height:9.76px;justify-content:center;font-size:6.2px;color:#2a1a1a;">ManyVids</div></div><div class="t" style="left:883.70px;top:197.24px;width:24.70px;height:9.76px;"><div class="ti" style="left:0.00px;width:24.70px;height:9.76px;justify-content:center;font-size:6.2px;color:#2a1a1a;">$4.39</div></div><div class="t" style="left:794.30px;top:207.00px;width:26.10px;height:9.76px;"><div class="ti" style="left:0.00px;width:26.10px;height:9.76px;justify-content:center;font-size:6.2px;color:#2a1a1a;">1/21</div></div><div class="t" style="left:820.40px;top:207.00px;width:30.20px;height:9.76px;"><div class="ti" style="left:0.00px;width:30.20px;height:9.76px;justify-content:center;font-size:6.2px;color:#2a1a1a;">Video 51</div></div><div class="t" style="left:850.60px;top:207.00px;width:33.10px;height:9.76px;"><div class="ti" style="left:0.00px;width:33.10px;height:9.76px;justify-content:center;font-size:6.2px;color:#2a1a1a;">Clips4Sale</div></div><div class="t" style="left:883.70px;top:207.00px;width:24.70px;height:9.76px;"><div class="ti" style="left:0.00px;width:24.70px;height:9.76px;justify-content:center;font-size:6.2px;color:#2a1a1a;">$6.59</div></div><div class="t" style="left:794.30px;top:216.76px;width:26.10px;height:9.76px;"><div class="ti" style="left:0.00px;width:26.10px;height:9.76px;justify-content:center;font-size:6.2px;color:#2a1a1a;">1/21</div></div><div class="t" style="left:820.40px;top:216.76px;width:30.20px;height:9.76px;"><div class="ti" style="left:0.00px;width:30.20px;height:9.76px;justify-content:center;font-size:6.2px;color:#2a1a1a;">Video 22</div></div><div class="t" style="left:850.60px;top:216.76px;width:33.10px;height:9.76px;"><div class="ti" style="left:0.00px;width:33.10px;height:9.76px;justify-content:center;font-size:6.2px;color:#2a1a1a;">ManyVids</div></div><div class="t" style="left:883.70px;top:216.76px;width:24.70px;height:9.76px;"><div class="ti" style="left:0.00px;width:24.70px;height:9.76px;justify-content:center;font-size:6.2px;color:#2a1a1a;">$5.99</div></div><div class="t" style="left:794.30px;top:226.52px;width:26.10px;height:9.76px;"><div class="ti" style="left:0.00px;width:26.10px;height:9.76px;justify-content:center;font-size:6.2px;color:#2a1a1a;">1/21</div></div><div class="t" style="left:820.40px;top:226.52px;width:30.20px;height:9.76px;"><div class="ti" style="left:0.00px;width:30.20px;height:9.76px;justify-content:center;font-size:6.2px;color:#2a1a1a;">Video 25</div></div><div class="t" style="left:850.60px;top:226.52px;width:33.10px;height:9.76px;"><div class="ti" style="left:0.00px;width:33.10px;height:9.76px;justify-content:center;font-size:6.2px;color:#2a1a1a;">Clips4Sale</div></div><div class="t" style="left:883.70px;top:226.52px;width:24.70px;height:9.76px;"><div class="ti" style="left:0.00px;width:24.70px;height:9.76px;justify-content:center;font-size:6.2px;color:#2a1a1a;">$4.39</div></div><div class="t" style="left:794.30px;top:236.28px;width:26.10px;height:9.76px;"><div class="ti" style="left:0.00px;width:26.10px;height:9.76px;justify-content:center;font-size:6.2px;color:#2a1a1a;">1/24</div></div><div class="t" style="left:820.40px;top:236.28px;width:30.20px;height:9.76px;"><div class="ti" style="left:0.00px;width:30.20px;height:9.76px;justify-content:center;font-size:6.2px;color:#2a1a1a;">Video 89</div></div><div class="t" style="left:850.60px;top:236.28px;width:33.10px;height:9.76px;"><div class="ti" style="left:0.00px;width:33.10px;height:9.76px;justify-content:center;font-size:6.2px;color:#2a1a1a;">ManyVids</div></div><div class="t" style="left:883.70px;top:236.28px;width:24.70px;height:9.76px;"><div class="ti" style="left:0.00px;width:24.70px;height:9.76px;justify-content:center;font-size:6.2px;color:#2a1a1a;">$6.59</div></div><div class="t" style="left:794.30px;top:246.04px;width:26.10px;height:9.76px;"><div class="ti" style="left:0.00px;width:26.10px;height:9.76px;justify-content:center;font-size:6.2px;color:#2a1a1a;">1/25</div></div><div class="t" style="left:820.40px;top:246.04px;width:30.20px;height:9.76px;"><div class="ti" style="left:0.00px;width:30.20px;height:9.76px;justify-content:center;font-size:6.2px;color:#2a1a1a;">Video 28</div></div><div class="t" style="left:850.60px;top:246.04px;width:33.10px;height:9.76px;"><div class="ti" style="left:0.00px;width:33.10px;height:9.76px;justify-content:center;font-size:6.2px;color:#2a1a1a;">Clips4Sale</div></div><div class="t" style="left:883.70px;top:246.04px;width:24.70px;height:9.76px;"><div class="ti" style="left:0.00px;width:24.70px;height:9.76px;justify-content:center;font-size:6.2px;color:#2a1a1a;">$5.99</div></div><div class="t" style="left:794.30px;top:255.80px;width:26.10px;height:9.76px;"><div class="ti" style="left:0.00px;width:26.10px;height:9.76px;justify-content:center;font-size:6.2px;color:#2a1a1a;">1/26</div></div><div class="t" style="left:820.40px;top:255.80px;width:30.20px;height:9.76px;"><div class="ti" style="left:0.00px;width:30.20px;height:9.76px;justify-content:center;font-size:6.2px;color:#2a1a1a;">Video 51</div></div><div class="t" style="left:850.60px;top:255.80px;width:33.10px;height:9.76px;"><div class="ti" style="left:0.00px;width:33.10px;height:9.76px;justify-content:center;font-size:6.2px;color:#2a1a1a;">ManyVids</div></div><div class="t" style="left:883.70px;top:255.80px;width:24.70px;height:9.76px;"><div class="ti" style="left:0.00px;width:24.70px;height:9.76px;justify-content:center;font-size:6.2px;color:#2a1a1a;">$4.39</div></div><div class="t" style="left:794.30px;top:265.56px;width:26.10px;height:9.76px;"><div class="ti" style="left:0.00px;width:26.10px;height:9.76px;justify-content:center;font-size:6.2px;color:#2a1a1a;">1/27</div></div><div class="t" style="left:820.40px;top:265.56px;width:30.20px;height:9.76px;"><div class="ti" style="left:0.00px;width:30.20px;height:9.76px;justify-content:center;font-size:6.2px;color:#2a1a1a;">Video 22</div></div><div class="t" style="left:850.60px;top:265.56px;width:33.10px;height:9.76px;"><div class="ti" style="left:0.00px;width:33.10px;height:9.76px;justify-content:center;font-size:6.2px;color:#2a1a1a;">Clips4Sale</div></div><div class="t" style="left:883.70px;top:265.56px;width:24.70px;height:9.76px;"><div class="ti" style="left:0.00px;width:24.70px;height:9.76px;justify-content:center;font-size:6.2px;color:#2a1a1a;">$6.59</div></div><div class="t" style="left:794.30px;top:275.32px;width:26.10px;height:9.76px;"><div class="ti" style="left:0.00px;width:26.10px;height:9.76px;justify-content:center;font-size:6.2px;color:#2a1a1a;">1/28</div></div><div class="t" style="left:820.40px;top:275.32px;width:30.20px;height:9.76px;"><div class="ti" style="left:0.00px;width:30.20px;height:9.76px;justify-content:center;font-size:6.2px;color:#2a1a1a;">Video 25</div></div><div class="t" style="left:850.60px;top:275.32px;width:33.10px;height:9.76px;"><div class="ti" style="left:0.00px;width:33.10px;height:9.76px;justify-content:center;font-size:6.2px;color:#2a1a1a;">ManyVids</div></div><div class="t" style="left:883.70px;top:275.32px;width:24.70px;height:9.76px;"><div class="ti" style="left:0.00px;width:24.70px;height:9.76px;justify-content:center;font-size:6.2px;color:#2a1a1a;">$5.99</div></div><div class="t" style="left:794.30px;top:285.08px;width:26.10px;height:9.76px;"><div class="ti" style="left:0.00px;width:26.10px;height:9.76px;justify-content:center;font-size:6.2px;color:#2a1a1a;">1/29</div></div><div class="t" style="left:820.40px;top:285.08px;width:30.20px;height:9.76px;"><div class="ti" style="left:0.00px;width:30.20px;height:9.76px;justify-content:center;font-size:6.2px;color:#2a1a1a;">Video 89</div></div><div class="t" style="left:850.60px;top:285.08px;width:33.10px;height:9.76px;"><div class="ti" style="left:0.00px;width:33.10px;height:9.76px;justify-content:center;font-size:6.2px;color:#2a1a1a;">Clips4Sale</div></div><div class="t" style="left:883.70px;top:285.08px;width:24.70px;height:9.76px;"><div class="ti" style="left:0.00px;width:24.70px;height:9.76px;justify-content:center;font-size:6.2px;color:#2a1a1a;">$5.99</div></div><div class="t" style="left:794.30px;top:294.84px;width:26.10px;height:9.76px;"><div class="ti" style="left:0.00px;width:26.10px;height:9.76px;justify-content:center;font-size:6.2px;color:#2a1a1a;">1/30</div></div><div class="t" style="left:820.40px;top:294.84px;width:30.20px;height:9.76px;"><div class="ti" style="left:0.00px;width:30.20px;height:9.76px;justify-content:center;font-size:6.2px;color:#2a1a1a;">Video 28</div></div><div class="t" style="left:850.60px;top:294.84px;width:33.10px;height:9.76px;"><div class="ti" style="left:0.00px;width:33.10px;height:9.76px;justify-content:center;font-size:6.2px;color:#2a1a1a;">ManyVids</div></div><div class="t" style="left:883.70px;top:294.84px;width:24.70px;height:9.76px;"><div class="ti" style="left:0.00px;width:24.70px;height:9.76px;justify-content:center;font-size:6.2px;color:#2a1a1a;">$4.39</div></div><div class="t" style="left:794.30px;top:304.60px;width:26.10px;height:9.76px;"><div class="ti" style="left:0.00px;width:26.10px;height:9.76px;justify-content:center;font-size:6.2px;color:#2a1a1a;">1/31</div></div><div class="t" style="left:820.40px;top:304.60px;width:30.20px;height:9.76px;"><div class="ti" style="left:0.00px;width:30.20px;height:9.76px;justify-content:center;font-size:6.2px;color:#2a1a1a;">Video 51</div></div><div class="t" style="left:850.60px;top:304.60px;width:33.10px;height:9.76px;"><div class="ti" style="left:0.00px;width:33.10px;height:9.76px;justify-content:center;font-size:6.2px;color:#2a1a1a;">Clips4Sale</div></div><div class="t" style="left:883.70px;top:304.60px;width:24.70px;height:9.76px;"><div class="ti" style="left:0.00px;width:24.70px;height:9.76px;justify-content:center;font-size:6.2px;color:#2a1a1a;">$6.59</div></div><div class="t" style="left:908.40px;top:11.80px;width:96.60px;height:9.76px;"><div class="ti" style="left:0.00px;width:96.60px;height:9.76px;justify-content:center;font-size:6.2px;font-weight:bold;-webkit-text-stroke:0.12px currentColor;color:#2a1a1a;">2020 Video Earnings</div></div><div class="t" style="left:908.40px;top:21.56px;width:48.00px;height:9.76px;"><div class="ti" style="left:0.00px;width:48.00px;height:9.76px;justify-content:center;font-size:6.2px;font-weight:bold;-webkit-text-stroke:0.12px currentColor;color:#2a1a1a;">January</div></div><div class="t" style="left:956.40px;top:21.56px;width:48.60px;height:9.76px;"><div class="ti" style="left:0.00px;width:48.60px;height:9.76px;justify-content:center;font-size:6.2px;color:#2a1a1a;">$171.30</div></div><div class="t" style="left:908.40px;top:31.32px;width:48.00px;height:9.76px;"><div class="ti" style="left:0.00px;width:48.00px;height:9.76px;justify-content:center;font-size:6.2px;font-weight:bold;-webkit-text-stroke:0.12px currentColor;color:#2a1a1a;">February</div></div><div class="t" style="left:908.40px;top:41.08px;width:48.00px;height:9.76px;"><div class="ti" style="left:0.00px;width:48.00px;height:9.76px;justify-content:center;font-size:6.2px;font-weight:bold;-webkit-text-stroke:0.12px currentColor;color:#2a1a1a;">March</div></div><div class="t" style="left:908.40px;top:50.84px;width:48.00px;height:9.76px;"><div class="ti" style="left:0.00px;width:48.00px;height:9.76px;justify-content:center;font-size:6.2px;font-weight:bold;-webkit-text-stroke:0.12px currentColor;color:#2a1a1a;">April</div></div><div class="t" style="left:908.40px;top:60.60px;width:48.00px;height:9.76px;"><div class="ti" style="left:0.00px;width:48.00px;height:9.76px;justify-content:center;font-size:6.2px;font-weight:bold;-webkit-text-stroke:0.12px currentColor;color:#2a1a1a;">May</div></div><div class="t" style="left:908.40px;top:70.36px;width:48.00px;height:9.76px;"><div class="ti" style="left:0.00px;width:48.00px;height:9.76px;justify-content:center;font-size:6.2px;font-weight:bold;-webkit-text-stroke:0.12px currentColor;color:#2a1a1a;">June</div></div><div class="t" style="left:908.40px;top:80.12px;width:48.00px;height:9.76px;"><div class="ti" style="left:0.00px;width:48.00px;height:9.76px;justify-content:center;font-size:6.2px;font-weight:bold;-webkit-text-stroke:0.12px currentColor;color:#2a1a1a;">July</div></div><div class="t" style="left:908.40px;top:89.88px;width:48.00px;height:9.76px;"><div class="ti" style="left:0.00px;width:48.00px;height:9.76px;justify-content:center;font-size:6.2px;font-weight:bold;-webkit-text-stroke:0.12px currentColor;color:#2a1a1a;">August</div></div><div class="t" style="left:908.40px;top:99.64px;width:48.00px;height:9.76px;"><div class="ti" style="left:0.00px;width:48.00px;height:9.76px;justify-content:center;font-size:6.2px;font-weight:bold;-webkit-text-stroke:0.12px currentColor;color:#2a1a1a;">September</div></div><div class="t" style="left:908.40px;top:109.40px;width:48.00px;height:9.76px;"><div class="ti" style="left:0.00px;width:48.00px;height:9.76px;justify-content:center;font-size:6.2px;font-weight:bold;-webkit-text-stroke:0.12px currentColor;color:#2a1a1a;">October</div></div><div class="t" style="left:908.40px;top:119.16px;width:48.00px;height:9.76px;"><div class="ti" style="left:0.00px;width:48.00px;height:9.76px;justify-content:center;font-size:6.2px;font-weight:bold;-webkit-text-stroke:0.12px currentColor;color:#2a1a1a;">November</div></div><div class="t" style="left:908.40px;top:128.92px;width:48.00px;height:9.76px;"><div class="ti" style="left:0.00px;width:48.00px;height:9.76px;justify-content:center;font-size:6.2px;font-weight:bold;-webkit-text-stroke:0.12px currentColor;color:#2a1a1a;">December</div></div><div class="t" style="left:908.40px;top:138.68px;width:48.00px;height:9.76px;"><div class="ti" style="left:0.00px;width:48.00px;height:9.76px;justify-content:center;font-size:6.2px;font-weight:bold;-webkit-text-stroke:0.12px currentColor;color:#2a1a1a;">YTD</div></div><div class="t" style="left:956.40px;top:138.68px;width:48.60px;height:9.76px;"><div class="ti" style="left:0.00px;width:48.60px;height:9.76px;justify-content:center;font-size:6.2px;font-weight:bold;-webkit-text-stroke:0.12px currentColor;color:#2a1a1a;">$171.30</div></div><div class="t" style="left:908.40px;top:158.20px;width:96.60px;height:9.76px;"><div class="ti" style="left:0.00px;width:96.60px;height:9.76px;justify-content:center;font-size:6.2px;font-weight:bold;-webkit-text-stroke:0.12px currentColor;color:#2a1a1a;">BY SITE</div></div><div class="t" style="left:908.40px;top:167.96px;width:48.00px;height:9.76px;"><div class="ti" style="left:0.00px;width:48.00px;height:9.76px;justify-content:center;font-size:6.2px;font-weight:bold;-webkit-text-stroke:0.12px currentColor;color:#2a1a1a;">ManyVids</div></div><div class="t" style="left:956.40px;top:167.96px;width:48.60px;height:9.76px;"><div class="ti" style="left:0.00px;width:48.60px;height:9.76px;justify-content:center;font-size:6.2px;color:#2a1a1a;">$78.26</div></div><div class="t" style="left:908.40px;top:177.72px;width:48.00px;height:9.76px;"><div class="ti" style="left:0.00px;width:48.00px;height:9.76px;justify-content:center;font-size:6.2px;font-weight:bold;-webkit-text-stroke:0.12px currentColor;color:#2a1a1a;">Clips4Sale</div></div><div class="t" style="left:956.40px;top:177.72px;width:48.60px;height:9.76px;"><div class="ti" style="left:0.00px;width:48.60px;height:9.76px;justify-content:center;font-size:6.2px;color:#2a1a1a;">$93.04</div></div><div class="t" style="left:956.40px;top:187.48px;width:48.60px;height:9.76px;"><div class="ti" style="left:0.00px;width:48.60px;height:9.76px;justify-content:center;font-size:6.2px;color:#2a1a1a;">$0.00</div></div><div class="t" style="left:956.40px;top:197.24px;width:48.60px;height:9.76px;"><div class="ti" style="left:0.00px;width:48.60px;height:9.76px;justify-content:center;font-size:6.2px;color:#2a1a1a;">$0.00</div></div><div class="t" style="left:956.40px;top:207.00px;width:48.60px;height:9.76px;"><div class="ti" style="left:0.00px;width:48.60px;height:9.76px;justify-content:center;font-size:6.2px;color:#2a1a1a;">$0.00</div></div><div class="t" style="left:956.40px;top:216.76px;width:48.60px;height:9.76px;"><div class="ti" style="left:0.00px;width:48.60px;height:9.76px;justify-content:center;font-size:6.2px;color:#2a1a1a;">$0.00</div></div><div class="t" style="left:956.40px;top:226.52px;width:48.60px;height:9.76px;"><div class="ti" style="left:0.00px;width:48.60px;height:9.76px;justify-content:center;font-size:6.2px;color:#2a1a1a;">$0.00</div></div>
</div>
<svg style="position:absolute;left:0;top:0" width="1005" height="515" viewBox="0 0 1005 515" font-family="Liberation Sans, sans-serif"><rect x="347.3" y="265.3" width="429.90000000000003" height="249.7" fill="#cfe2f3"/><rect x="347.3" y="265.3" width="429.9" height="1.4" fill="#c9d3dc"/><line x1="347.6" y1="265.5" x2="347.6" y2="515" stroke="#9aa3ab" stroke-width="0.8"/><line x1="776.8" y1="265.5" x2="776.8" y2="515" stroke="#9aa3ab" stroke-width="0.8"/><line x1="563.5" y1="266" x2="563.5" y2="515" stroke="#8b8f93" stroke-width="0.9"/><line x1="347.3" y1="396.4" x2="777" y2="396.6" stroke="#8b8f93" stroke-width="0.9"/><text x="455.5" y="280.8" font-size="9.4" font-weight="bold" fill="#757575" text-anchor="middle">Percentage of Earnings by Payment Method</text><path d="M508.50,336.60 L508.42,338.62 L508.20,340.63 L507.82,342.64 L507.29,344.62 L506.61,346.58 L505.78,348.51 L504.81,350.41 L503.70,352.27 L502.45,354.08 L501.06,355.84 L499.55,357.54 L497.91,359.19 L496.14,360.76 L494.26,362.27 L492.27,363.70 L490.18,365.05 L487.98,366.32 L485.69,367.51 L483.32,368.60 L480.87,369.60 L478.35,370.50 L475.76,371.30 L473.12,372.01 L470.42,372.61 L467.69,373.10 L464.92,373.49 L462.13,373.77 L459.32,373.94 L456.50,374.00 L453.68,373.95 L453.68,380.75 L456.50,380.80 L459.32,380.74 L462.13,380.57 L464.92,380.29 L467.69,379.90 L470.42,379.41 L473.12,378.81 L475.76,378.10 L478.35,377.30 L480.87,376.40 L483.32,375.40 L485.69,374.31 L487.98,373.12 L490.18,371.85 L492.27,370.50 L494.26,369.07 L496.14,367.56 L497.91,365.99 L499.55,364.34 L501.06,362.64 L502.45,360.88 L503.70,359.07 L504.81,357.21 L505.78,355.31 L506.61,353.38 L507.29,351.42 L507.82,349.44 L508.20,347.43 L508.42,345.42 L508.50,343.40Z" fill="#9d7a8b"/><path d="M453.68,373.95 L452.60,373.91 L451.52,373.84 L450.44,373.76 L449.37,373.67 L448.30,373.56 L447.23,373.43 L446.16,373.29 L445.11,373.13 L444.05,372.96 L443.00,372.77 L441.96,372.56 L440.92,372.34 L439.89,372.10 L438.86,371.85 L437.85,371.59 L436.84,371.30 L435.84,371.01 L434.85,370.70 L433.87,370.37 L432.89,370.03 L431.93,369.67 L430.98,369.31 L430.04,368.92 L429.11,368.53 L428.19,368.11 L427.29,367.69 L426.39,367.25 L425.51,366.80 L424.64,366.34 L423.79,365.86 L423.79,372.66 L424.64,373.14 L425.51,373.60 L426.39,374.05 L427.29,374.49 L428.19,374.91 L429.11,375.33 L430.04,375.72 L430.98,376.11 L431.93,376.47 L432.89,376.83 L433.87,377.17 L434.85,377.50 L435.84,377.81 L436.84,378.10 L437.85,378.39 L438.86,378.65 L439.89,378.90 L440.92,379.14 L441.96,379.36 L443.00,379.57 L444.05,379.76 L445.11,379.93 L446.16,380.09 L447.23,380.23 L448.30,380.36 L449.37,380.47 L450.44,380.56 L451.52,380.64 L452.60,380.71 L453.68,380.75Z" fill="#665a8e"/><path d="M423.79,365.86 L422.58,365.15 L421.40,364.41 L420.26,363.65 L419.14,362.87 L418.06,362.06 L417.01,361.23 L416.00,360.37 L415.03,359.50 L414.09,358.60 L413.19,357.69 L412.33,356.75 L411.50,355.80 L410.72,354.83 L409.98,353.84 L409.28,352.84 L408.62,351.83 L408.01,350.80 L407.44,349.75 L406.91,348.70 L406.42,347.63 L405.98,346.56 L405.59,345.48 L405.24,344.38 L404.94,343.28 L404.68,342.18 L404.47,341.07 L404.31,339.96 L404.19,338.84 L404.12,337.72 L404.10,336.60 L404.10,343.40 L404.12,344.52 L404.19,345.64 L404.31,346.76 L404.47,347.87 L404.68,348.98 L404.94,350.08 L405.24,351.18 L405.59,352.28 L405.98,353.36 L406.42,354.43 L406.91,355.50 L407.44,356.55 L408.01,357.60 L408.62,358.63 L409.28,359.64 L409.98,360.64 L410.72,361.63 L411.50,362.60 L412.33,363.55 L413.19,364.49 L414.09,365.40 L415.03,366.30 L416.00,367.17 L417.01,368.03 L418.06,368.86 L419.14,369.67 L420.26,370.45 L421.40,371.21 L422.58,371.95 L423.79,372.66Z" fill="#7a90b5"/><path d="M456.30,336.60 L456.30,299.20 L460.00,299.29 L463.68,299.58 L467.32,300.04 L470.91,300.70 L474.43,301.53 L477.85,302.54 L481.17,303.72 L484.36,305.06 L487.41,306.57 L490.30,308.22 L493.02,310.02 L495.56,311.95 L497.90,314.00 L500.03,316.17 L501.94,318.45 L503.62,320.81 L505.06,323.25 L506.26,325.76 L507.21,328.32 L507.90,330.93 L508.33,333.56 L508.50,336.21 L508.40,338.86 L508.05,341.50 L507.43,344.12 L506.56,346.70 L505.44,349.22 L504.06,351.69 L502.45,354.08 L500.61,356.37 L498.54,358.57 L496.26,360.66 L493.78,362.63 L491.11,364.47 L488.26,366.17 L485.26,367.72 L482.11,369.11 L478.83,370.34 L475.43,371.40 L471.94,372.28 L468.38,372.99 L464.75,373.51 L461.07,373.84 L457.38,373.99 L453.68,373.95Z" fill="#d5a6bd"/><path d="M456.30,336.60 L453.68,373.95 L449.64,373.69 L445.63,373.21 L441.70,372.51 L437.85,371.59 L434.11,370.45 L430.51,369.12 L427.06,367.58 L423.79,365.86Z" fill="#8e7cc3"/><path d="M456.30,336.60 L423.79,365.86 L420.90,364.08 L418.19,362.16 L415.69,360.10 L413.41,357.92 L411.35,355.62 L409.54,353.22 L407.97,350.73 L406.66,348.17 L405.61,345.54 L404.84,342.87 L404.34,340.16 L404.11,337.44 L404.17,334.71 L404.50,331.99 L405.11,329.30 L405.99,326.64 L407.13,324.04 L408.54,321.50 L410.21,319.05 L412.12,316.68 L414.26,314.43Z" fill="#a4c2f4"/><path d="M456.30,336.60 L414.26,314.43 L416.60,312.32 L419.14,310.33 L421.87,308.49 L424.79,306.78 L427.86,305.24 L431.09,303.85 L434.44,302.64 L437.91,301.60 L441.47,300.74 L445.11,300.07 L448.81,299.59 L452.54,299.30 L456.30,299.20Z" fill="#ea9999"/><line x1="355.3" y1="304.6" x2="434" y2="304.6" stroke="#8f9aa4" stroke-width="0.9"/><circle cx="434" cy="304.6" r="1.0" fill="#6d7278"/><text x="355.3" y="302.8" font-size="5.7" fill="#2a2a2a" text-anchor="start">Amazon GC</text><text x="355.3" y="310.0" font-size="5.7" fill="#929292" text-anchor="start">14.9%</text><line x1="355.3" y1="340.8" x2="408" y2="340.8" stroke="#8f9aa4" stroke-width="0.9"/><circle cx="408" cy="340.8" r="1.0" fill="#6d7278"/><text x="355.3" y="339.0" font-size="5.7" fill="#2a2a2a" text-anchor="start">iWantClips</text><text x="355.3" y="346.2" font-size="5.7" fill="#929292" text-anchor="start">24.4%</text><line x1="355.3" y1="368.6" x2="439" y2="368.6" stroke="#8f9aa4" stroke-width="0.9"/><circle cx="439" cy="368.6" r="1.0" fill="#6d7278"/><text x="355.3" y="366.8" font-size="5.7" fill="#2a2a2a" text-anchor="start">Clips4Sale</text><text x="355.3" y="374.0" font-size="5.7" fill="#929292" text-anchor="start">9.9%</text><line x1="506" y1="337.1" x2="555.4" y2="337.1" stroke="#8f9aa4" stroke-width="0.9"/><circle cx="506" cy="337.1" r="1.0" fill="#6d7278"/><text x="555.4" y="335.3" font-size="5.7" fill="#2a2a2a" text-anchor="end">ManyVids</text><text x="555.4" y="342.5" font-size="5.7" fill="#929292" text-anchor="end">50.8%</text><text x="670.4" y="281.7" font-size="9.4" font-weight="bold" fill="#757575" text-anchor="middle">Earnings by Payment Method</text><line x1="594.9" y1="384.90" x2="770.3" y2="384.90" stroke="#444" stroke-width="1.0"/><text x="591.8" y="386.70" font-size="5.8" fill="#2a2a2a" text-anchor="end">$0.00</text><line x1="594.9" y1="366.14" x2="770.3" y2="366.14" stroke="#b9c6d1" stroke-width="0.9"/><text x="591.8" y="367.94" font-size="5.8" fill="#2a2a2a" text-anchor="end">$100.00</text><line x1="594.9" y1="347.38" x2="770.3" y2="347.38" stroke="#b9c6d1" stroke-width="0.9"/><text x="591.8" y="349.18" font-size="5.8" fill="#2a2a2a" text-anchor="end">$200.00</text><line x1="594.9" y1="328.62" x2="770.3" y2="328.62" stroke="#b9c6d1" stroke-width="0.9"/><text x="591.8" y="330.42" font-size="5.8" fill="#2a2a2a" text-anchor="end">$300.00</text><line x1="594.9" y1="309.86" x2="770.3" y2="309.86" stroke="#b9c6d1" stroke-width="0.9"/><text x="591.8" y="311.66" font-size="5.8" fill="#2a2a2a" text-anchor="end">$400.00</text><line x1="594.9" y1="291.10" x2="770.3" y2="291.10" stroke="#b9c6d1" stroke-width="0.9"/><text x="591.8" y="292.90" font-size="5.8" fill="#2a2a2a" text-anchor="end">$500.00</text><rect x="609" y="294.78" width="26.20" height="89.72" rx="0.8" fill="#6d9eeb"/><text x="622.10" y="301.68" font-size="5.6" fill="#1a1a2a" text-anchor="middle">$478.26</text><text x="622.10" y="392.6" font-size="5.3" font-weight="bold" fill="#222" text-anchor="middle">ManyVids</text><rect x="649.3" y="367.05" width="26.20" height="17.45" rx="0.8" fill="#6d9eeb"/><text x="662.40" y="373.95" font-size="5.6" fill="#1a1a2a" text-anchor="middle">$93.04</text><text x="662.40" y="392.6" font-size="5.3" font-weight="bold" fill="#222" text-anchor="middle">Clips4Sale</text><rect x="689.5" y="341.35" width="25.90" height="43.15" rx="0.8" fill="#6d9eeb"/><text x="702.45" y="348.25" font-size="5.6" fill="#1a1a2a" text-anchor="middle">$230.00</text><text x="702.45" y="392.6" font-size="5.3" font-weight="bold" fill="#222" text-anchor="middle">iWantClips</text><rect x="730" y="358.24" width="25.70" height="26.26" rx="0.8" fill="#6d9eeb"/><text x="742.85" y="365.14" font-size="5.6" fill="#1a1a2a" text-anchor="middle">$140.00</text><text x="742.85" y="392.6" font-size="5.3" font-weight="bold" fill="#222" text-anchor="middle">Amazon GC</text><text x="456.5" y="411.0" font-size="9.4" font-weight="bold" fill="#757575" text-anchor="middle">Percentage of Earnings by Service</text><path d="M510.00,466.40 L509.93,468.38 L509.71,470.35 L509.34,472.31 L508.83,474.25 L508.18,476.17 L507.39,478.06 L506.45,479.93 L505.38,481.75 L504.18,483.53 L502.84,485.27 L501.38,486.95 L499.80,488.58 L498.10,490.14 L496.28,491.64 L494.36,493.07 L492.33,494.43 L490.21,495.70 L487.99,496.90 L485.69,498.02 L483.31,499.04 L480.85,499.98 L478.33,500.82 L475.75,501.57 L473.12,502.22 L470.45,502.77 L467.74,503.22 L464.99,503.57 L462.23,503.82 L459.45,503.96 L456.67,504.00 L456.67,510.80 L459.45,510.76 L462.23,510.62 L464.99,510.37 L467.74,510.02 L470.45,509.57 L473.12,509.02 L475.75,508.37 L478.33,507.62 L480.85,506.78 L483.31,505.84 L485.69,504.82 L487.99,503.70 L490.21,502.50 L492.33,501.23 L494.36,499.87 L496.28,498.44 L498.10,496.94 L499.80,495.38 L501.38,493.75 L502.84,492.07 L504.18,490.33 L505.38,488.55 L506.45,486.73 L507.39,484.86 L508.18,482.97 L508.83,481.05 L509.34,479.11 L509.71,477.15 L509.93,475.18 L510.00,473.20Z" fill="#915c78"/><path d="M456.67,504.00 L453.96,503.94 L451.26,503.78 L448.58,503.52 L445.92,503.17 L443.28,502.72 L440.69,502.17 L438.13,501.54 L435.63,500.81 L433.18,499.99 L430.79,499.08 L428.47,498.09 L426.23,497.01 L424.06,495.86 L421.98,494.62 L420.00,493.32 L418.11,491.94 L416.32,490.50 L414.64,488.99 L413.07,487.43 L411.61,485.81 L410.27,484.14 L409.05,482.42 L407.96,480.67 L407.00,478.87 L406.17,477.04 L405.47,475.19 L404.90,473.31 L404.47,471.41 L404.18,469.50 L404.03,467.58 L404.03,474.38 L404.18,476.30 L404.47,478.21 L404.90,480.11 L405.47,481.99 L406.17,483.84 L407.00,485.67 L407.96,487.47 L409.05,489.22 L410.27,490.94 L411.61,492.61 L413.07,494.23 L414.64,495.79 L416.32,497.30 L418.11,498.74 L420.00,500.12 L421.98,501.42 L424.06,502.66 L426.23,503.81 L428.47,504.89 L430.79,505.88 L433.18,506.79 L435.63,507.61 L438.13,508.34 L440.69,508.97 L443.28,509.52 L445.92,509.97 L448.58,510.32 L451.26,510.58 L453.96,510.74 L456.67,510.80Z" fill="#7a90b5"/><path d="M404.03,467.58 L404.02,467.54 L404.02,467.50 L404.02,467.46 L404.02,467.42 L404.02,467.38 L404.02,467.34 L404.02,467.31 L404.01,467.27 L404.01,467.23 L404.01,467.19 L404.01,467.15 L404.01,467.11 L404.01,467.07 L404.01,467.03 L404.01,466.99 L404.01,466.95 L404.00,466.91 L404.00,466.87 L404.00,466.83 L404.00,466.79 L404.00,466.75 L404.00,466.71 L404.00,466.68 L404.00,466.64 L404.00,466.60 L404.00,466.56 L404.00,466.52 L404.00,466.48 L404.00,466.44 L404.00,466.40 L404.00,473.20 L404.00,473.24 L404.00,473.28 L404.00,473.32 L404.00,473.36 L404.00,473.40 L404.00,473.44 L404.00,473.48 L404.00,473.51 L404.00,473.55 L404.00,473.59 L404.00,473.63 L404.00,473.67 L404.00,473.71 L404.01,473.75 L404.01,473.79 L404.01,473.83 L404.01,473.87 L404.01,473.91 L404.01,473.95 L404.01,473.99 L404.01,474.03 L404.01,474.07 L404.02,474.11 L404.02,474.14 L404.02,474.18 L404.02,474.22 L404.02,474.26 L404.02,474.30 L404.02,474.34 L404.03,474.38Z" fill="#b07373"/><path d="M457.00,466.40 L457.00,428.80 L460.78,428.90 L464.55,429.18 L468.28,429.66 L471.95,430.33 L475.54,431.18 L479.04,432.20 L482.42,433.41 L485.68,434.78 L488.79,436.31 L491.74,438.00 L494.51,439.83 L497.08,441.80 L499.46,443.90 L501.62,446.10 L503.54,448.42 L505.24,450.82Z" fill="#b4a7d6"/><path d="M457.00,466.40 L505.24,450.82 L506.68,453.31 L507.88,455.86 L508.81,458.47 L509.47,461.12 L509.87,463.79 L510.00,466.48 L509.86,469.17 L509.44,471.85 L508.76,474.50 L507.81,477.10 L506.60,479.65 L505.14,482.13 L503.43,484.54 L501.48,486.85 L499.30,489.05 L496.91,491.14 L494.32,493.10 L491.53,494.93 L488.56,496.60 L485.44,498.13 L482.17,499.49 L478.77,500.68 L475.25,501.70 L471.65,502.54 L467.97,503.19 L464.23,503.65 L460.46,503.92 L456.67,504.00Z" fill="#c27ba0"/><path d="M457.00,466.40 L456.67,504.00 L452.80,503.88 L448.96,503.56 L445.16,503.05 L441.42,502.34 L437.77,501.44 L434.22,500.35 L430.79,499.08 L427.50,497.64 L424.37,496.03 L421.41,494.26 L418.64,492.34 L416.07,490.29 L413.72,488.11 L411.61,485.81 L409.73,483.41 L408.11,480.92 L406.75,478.35 L405.65,475.72 L404.83,473.04 L404.29,470.32 L404.03,467.58Z" fill="#a4c2f4"/><path d="M457.00,466.40 L404.03,467.58 L404.04,464.87 L404.34,462.17 L404.90,459.50 L405.74,456.86 L406.84,454.26 L408.20,451.73 L409.81,449.28 L411.67,446.92 L413.76,444.65 L416.08,442.50 L418.61,440.48 L421.34,438.58 L424.25,436.84Z" fill="#ea9999"/><path d="M457.00,466.40 L424.25,436.84 L427.42,435.20 L430.76,433.73 L434.23,432.45 L437.83,431.34 L441.54,430.44 L445.33,429.72 L449.18,429.21 L453.08,428.90 L457.00,428.80Z" fill="#a2c4c9"/><line x1="355" y1="432.6" x2="440.7" y2="432.6" stroke="#8f9aa4" stroke-width="0.9"/><circle cx="440.7" cy="432.6" r="1.0" fill="#6d7278"/><text x="355" y="430.8" font-size="5.7" fill="#2a2a2a" text-anchor="start">Tip</text><text x="355" y="438.0" font-size="5.7" fill="#929292" text-anchor="start">10.6%</text><line x1="355" y1="451.5" x2="411.6" y2="451.5" stroke="#8f9aa4" stroke-width="0.9"/><circle cx="411.6" cy="451.5" r="1.0" fill="#6d7278"/><text x="355" y="449.7" font-size="5.7" fill="#2a2a2a" text-anchor="start">Rate</text><text x="355" y="456.9" font-size="5.7" fill="#929292" text-anchor="start">14.9%</text><line x1="355" y1="491.8" x2="422.5" y2="491.8" stroke="#8f9aa4" stroke-width="0.9"/><circle cx="422.5" cy="491.8" r="1.0" fill="#6d7278"/><text x="355" y="490.0" font-size="5.7" fill="#2a2a2a" text-anchor="start">Custom Video</text><text x="355" y="497.2" font-size="5.7" fill="#929292" text-anchor="start">24.4%</text><line x1="483" y1="436.5" x2="557" y2="436.5" stroke="#8f9aa4" stroke-width="0.9"/><circle cx="483" cy="436.5" r="1.0" fill="#6d7278"/><text x="557" y="434.7" font-size="5.7" fill="#2a2a2a" text-anchor="end">Videos</text><text x="557" y="441.9" font-size="5.7" fill="#929292" text-anchor="end">18.2%</text><line x1="499" y1="485.8" x2="557" y2="485.8" stroke="#8f9aa4" stroke-width="0.9"/><circle cx="499" cy="485.8" r="1.0" fill="#6d7278"/><text x="557" y="484.0" font-size="5.7" fill="#2a2a2a" text-anchor="end">Cam</text><text x="557" y="491.2" font-size="5.7" fill="#929292" text-anchor="end">31.9%</text><text x="669.6" y="411.5" font-size="9.4" font-weight="bold" fill="#757575" text-anchor="middle">Earnings by Service</text><rect x="625.9" y="417.4" width="5.8" height="5.8" fill="#8e7cc3"/><text x="635.6" y="422.3" font-size="5.8" fill="#333">Length</text><rect x="661" y="417.4" width="5.8" height="5.8" fill="#ea4335"/><text x="670.3" y="422.3" font-size="5.8" fill="#333">Payment</text><rect x="700.7" y="417.4" width="5.8" height="5.8" fill="#fbbc04"/><text x="710.4" y="422.3" font-size="5.8" fill="#333">$</text><line x1="583" y1="515.00" x2="768.6" y2="515.00" stroke="#b8c4cf" stroke-width="0.6"/><text x="580" y="516.90" font-size="5.3" fill="#333" text-anchor="end">0</text><line x1="583" y1="486.94" x2="768.6" y2="486.94" stroke="#b8c4cf" stroke-width="0.6"/><text x="580" y="488.84" font-size="5.3" fill="#333" text-anchor="end">100</text><line x1="583" y1="458.88" x2="768.6" y2="458.88" stroke="#b8c4cf" stroke-width="0.6"/><text x="580" y="460.78" font-size="5.3" fill="#333" text-anchor="end">200</text><line x1="583" y1="430.82" x2="768.6" y2="430.82" stroke="#b8c4cf" stroke-width="0.6"/><text x="580" y="432.72" font-size="5.3" fill="#333" text-anchor="end">300</text><rect x="610.8" y="467.30" width="6.8" height="47.70" fill="#fbbc04"/><rect x="645.3" y="430.82" width="6.8" height="84.18" fill="#fbbc04"/><rect x="680" y="450.46" width="6.8" height="64.54" fill="#fbbc04"/><rect x="714.7" y="475.72" width="6.8" height="39.28" fill="#fbbc04"/><rect x="749.2" y="486.94" width="6.8" height="28.06" fill="#fbbc04"/></svg><div style="position:absolute;left:957px;top:510.3px;width:60px;height:10px;border:1.4px solid #2563c4;background:transparent"></div><div style="position:absolute;left:0;top:514px;width:1005px;height:1px;background:#d8d8d8"></div>
</body></html>
